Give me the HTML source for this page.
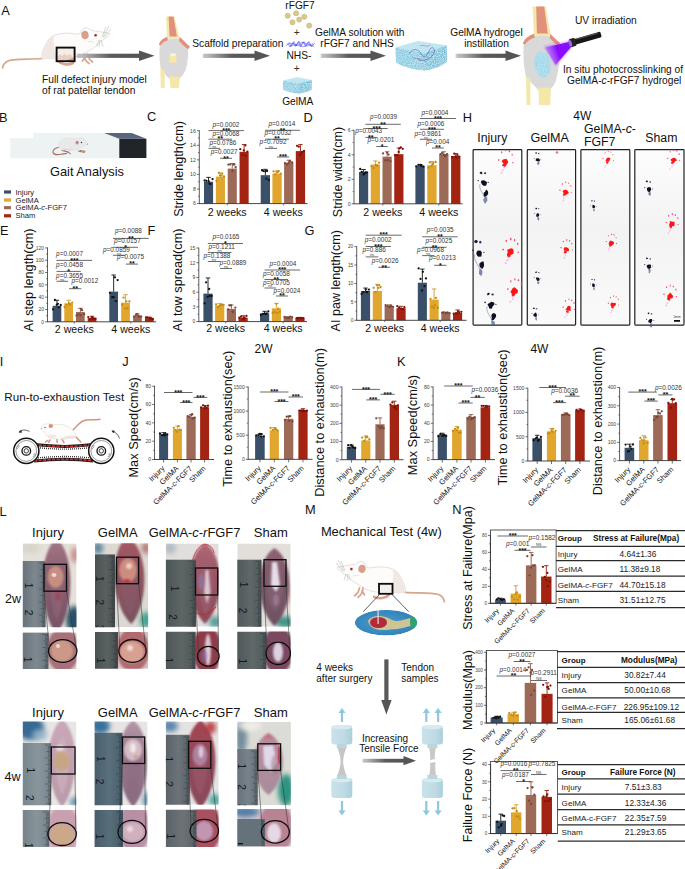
<!DOCTYPE html>
<html><head><meta charset="utf-8"><style>
html,body{margin:0;padding:0;background:#fff;width:685px;height:869px;overflow:hidden;}
svg{display:block;}
</style></head><body>
<svg width="685" height="869" viewBox="0 0 685 869" font-family='"Liberation Sans", sans-serif'>
<rect x="0.00" y="0.00" width="685.00" height="869.00" fill="#ffffff"/>
<text x="1.20" y="14.70" font-size="12.8" fill="#111">A</text>
<text x="-0.95" y="121.50" font-size="12.8" fill="#111">B</text>
<text x="147.08" y="121.40" font-size="12.8" fill="#111">C</text>
<text x="303.52" y="122.00" font-size="12.8" fill="#111">D</text>
<text x="462.80" y="121.80" font-size="12.8" fill="#111">H</text>
<text x="0.00" y="235.00" font-size="12.8" fill="#111">E</text>
<text x="147.50" y="234.50" font-size="12.8" fill="#111">F</text>
<text x="304.40" y="235.00" font-size="12.8" fill="#111">G</text>
<text x="-0.20" y="365.80" font-size="12.8" fill="#111">I</text>
<text x="122.30" y="366.00" font-size="12.8" fill="#111">J</text>
<text x="397.05" y="366.00" font-size="12.8" fill="#111">K</text>
<text x="-0.45" y="515.80" font-size="12.8" fill="#111">L</text>
<text x="305.05" y="513.60" font-size="12.8" fill="#111">M</text>
<text x="452.13" y="514.00" font-size="12.8" fill="#111">N</text>
<rect x="204.00" y="181.73" width="9.10" height="21.87" fill="#3a5069"/>
<line x1="208.55" y1="181.73" x2="208.55" y2="177.36" stroke="#111111" stroke-width="0.9"/>
<line x1="206.35" y1="177.36" x2="210.75" y2="177.36" stroke="#111111" stroke-width="0.9"/>
<circle cx="204.64" cy="180.50" r="1.15" fill="#111111"/>
<circle cx="206.43" cy="180.79" r="1.15" fill="#111111"/>
<circle cx="208.75" cy="181.46" r="1.15" fill="#111111"/>
<circle cx="210.66" cy="184.06" r="1.15" fill="#111111"/>
<circle cx="212.52" cy="179.05" r="1.15" fill="#111111"/>
<circle cx="209.51" cy="183.85" r="1.15" fill="#111111"/>
<rect x="215.85" y="176.63" width="9.10" height="26.97" fill="#e0a62d"/>
<line x1="220.40" y1="176.63" x2="220.40" y2="172.98" stroke="#d39c20" stroke-width="0.9"/>
<line x1="218.20" y1="172.98" x2="222.60" y2="172.98" stroke="#d39c20" stroke-width="0.9"/>
<circle cx="216.48" cy="180.80" r="1.15" fill="#c58d10"/>
<circle cx="218.87" cy="172.82" r="1.15" fill="#c58d10"/>
<circle cx="220.02" cy="175.38" r="1.15" fill="#c58d10"/>
<circle cx="222.26" cy="173.60" r="1.15" fill="#c58d10"/>
<circle cx="224.09" cy="176.51" r="1.15" fill="#c58d10"/>
<circle cx="221.57" cy="175.59" r="1.15" fill="#c58d10"/>
<rect x="227.70" y="168.61" width="9.10" height="34.99" fill="#9d6a58"/>
<line x1="232.25" y1="168.61" x2="232.25" y2="163.50" stroke="#8e5a48" stroke-width="0.9"/>
<line x1="230.05" y1="163.50" x2="234.45" y2="163.50" stroke="#8e5a48" stroke-width="0.9"/>
<circle cx="228.35" cy="164.55" r="1.15" fill="#7d4535"/>
<circle cx="230.21" cy="164.43" r="1.15" fill="#7d4535"/>
<circle cx="232.52" cy="170.94" r="1.15" fill="#7d4535"/>
<circle cx="234.39" cy="164.45" r="1.15" fill="#7d4535"/>
<circle cx="235.62" cy="167.25" r="1.15" fill="#7d4535"/>
<circle cx="233.27" cy="164.56" r="1.15" fill="#7d4535"/>
<rect x="239.55" y="151.84" width="9.10" height="51.76" fill="#a32413"/>
<line x1="244.10" y1="151.84" x2="244.10" y2="144.55" stroke="#951d10" stroke-width="0.9"/>
<line x1="241.90" y1="144.55" x2="246.30" y2="144.55" stroke="#951d10" stroke-width="0.9"/>
<circle cx="240.29" cy="149.21" r="1.15" fill="#7c1206"/>
<circle cx="242.32" cy="154.83" r="1.15" fill="#7c1206"/>
<circle cx="243.86" cy="150.40" r="1.15" fill="#7c1206"/>
<circle cx="245.65" cy="155.91" r="1.15" fill="#7c1206"/>
<circle cx="247.37" cy="151.61" r="1.15" fill="#7c1206"/>
<circle cx="245.39" cy="145.38" r="1.15" fill="#7c1206"/>
<rect x="260.70" y="175.17" width="9.30" height="28.43" fill="#3a5069"/>
<line x1="265.35" y1="175.17" x2="265.35" y2="169.34" stroke="#111111" stroke-width="0.9"/>
<line x1="263.15" y1="169.34" x2="267.55" y2="169.34" stroke="#111111" stroke-width="0.9"/>
<circle cx="262.01" cy="170.14" r="1.15" fill="#111111"/>
<circle cx="263.37" cy="171.09" r="1.15" fill="#111111"/>
<circle cx="265.26" cy="171.33" r="1.15" fill="#111111"/>
<circle cx="267.05" cy="170.97" r="1.15" fill="#111111"/>
<circle cx="268.90" cy="180.05" r="1.15" fill="#111111"/>
<circle cx="266.42" cy="178.72" r="1.15" fill="#111111"/>
<rect x="272.40" y="173.71" width="9.30" height="29.89" fill="#e0a62d"/>
<line x1="277.05" y1="173.71" x2="277.05" y2="170.79" stroke="#d39c20" stroke-width="0.9"/>
<line x1="274.85" y1="170.79" x2="279.25" y2="170.79" stroke="#d39c20" stroke-width="0.9"/>
<circle cx="273.54" cy="171.41" r="1.15" fill="#c58d10"/>
<circle cx="275.05" cy="174.47" r="1.15" fill="#c58d10"/>
<circle cx="276.78" cy="172.24" r="1.15" fill="#c58d10"/>
<circle cx="278.69" cy="171.04" r="1.15" fill="#c58d10"/>
<circle cx="280.75" cy="173.68" r="1.15" fill="#c58d10"/>
<circle cx="277.93" cy="171.70" r="1.15" fill="#c58d10"/>
<rect x="284.10" y="162.78" width="9.30" height="40.82" fill="#9d6a58"/>
<line x1="288.75" y1="162.78" x2="288.75" y2="160.22" stroke="#8e5a48" stroke-width="0.9"/>
<line x1="286.55" y1="160.22" x2="290.95" y2="160.22" stroke="#8e5a48" stroke-width="0.9"/>
<circle cx="284.95" cy="163.10" r="1.15" fill="#7d4535"/>
<circle cx="286.98" cy="164.49" r="1.15" fill="#7d4535"/>
<circle cx="288.61" cy="163.01" r="1.15" fill="#7d4535"/>
<circle cx="290.23" cy="161.65" r="1.15" fill="#7d4535"/>
<circle cx="292.10" cy="162.48" r="1.15" fill="#7d4535"/>
<circle cx="289.92" cy="160.86" r="1.15" fill="#7d4535"/>
<rect x="295.80" y="151.11" width="9.30" height="52.49" fill="#a32413"/>
<line x1="300.45" y1="151.11" x2="300.45" y2="144.55" stroke="#951d10" stroke-width="0.9"/>
<line x1="298.25" y1="144.55" x2="302.65" y2="144.55" stroke="#951d10" stroke-width="0.9"/>
<circle cx="297.03" cy="145.81" r="1.15" fill="#7c1206"/>
<circle cx="298.77" cy="146.64" r="1.15" fill="#7c1206"/>
<circle cx="300.30" cy="154.89" r="1.15" fill="#7c1206"/>
<circle cx="302.17" cy="151.90" r="1.15" fill="#7c1206"/>
<circle cx="303.99" cy="150.89" r="1.15" fill="#7c1206"/>
<circle cx="301.42" cy="152.60" r="1.15" fill="#7c1206"/>
<line x1="199.30" y1="203.60" x2="199.30" y2="130.30" stroke="#333" stroke-width="0.8"/>
<line x1="198.90" y1="203.60" x2="307.50" y2="203.60" stroke="#333" stroke-width="0.9"/>
<line x1="196.90" y1="203.60" x2="199.30" y2="203.60" stroke="#333" stroke-width="0.7"/>
<text x="195.90" y="205.47" font-size="5.2" fill="#444" text-anchor="end">6</text>
<line x1="196.90" y1="189.02" x2="199.30" y2="189.02" stroke="#333" stroke-width="0.7"/>
<text x="195.90" y="190.89" font-size="5.2" fill="#444" text-anchor="end">8</text>
<line x1="196.90" y1="174.44" x2="199.30" y2="174.44" stroke="#333" stroke-width="0.7"/>
<text x="195.90" y="176.31" font-size="5.2" fill="#444" text-anchor="end">10</text>
<line x1="196.90" y1="159.86" x2="199.30" y2="159.86" stroke="#333" stroke-width="0.7"/>
<text x="195.90" y="161.73" font-size="5.2" fill="#444" text-anchor="end">12</text>
<line x1="196.90" y1="145.28" x2="199.30" y2="145.28" stroke="#333" stroke-width="0.7"/>
<text x="195.90" y="147.15" font-size="5.2" fill="#444" text-anchor="end">14</text>
<line x1="196.90" y1="130.70" x2="199.30" y2="130.70" stroke="#333" stroke-width="0.7"/>
<text x="195.90" y="132.57" font-size="5.2" fill="#444" text-anchor="end">16</text>
<line x1="197.90" y1="196.31" x2="199.30" y2="196.31" stroke="#333" stroke-width="0.6"/>
<line x1="197.90" y1="181.73" x2="199.30" y2="181.73" stroke="#333" stroke-width="0.6"/>
<line x1="197.90" y1="167.15" x2="199.30" y2="167.15" stroke="#333" stroke-width="0.6"/>
<line x1="197.90" y1="152.57" x2="199.30" y2="152.57" stroke="#333" stroke-width="0.6"/>
<line x1="197.90" y1="137.99" x2="199.30" y2="137.99" stroke="#333" stroke-width="0.6"/>
<text x="183.20" y="168.90" font-size="12.6" fill="#111" text-anchor="middle" transform="rotate(-90 183.20 168.90)">Stride length(cm)</text>
<text x="227.20" y="215.90" font-size="10.6" fill="#111" text-anchor="middle">2 weeks</text>
<line x1="227.20" y1="203.60" x2="227.20" y2="205.40" stroke="#333" stroke-width="0.7"/>
<text x="283.30" y="215.90" font-size="10.6" fill="#111" text-anchor="middle">4 weeks</text>
<line x1="283.30" y1="203.60" x2="283.30" y2="205.40" stroke="#333" stroke-width="0.7"/>
<line x1="208.50" y1="130.60" x2="244.00" y2="130.60" stroke="#444" stroke-width="0.8"/>
<text x="226.25" y="132.80" font-size="7.0" fill="#111" text-anchor="middle" font-weight="bold">***</text>
<text x="212.50" y="126.80" font-size="6.4" fill="#333"><tspan font-style="italic">p</tspan>=0.0002</text>
<line x1="208.50" y1="139.20" x2="232.00" y2="139.20" stroke="#444" stroke-width="0.8"/>
<text x="220.25" y="141.40" font-size="7.0" fill="#111" text-anchor="middle" font-weight="bold">**</text>
<text x="212.50" y="135.50" font-size="6.4" fill="#333"><tspan font-style="italic">p</tspan>=0.0068</text>
<line x1="208.50" y1="148.40" x2="220.00" y2="148.40" stroke="#444" stroke-width="0.8"/>
<text x="214.25" y="147.70" font-size="4.0" fill="#444" text-anchor="middle">ns</text>
<text x="209.50" y="144.50" font-size="6.4" fill="#333"><tspan font-style="italic">p</tspan>=0.0786</text>
<line x1="220.00" y1="158.30" x2="232.00" y2="158.30" stroke="#444" stroke-width="0.8"/>
<text x="226.00" y="160.50" font-size="7.0" fill="#111" text-anchor="middle" font-weight="bold">**</text>
<text x="210.70" y="153.50" font-size="6.4" fill="#333"><tspan font-style="italic">p</tspan>=0.0027</text>
<line x1="265.00" y1="130.30" x2="300.00" y2="130.30" stroke="#444" stroke-width="0.8"/>
<text x="282.50" y="132.50" font-size="7.0" fill="#111" text-anchor="middle" font-weight="bold">**</text>
<text x="268.50" y="126.00" font-size="6.4" fill="#333"><tspan font-style="italic">p</tspan>=0.0014</text>
<line x1="265.00" y1="139.20" x2="289.00" y2="139.20" stroke="#444" stroke-width="0.8"/>
<text x="277.00" y="141.40" font-size="7.0" fill="#111" text-anchor="middle" font-weight="bold">**</text>
<text x="264.50" y="135.30" font-size="6.4" fill="#333"><tspan font-style="italic">p</tspan>=0.0032</text>
<line x1="265.00" y1="148.40" x2="277.00" y2="148.40" stroke="#444" stroke-width="0.8"/>
<text x="271.00" y="147.70" font-size="4.0" fill="#444" text-anchor="middle">ns</text>
<text x="259.60" y="144.40" font-size="6.4" fill="#333"><tspan font-style="italic">p</tspan>=0.7092</text>
<line x1="277.00" y1="157.00" x2="289.00" y2="157.00" stroke="#444" stroke-width="0.8"/>
<text x="283.00" y="159.20" font-size="7.0" fill="#111" text-anchor="middle" font-weight="bold">***</text>
<rect x="359.00" y="171.95" width="9.20" height="31.85" fill="#3a5069"/>
<line x1="363.60" y1="171.95" x2="363.60" y2="169.50" stroke="#111111" stroke-width="0.9"/>
<line x1="361.40" y1="169.50" x2="365.80" y2="169.50" stroke="#111111" stroke-width="0.9"/>
<circle cx="360.20" cy="169.01" r="1.15" fill="#111111"/>
<circle cx="361.75" cy="171.89" r="1.15" fill="#111111"/>
<circle cx="363.54" cy="174.48" r="1.15" fill="#111111"/>
<circle cx="365.36" cy="172.45" r="1.15" fill="#111111"/>
<circle cx="366.96" cy="172.38" r="1.15" fill="#111111"/>
<circle cx="364.65" cy="173.51" r="1.15" fill="#111111"/>
<rect x="370.75" y="164.60" width="9.20" height="39.20" fill="#e0a62d"/>
<line x1="375.35" y1="164.60" x2="375.35" y2="160.93" stroke="#d39c20" stroke-width="0.9"/>
<line x1="373.15" y1="160.93" x2="377.55" y2="160.93" stroke="#d39c20" stroke-width="0.9"/>
<circle cx="371.51" cy="166.07" r="1.15" fill="#c58d10"/>
<circle cx="373.57" cy="168.05" r="1.15" fill="#c58d10"/>
<circle cx="375.65" cy="164.79" r="1.15" fill="#c58d10"/>
<circle cx="377.39" cy="165.39" r="1.15" fill="#c58d10"/>
<circle cx="379.06" cy="162.70" r="1.15" fill="#c58d10"/>
<circle cx="376.49" cy="165.68" r="1.15" fill="#c58d10"/>
<rect x="382.50" y="156.64" width="9.20" height="47.16" fill="#9d6a58"/>
<line x1="387.10" y1="156.64" x2="387.10" y2="151.74" stroke="#8e5a48" stroke-width="0.9"/>
<line x1="384.90" y1="151.74" x2="389.30" y2="151.74" stroke="#8e5a48" stroke-width="0.9"/>
<circle cx="383.11" cy="153.41" r="1.15" fill="#7d4535"/>
<circle cx="385.32" cy="160.50" r="1.15" fill="#7d4535"/>
<circle cx="387.17" cy="152.79" r="1.15" fill="#7d4535"/>
<circle cx="388.57" cy="154.61" r="1.15" fill="#7d4535"/>
<circle cx="390.50" cy="161.34" r="1.15" fill="#7d4535"/>
<circle cx="387.77" cy="160.16" r="1.15" fill="#7d4535"/>
<rect x="394.25" y="154.19" width="9.20" height="49.61" fill="#a32413"/>
<line x1="398.85" y1="154.19" x2="398.85" y2="148.06" stroke="#951d10" stroke-width="0.9"/>
<line x1="396.65" y1="148.06" x2="401.05" y2="148.06" stroke="#951d10" stroke-width="0.9"/>
<circle cx="394.88" cy="155.03" r="1.15" fill="#7c1206"/>
<circle cx="397.12" cy="155.19" r="1.15" fill="#7c1206"/>
<circle cx="398.64" cy="151.90" r="1.15" fill="#7c1206"/>
<circle cx="400.89" cy="147.38" r="1.15" fill="#7c1206"/>
<circle cx="402.75" cy="148.81" r="1.15" fill="#7c1206"/>
<circle cx="399.41" cy="148.29" r="1.15" fill="#7c1206"/>
<rect x="415.40" y="165.83" width="9.30" height="37.98" fill="#3a5069"/>
<line x1="420.05" y1="165.83" x2="420.05" y2="164.60" stroke="#111111" stroke-width="0.9"/>
<line x1="417.85" y1="164.60" x2="422.25" y2="164.60" stroke="#111111" stroke-width="0.9"/>
<circle cx="416.31" cy="166.31" r="1.15" fill="#111111"/>
<circle cx="418.42" cy="164.80" r="1.15" fill="#111111"/>
<circle cx="420.45" cy="164.96" r="1.15" fill="#111111"/>
<circle cx="421.49" cy="165.43" r="1.15" fill="#111111"/>
<circle cx="423.32" cy="166.64" r="1.15" fill="#111111"/>
<circle cx="421.04" cy="165.66" r="1.15" fill="#111111"/>
<rect x="427.30" y="165.21" width="9.30" height="38.59" fill="#e0a62d"/>
<line x1="431.95" y1="165.21" x2="431.95" y2="161.54" stroke="#d39c20" stroke-width="0.9"/>
<line x1="429.75" y1="161.54" x2="434.15" y2="161.54" stroke="#d39c20" stroke-width="0.9"/>
<circle cx="428.46" cy="167.79" r="1.15" fill="#c58d10"/>
<circle cx="429.79" cy="162.42" r="1.15" fill="#c58d10"/>
<circle cx="431.63" cy="166.15" r="1.15" fill="#c58d10"/>
<circle cx="433.40" cy="163.07" r="1.15" fill="#c58d10"/>
<circle cx="435.71" cy="162.02" r="1.15" fill="#c58d10"/>
<circle cx="432.71" cy="164.27" r="1.15" fill="#c58d10"/>
<rect x="439.20" y="154.19" width="9.30" height="49.61" fill="#9d6a58"/>
<line x1="443.85" y1="154.19" x2="443.85" y2="151.74" stroke="#8e5a48" stroke-width="0.9"/>
<line x1="441.65" y1="151.74" x2="446.05" y2="151.74" stroke="#8e5a48" stroke-width="0.9"/>
<circle cx="440.55" cy="154.17" r="1.15" fill="#7d4535"/>
<circle cx="442.16" cy="152.96" r="1.15" fill="#7d4535"/>
<circle cx="443.77" cy="154.81" r="1.15" fill="#7d4535"/>
<circle cx="445.64" cy="155.06" r="1.15" fill="#7d4535"/>
<circle cx="447.07" cy="154.11" r="1.15" fill="#7d4535"/>
<circle cx="445.10" cy="156.30" r="1.15" fill="#7d4535"/>
<rect x="451.10" y="156.03" width="9.30" height="47.77" fill="#a32413"/>
<line x1="455.75" y1="156.03" x2="455.75" y2="153.58" stroke="#951d10" stroke-width="0.9"/>
<line x1="453.55" y1="153.58" x2="457.95" y2="153.58" stroke="#951d10" stroke-width="0.9"/>
<circle cx="452.24" cy="157.26" r="1.15" fill="#7c1206"/>
<circle cx="454.30" cy="153.69" r="1.15" fill="#7c1206"/>
<circle cx="455.52" cy="156.55" r="1.15" fill="#7c1206"/>
<circle cx="457.39" cy="154.90" r="1.15" fill="#7c1206"/>
<circle cx="459.13" cy="156.66" r="1.15" fill="#7c1206"/>
<circle cx="456.27" cy="157.73" r="1.15" fill="#7c1206"/>
<line x1="354.00" y1="203.80" x2="354.00" y2="129.90" stroke="#333" stroke-width="0.8"/>
<line x1="353.60" y1="203.80" x2="462.50" y2="203.80" stroke="#333" stroke-width="0.9"/>
<line x1="351.60" y1="203.80" x2="354.00" y2="203.80" stroke="#333" stroke-width="0.7"/>
<text x="350.60" y="205.67" font-size="5.2" fill="#444" text-anchor="end">0</text>
<line x1="351.60" y1="179.30" x2="354.00" y2="179.30" stroke="#333" stroke-width="0.7"/>
<text x="350.60" y="181.17" font-size="5.2" fill="#444" text-anchor="end">2</text>
<line x1="351.60" y1="154.80" x2="354.00" y2="154.80" stroke="#333" stroke-width="0.7"/>
<text x="350.60" y="156.67" font-size="5.2" fill="#444" text-anchor="end">4</text>
<line x1="351.60" y1="130.30" x2="354.00" y2="130.30" stroke="#333" stroke-width="0.7"/>
<text x="350.60" y="132.17" font-size="5.2" fill="#444" text-anchor="end">6</text>
<line x1="352.60" y1="191.55" x2="354.00" y2="191.55" stroke="#333" stroke-width="0.6"/>
<line x1="352.60" y1="167.05" x2="354.00" y2="167.05" stroke="#333" stroke-width="0.6"/>
<line x1="352.60" y1="142.55" x2="354.00" y2="142.55" stroke="#333" stroke-width="0.6"/>
<text x="342.00" y="172.00" font-size="12.5" fill="#111" text-anchor="middle" transform="rotate(-90 342.00 172.00)">Stride width(cm)</text>
<text x="382.80" y="215.60" font-size="10.6" fill="#111" text-anchor="middle">2 weeks</text>
<line x1="382.80" y1="203.80" x2="382.80" y2="205.60" stroke="#333" stroke-width="0.7"/>
<text x="438.80" y="215.60" font-size="10.6" fill="#111" text-anchor="middle">4 weeks</text>
<line x1="438.80" y1="203.80" x2="438.80" y2="205.60" stroke="#333" stroke-width="0.7"/>
<line x1="365.40" y1="124.30" x2="400.80" y2="124.30" stroke="#444" stroke-width="0.8"/>
<text x="383.10" y="126.50" font-size="7.0" fill="#111" text-anchor="middle" font-weight="bold">**</text>
<text x="370.10" y="119.40" font-size="6.4" fill="#333"><tspan font-style="italic">p</tspan>=0.0039</text>
<line x1="365.40" y1="128.50" x2="387.70" y2="128.50" stroke="#444" stroke-width="0.8"/>
<text x="376.55" y="130.70" font-size="7.0" fill="#111" text-anchor="middle" font-weight="bold">***</text>
<line x1="365.40" y1="137.40" x2="376.30" y2="137.40" stroke="#444" stroke-width="0.8"/>
<text x="370.85" y="139.60" font-size="7.0" fill="#111" text-anchor="middle" font-weight="bold">**</text>
<text x="355.30" y="133.40" font-size="6.4" fill="#333"><tspan font-style="italic">p</tspan>=0.0043</text>
<line x1="376.30" y1="146.50" x2="387.70" y2="146.50" stroke="#444" stroke-width="0.8"/>
<text x="382.00" y="148.70" font-size="7.0" fill="#111" text-anchor="middle" font-weight="bold">*</text>
<text x="367.50" y="142.20" font-size="6.4" fill="#333"><tspan font-style="italic">p</tspan>=0.0201</text>
<line x1="420.00" y1="118.50" x2="456.00" y2="118.50" stroke="#444" stroke-width="0.8"/>
<text x="438.00" y="120.70" font-size="7.0" fill="#111" text-anchor="middle" font-weight="bold">***</text>
<text x="421.50" y="114.50" font-size="6.4" fill="#333"><tspan font-style="italic">p</tspan>=0.0004</text>
<line x1="420.00" y1="129.30" x2="444.00" y2="129.30" stroke="#444" stroke-width="0.8"/>
<text x="432.00" y="131.50" font-size="7.0" fill="#111" text-anchor="middle" font-weight="bold">***</text>
<text x="417.50" y="125.50" font-size="6.4" fill="#333"><tspan font-style="italic">p</tspan>=0.0006</text>
<line x1="420.00" y1="139.30" x2="432.00" y2="139.30" stroke="#444" stroke-width="0.8"/>
<text x="426.00" y="138.60" font-size="4.0" fill="#444" text-anchor="middle">ns</text>
<text x="414.50" y="135.50" font-size="6.4" fill="#333"><tspan font-style="italic">p</tspan>=0.9861</text>
<line x1="432.00" y1="148.00" x2="444.00" y2="148.00" stroke="#444" stroke-width="0.8"/>
<text x="438.00" y="150.20" font-size="7.0" fill="#111" text-anchor="middle" font-weight="bold">**</text>
<text x="426.00" y="144.00" font-size="6.4" fill="#333"><tspan font-style="italic">p</tspan>=0.004</text>
<rect x="52.60" y="305.79" width="8.70" height="16.01" fill="#3a5069"/>
<line x1="56.95" y1="305.79" x2="56.95" y2="300.25" stroke="#111111" stroke-width="0.9"/>
<line x1="54.75" y1="300.25" x2="59.15" y2="300.25" stroke="#111111" stroke-width="0.9"/>
<circle cx="53.00" cy="309.35" r="1.15" fill="#111111"/>
<circle cx="54.90" cy="299.99" r="1.15" fill="#111111"/>
<circle cx="56.78" cy="304.84" r="1.15" fill="#111111"/>
<circle cx="58.68" cy="307.46" r="1.15" fill="#111111"/>
<circle cx="60.72" cy="305.00" r="1.15" fill="#111111"/>
<circle cx="57.87" cy="303.85" r="1.15" fill="#111111"/>
<rect x="64.30" y="303.33" width="8.70" height="18.47" fill="#e0a62d"/>
<line x1="68.65" y1="303.33" x2="68.65" y2="300.25" stroke="#d39c20" stroke-width="0.9"/>
<line x1="66.45" y1="300.25" x2="70.85" y2="300.25" stroke="#d39c20" stroke-width="0.9"/>
<circle cx="64.67" cy="307.02" r="1.15" fill="#c58d10"/>
<circle cx="66.78" cy="304.80" r="1.15" fill="#c58d10"/>
<circle cx="69.03" cy="303.10" r="1.15" fill="#c58d10"/>
<circle cx="70.19" cy="304.13" r="1.15" fill="#c58d10"/>
<circle cx="72.21" cy="302.60" r="1.15" fill="#c58d10"/>
<circle cx="69.78" cy="304.47" r="1.15" fill="#c58d10"/>
<rect x="76.00" y="311.95" width="8.70" height="9.85" fill="#9d6a58"/>
<line x1="80.35" y1="311.95" x2="80.35" y2="308.25" stroke="#8e5a48" stroke-width="0.9"/>
<line x1="78.15" y1="308.25" x2="82.55" y2="308.25" stroke="#8e5a48" stroke-width="0.9"/>
<circle cx="76.46" cy="315.54" r="1.15" fill="#7d4535"/>
<circle cx="78.51" cy="314.50" r="1.15" fill="#7d4535"/>
<circle cx="80.69" cy="315.38" r="1.15" fill="#7d4535"/>
<circle cx="82.03" cy="310.20" r="1.15" fill="#7d4535"/>
<circle cx="84.15" cy="314.22" r="1.15" fill="#7d4535"/>
<circle cx="80.95" cy="309.05" r="1.15" fill="#7d4535"/>
<rect x="87.70" y="318.11" width="8.70" height="3.69" fill="#a32413"/>
<line x1="92.05" y1="318.11" x2="92.05" y2="316.26" stroke="#951d10" stroke-width="0.9"/>
<line x1="89.85" y1="316.26" x2="94.25" y2="316.26" stroke="#951d10" stroke-width="0.9"/>
<circle cx="88.29" cy="317.09" r="1.15" fill="#7c1206"/>
<circle cx="90.45" cy="319.02" r="1.15" fill="#7c1206"/>
<circle cx="91.96" cy="317.24" r="1.15" fill="#7c1206"/>
<circle cx="93.86" cy="318.74" r="1.15" fill="#7c1206"/>
<circle cx="95.45" cy="318.74" r="1.15" fill="#7c1206"/>
<circle cx="93.19" cy="318.41" r="1.15" fill="#7c1206"/>
<rect x="109.30" y="291.63" width="8.70" height="30.17" fill="#3a5069"/>
<line x1="113.65" y1="291.63" x2="113.65" y2="275.00" stroke="#111111" stroke-width="0.9"/>
<line x1="111.45" y1="275.00" x2="115.85" y2="275.00" stroke="#111111" stroke-width="0.9"/>
<circle cx="109.98" cy="292.81" r="1.15" fill="#111111"/>
<circle cx="112.21" cy="297.21" r="1.15" fill="#111111"/>
<circle cx="113.70" cy="297.26" r="1.15" fill="#111111"/>
<circle cx="115.80" cy="301.06" r="1.15" fill="#111111"/>
<circle cx="117.62" cy="280.06" r="1.15" fill="#111111"/>
<circle cx="114.93" cy="277.34" r="1.15" fill="#111111"/>
<rect x="121.20" y="302.71" width="8.70" height="19.09" fill="#e0a62d"/>
<line x1="125.55" y1="302.71" x2="125.55" y2="294.70" stroke="#d39c20" stroke-width="0.9"/>
<line x1="123.35" y1="294.70" x2="127.75" y2="294.70" stroke="#d39c20" stroke-width="0.9"/>
<circle cx="122.14" cy="304.68" r="1.15" fill="#c58d10"/>
<circle cx="123.54" cy="297.67" r="1.15" fill="#c58d10"/>
<circle cx="125.27" cy="308.60" r="1.15" fill="#c58d10"/>
<circle cx="127.53" cy="308.48" r="1.15" fill="#c58d10"/>
<circle cx="129.41" cy="301.40" r="1.15" fill="#c58d10"/>
<circle cx="126.36" cy="301.44" r="1.15" fill="#c58d10"/>
<rect x="133.10" y="315.64" width="8.70" height="6.16" fill="#9d6a58"/>
<line x1="137.45" y1="315.64" x2="137.45" y2="313.79" stroke="#8e5a48" stroke-width="0.9"/>
<line x1="135.25" y1="313.79" x2="139.65" y2="313.79" stroke="#8e5a48" stroke-width="0.9"/>
<circle cx="134.09" cy="316.59" r="1.15" fill="#7d4535"/>
<circle cx="135.97" cy="314.95" r="1.15" fill="#7d4535"/>
<circle cx="137.22" cy="314.04" r="1.15" fill="#7d4535"/>
<circle cx="139.43" cy="316.73" r="1.15" fill="#7d4535"/>
<circle cx="141.26" cy="316.56" r="1.15" fill="#7d4535"/>
<circle cx="138.45" cy="316.02" r="1.15" fill="#7d4535"/>
<rect x="145.00" y="318.11" width="8.70" height="3.69" fill="#a32413"/>
<line x1="149.35" y1="318.11" x2="149.35" y2="317.18" stroke="#951d10" stroke-width="0.9"/>
<line x1="147.15" y1="317.18" x2="151.55" y2="317.18" stroke="#951d10" stroke-width="0.9"/>
<circle cx="145.97" cy="317.37" r="1.15" fill="#7c1206"/>
<circle cx="147.35" cy="317.35" r="1.15" fill="#7c1206"/>
<circle cx="149.56" cy="317.88" r="1.15" fill="#7c1206"/>
<circle cx="151.21" cy="318.30" r="1.15" fill="#7c1206"/>
<circle cx="152.88" cy="318.93" r="1.15" fill="#7c1206"/>
<circle cx="150.53" cy="318.56" r="1.15" fill="#7c1206"/>
<line x1="47.50" y1="321.80" x2="47.50" y2="247.50" stroke="#333" stroke-width="0.8"/>
<line x1="47.10" y1="321.80" x2="156.00" y2="321.80" stroke="#333" stroke-width="0.9"/>
<line x1="45.10" y1="321.80" x2="47.50" y2="321.80" stroke="#333" stroke-width="0.7"/>
<text x="44.10" y="323.60" font-size="5.0" fill="#444" text-anchor="end">0</text>
<line x1="45.10" y1="309.48" x2="47.50" y2="309.48" stroke="#333" stroke-width="0.7"/>
<text x="44.10" y="311.28" font-size="5.0" fill="#444" text-anchor="end">20</text>
<line x1="45.10" y1="297.17" x2="47.50" y2="297.17" stroke="#333" stroke-width="0.7"/>
<text x="44.10" y="298.97" font-size="5.0" fill="#444" text-anchor="end">40</text>
<line x1="45.10" y1="284.85" x2="47.50" y2="284.85" stroke="#333" stroke-width="0.7"/>
<text x="44.10" y="286.65" font-size="5.0" fill="#444" text-anchor="end">60</text>
<line x1="45.10" y1="272.54" x2="47.50" y2="272.54" stroke="#333" stroke-width="0.7"/>
<text x="44.10" y="274.34" font-size="5.0" fill="#444" text-anchor="end">80</text>
<line x1="45.10" y1="260.22" x2="47.50" y2="260.22" stroke="#333" stroke-width="0.7"/>
<text x="44.10" y="262.02" font-size="5.0" fill="#444" text-anchor="end">100</text>
<line x1="45.10" y1="247.90" x2="47.50" y2="247.90" stroke="#333" stroke-width="0.7"/>
<text x="44.10" y="249.70" font-size="5.0" fill="#444" text-anchor="end">120</text>
<line x1="46.10" y1="315.64" x2="47.50" y2="315.64" stroke="#333" stroke-width="0.6"/>
<line x1="46.10" y1="303.33" x2="47.50" y2="303.33" stroke="#333" stroke-width="0.6"/>
<line x1="46.10" y1="291.01" x2="47.50" y2="291.01" stroke="#333" stroke-width="0.6"/>
<line x1="46.10" y1="278.69" x2="47.50" y2="278.69" stroke="#333" stroke-width="0.6"/>
<line x1="46.10" y1="266.38" x2="47.50" y2="266.38" stroke="#333" stroke-width="0.6"/>
<line x1="46.10" y1="254.06" x2="47.50" y2="254.06" stroke="#333" stroke-width="0.6"/>
<text x="32.60" y="279.90" font-size="12.7" fill="#111" text-anchor="middle" transform="rotate(-90 32.60 279.90)">AI step length(cm)</text>
<text x="74.30" y="332.60" font-size="10.6" fill="#111" text-anchor="middle">2 weeks</text>
<line x1="74.30" y1="321.80" x2="74.30" y2="323.60" stroke="#333" stroke-width="0.7"/>
<text x="130.80" y="332.60" font-size="10.6" fill="#111" text-anchor="middle">4 weeks</text>
<line x1="130.80" y1="321.80" x2="130.80" y2="323.60" stroke="#333" stroke-width="0.7"/>
<line x1="56.50" y1="260.40" x2="92.10" y2="260.40" stroke="#444" stroke-width="0.8"/>
<text x="74.30" y="262.60" font-size="7.0" fill="#111" text-anchor="middle" font-weight="bold">***</text>
<text x="56.10" y="255.60" font-size="6.4" fill="#333"><tspan font-style="italic">p</tspan>=0.0007</text>
<line x1="56.50" y1="271.40" x2="80.80" y2="271.40" stroke="#444" stroke-width="0.8"/>
<text x="68.65" y="273.60" font-size="7.0" fill="#111" text-anchor="middle" font-weight="bold">*</text>
<text x="56.10" y="267.30" font-size="6.4" fill="#333"><tspan font-style="italic">p</tspan>=0.0458</text>
<line x1="56.50" y1="281.30" x2="68.00" y2="281.30" stroke="#444" stroke-width="0.8"/>
<text x="62.25" y="280.60" font-size="4.0" fill="#444" text-anchor="middle">ns</text>
<text x="56.10" y="277.50" font-size="6.4" fill="#333"><tspan font-style="italic">p</tspan>=0.3655</text>
<line x1="69.00" y1="288.70" x2="81.30" y2="288.70" stroke="#444" stroke-width="0.8"/>
<text x="75.15" y="290.90" font-size="7.0" fill="#111" text-anchor="middle" font-weight="bold">**</text>
<text x="71.40" y="283.40" font-size="6.4" fill="#333"><tspan font-style="italic">p</tspan>=0.0012</text>
<line x1="113.00" y1="238.40" x2="148.80" y2="238.40" stroke="#444" stroke-width="0.8"/>
<text x="130.90" y="240.60" font-size="7.0" fill="#111" text-anchor="middle" font-weight="bold">**</text>
<text x="115.00" y="232.80" font-size="6.4" fill="#333"><tspan font-style="italic">p</tspan>=0.0088</text>
<line x1="113.00" y1="247.30" x2="138.00" y2="247.30" stroke="#444" stroke-width="0.8"/>
<text x="125.50" y="249.50" font-size="7.0" fill="#111" text-anchor="middle" font-weight="bold">*</text>
<text x="113.90" y="243.30" font-size="6.4" fill="#333"><tspan font-style="italic">p</tspan>=0.0157</text>
<line x1="113.00" y1="255.30" x2="125.20" y2="255.30" stroke="#444" stroke-width="0.8"/>
<text x="119.10" y="254.60" font-size="4.0" fill="#444" text-anchor="middle">ns</text>
<text x="103.00" y="252.10" font-size="6.4" fill="#333"><tspan font-style="italic">p</tspan>=0.0859</text>
<line x1="125.80" y1="264.10" x2="138.00" y2="264.10" stroke="#444" stroke-width="0.8"/>
<text x="131.90" y="266.30" font-size="7.0" fill="#111" text-anchor="middle" font-weight="bold">**</text>
<text x="117.10" y="259.30" font-size="6.4" fill="#333"><tspan font-style="italic">p</tspan>=0.0075</text>
<rect x="203.40" y="293.63" width="9.20" height="27.97" fill="#3a5069"/>
<line x1="208.00" y1="293.63" x2="208.00" y2="277.93" stroke="#111111" stroke-width="0.9"/>
<line x1="205.80" y1="277.93" x2="210.20" y2="277.93" stroke="#111111" stroke-width="0.9"/>
<circle cx="204.60" cy="303.47" r="1.15" fill="#111111"/>
<circle cx="206.05" cy="282.37" r="1.15" fill="#111111"/>
<circle cx="207.75" cy="296.79" r="1.15" fill="#111111"/>
<circle cx="209.58" cy="295.84" r="1.15" fill="#111111"/>
<circle cx="211.58" cy="295.99" r="1.15" fill="#111111"/>
<circle cx="209.15" cy="289.01" r="1.15" fill="#111111"/>
<rect x="215.10" y="305.41" width="9.20" height="16.19" fill="#e0a62d"/>
<line x1="219.70" y1="305.41" x2="219.70" y2="303.44" stroke="#d39c20" stroke-width="0.9"/>
<line x1="217.50" y1="303.44" x2="221.90" y2="303.44" stroke="#d39c20" stroke-width="0.9"/>
<circle cx="216.07" cy="304.28" r="1.15" fill="#c58d10"/>
<circle cx="218.08" cy="307.16" r="1.15" fill="#c58d10"/>
<circle cx="219.71" cy="305.68" r="1.15" fill="#c58d10"/>
<circle cx="221.89" cy="304.72" r="1.15" fill="#c58d10"/>
<circle cx="223.57" cy="304.88" r="1.15" fill="#c58d10"/>
<circle cx="220.85" cy="305.12" r="1.15" fill="#c58d10"/>
<rect x="226.80" y="308.84" width="9.20" height="12.76" fill="#9d6a58"/>
<line x1="231.40" y1="308.84" x2="231.40" y2="304.92" stroke="#8e5a48" stroke-width="0.9"/>
<line x1="229.20" y1="304.92" x2="233.60" y2="304.92" stroke="#8e5a48" stroke-width="0.9"/>
<circle cx="228.11" cy="309.32" r="1.15" fill="#7d4535"/>
<circle cx="229.30" cy="305.31" r="1.15" fill="#7d4535"/>
<circle cx="231.02" cy="305.38" r="1.15" fill="#7d4535"/>
<circle cx="232.94" cy="312.18" r="1.15" fill="#7d4535"/>
<circle cx="235.34" cy="307.61" r="1.15" fill="#7d4535"/>
<circle cx="232.45" cy="311.54" r="1.15" fill="#7d4535"/>
<rect x="238.50" y="317.67" width="9.20" height="3.93" fill="#a32413"/>
<line x1="243.10" y1="317.67" x2="243.10" y2="315.71" stroke="#951d10" stroke-width="0.9"/>
<line x1="240.90" y1="315.71" x2="245.30" y2="315.71" stroke="#951d10" stroke-width="0.9"/>
<circle cx="239.30" cy="317.76" r="1.15" fill="#7c1206"/>
<circle cx="241.04" cy="316.67" r="1.15" fill="#7c1206"/>
<circle cx="243.17" cy="319.24" r="1.15" fill="#7c1206"/>
<circle cx="244.61" cy="318.08" r="1.15" fill="#7c1206"/>
<circle cx="246.45" cy="315.90" r="1.15" fill="#7c1206"/>
<circle cx="244.01" cy="317.47" r="1.15" fill="#7c1206"/>
<rect x="260.00" y="313.26" width="9.20" height="8.34" fill="#3a5069"/>
<line x1="264.60" y1="313.26" x2="264.60" y2="311.30" stroke="#111111" stroke-width="0.9"/>
<line x1="262.40" y1="311.30" x2="266.80" y2="311.30" stroke="#111111" stroke-width="0.9"/>
<circle cx="260.93" cy="315.05" r="1.15" fill="#111111"/>
<circle cx="262.91" cy="314.00" r="1.15" fill="#111111"/>
<circle cx="264.67" cy="313.53" r="1.15" fill="#111111"/>
<circle cx="266.76" cy="313.38" r="1.15" fill="#111111"/>
<circle cx="268.31" cy="311.42" r="1.15" fill="#111111"/>
<circle cx="265.87" cy="314.04" r="1.15" fill="#111111"/>
<rect x="271.80" y="308.35" width="9.20" height="13.25" fill="#e0a62d"/>
<line x1="276.40" y1="308.35" x2="276.40" y2="303.44" stroke="#d39c20" stroke-width="0.9"/>
<line x1="274.20" y1="303.44" x2="278.60" y2="303.44" stroke="#d39c20" stroke-width="0.9"/>
<circle cx="272.73" cy="313.11" r="1.15" fill="#c58d10"/>
<circle cx="274.63" cy="311.95" r="1.15" fill="#c58d10"/>
<circle cx="276.43" cy="303.79" r="1.15" fill="#c58d10"/>
<circle cx="278.25" cy="308.75" r="1.15" fill="#c58d10"/>
<circle cx="279.71" cy="311.82" r="1.15" fill="#c58d10"/>
<circle cx="277.08" cy="313.14" r="1.15" fill="#c58d10"/>
<rect x="283.60" y="317.67" width="9.20" height="3.93" fill="#9d6a58"/>
<line x1="288.20" y1="317.67" x2="288.20" y2="316.69" stroke="#8e5a48" stroke-width="0.9"/>
<line x1="286.00" y1="316.69" x2="290.40" y2="316.69" stroke="#8e5a48" stroke-width="0.9"/>
<circle cx="284.55" cy="317.00" r="1.15" fill="#7d4535"/>
<circle cx="286.06" cy="317.57" r="1.15" fill="#7d4535"/>
<circle cx="288.03" cy="317.98" r="1.15" fill="#7d4535"/>
<circle cx="290.21" cy="316.72" r="1.15" fill="#7d4535"/>
<circle cx="292.13" cy="317.27" r="1.15" fill="#7d4535"/>
<circle cx="289.04" cy="317.90" r="1.15" fill="#7d4535"/>
<rect x="295.40" y="318.17" width="9.20" height="3.43" fill="#a32413"/>
<line x1="300.00" y1="318.17" x2="300.00" y2="317.43" stroke="#951d10" stroke-width="0.9"/>
<line x1="297.80" y1="317.43" x2="302.20" y2="317.43" stroke="#951d10" stroke-width="0.9"/>
<circle cx="296.68" cy="318.20" r="1.15" fill="#7c1206"/>
<circle cx="298.08" cy="317.98" r="1.15" fill="#7c1206"/>
<circle cx="300.24" cy="318.07" r="1.15" fill="#7c1206"/>
<circle cx="302.04" cy="318.23" r="1.15" fill="#7c1206"/>
<circle cx="303.36" cy="318.16" r="1.15" fill="#7c1206"/>
<circle cx="300.85" cy="318.01" r="1.15" fill="#7c1206"/>
<line x1="198.80" y1="321.60" x2="198.80" y2="247.59" stroke="#333" stroke-width="0.8"/>
<line x1="198.40" y1="321.60" x2="307.00" y2="321.60" stroke="#333" stroke-width="0.9"/>
<line x1="196.40" y1="321.60" x2="198.80" y2="321.60" stroke="#333" stroke-width="0.7"/>
<text x="195.40" y="323.40" font-size="5.0" fill="#444" text-anchor="end">0</text>
<line x1="196.40" y1="306.88" x2="198.80" y2="306.88" stroke="#333" stroke-width="0.7"/>
<text x="195.40" y="308.68" font-size="5.0" fill="#444" text-anchor="end">3</text>
<line x1="196.40" y1="292.16" x2="198.80" y2="292.16" stroke="#333" stroke-width="0.7"/>
<text x="195.40" y="293.96" font-size="5.0" fill="#444" text-anchor="end">6</text>
<line x1="196.40" y1="277.44" x2="198.80" y2="277.44" stroke="#333" stroke-width="0.7"/>
<text x="195.40" y="279.24" font-size="5.0" fill="#444" text-anchor="end">9</text>
<line x1="196.40" y1="262.72" x2="198.80" y2="262.72" stroke="#333" stroke-width="0.7"/>
<text x="195.40" y="264.52" font-size="5.0" fill="#444" text-anchor="end">12</text>
<line x1="196.40" y1="248.00" x2="198.80" y2="248.00" stroke="#333" stroke-width="0.7"/>
<text x="195.40" y="249.80" font-size="5.0" fill="#444" text-anchor="end">15</text>
<line x1="197.40" y1="314.24" x2="198.80" y2="314.24" stroke="#333" stroke-width="0.6"/>
<line x1="197.40" y1="299.52" x2="198.80" y2="299.52" stroke="#333" stroke-width="0.6"/>
<line x1="197.40" y1="284.80" x2="198.80" y2="284.80" stroke="#333" stroke-width="0.6"/>
<line x1="197.40" y1="270.08" x2="198.80" y2="270.08" stroke="#333" stroke-width="0.6"/>
<line x1="197.40" y1="255.36" x2="198.80" y2="255.36" stroke="#333" stroke-width="0.6"/>
<text x="181.60" y="280.00" font-size="12.7" fill="#111" text-anchor="middle" transform="rotate(-90 181.60 280.00)">AI tow spread(cm)</text>
<text x="225.70" y="331.90" font-size="10.6" fill="#111" text-anchor="middle">2 weeks</text>
<line x1="225.70" y1="321.60" x2="225.70" y2="323.40" stroke="#333" stroke-width="0.7"/>
<text x="283.20" y="331.90" font-size="10.6" fill="#111" text-anchor="middle">4 weeks</text>
<line x1="283.20" y1="321.60" x2="283.20" y2="323.40" stroke="#333" stroke-width="0.7"/>
<line x1="207.80" y1="243.50" x2="243.00" y2="243.50" stroke="#444" stroke-width="0.8"/>
<text x="225.40" y="245.70" font-size="7.0" fill="#111" text-anchor="middle" font-weight="bold">*</text>
<text x="212.50" y="239.00" font-size="6.4" fill="#333"><tspan font-style="italic">p</tspan>=0.0165</text>
<line x1="207.80" y1="252.50" x2="231.50" y2="252.50" stroke="#444" stroke-width="0.8"/>
<text x="219.65" y="251.80" font-size="4.0" fill="#444" text-anchor="middle">ns</text>
<text x="208.50" y="249.00" font-size="6.4" fill="#333"><tspan font-style="italic">p</tspan>=0.1211</text>
<line x1="207.80" y1="261.50" x2="220.00" y2="261.50" stroke="#444" stroke-width="0.8"/>
<text x="213.90" y="260.80" font-size="4.0" fill="#444" text-anchor="middle">ns</text>
<text x="203.50" y="257.50" font-size="6.4" fill="#333"><tspan font-style="italic">p</tspan>=0.1388</text>
<line x1="220.00" y1="268.50" x2="232.00" y2="268.50" stroke="#444" stroke-width="0.8"/>
<text x="226.00" y="267.80" font-size="4.0" fill="#444" text-anchor="middle">ns</text>
<text x="219.50" y="265.00" font-size="6.4" fill="#333"><tspan font-style="italic">p</tspan>=0.0889</text>
<line x1="264.50" y1="270.00" x2="300.00" y2="270.00" stroke="#444" stroke-width="0.8"/>
<text x="282.25" y="272.20" font-size="7.0" fill="#111" text-anchor="middle" font-weight="bold">***</text>
<text x="269.50" y="266.00" font-size="6.4" fill="#333"><tspan font-style="italic">p</tspan>=0.0004</text>
<line x1="264.50" y1="279.50" x2="288.00" y2="279.50" stroke="#444" stroke-width="0.8"/>
<text x="276.25" y="281.70" font-size="7.0" fill="#111" text-anchor="middle" font-weight="bold">**</text>
<text x="263.00" y="275.50" font-size="6.4" fill="#333"><tspan font-style="italic">p</tspan>=0.0058</text>
<line x1="264.50" y1="288.00" x2="276.00" y2="288.00" stroke="#444" stroke-width="0.8"/>
<text x="270.25" y="287.30" font-size="4.0" fill="#444" text-anchor="middle">ns</text>
<text x="263.00" y="284.50" font-size="6.4" fill="#333"><tspan font-style="italic">p</tspan>=0.0705</text>
<line x1="276.00" y1="296.00" x2="288.00" y2="296.00" stroke="#444" stroke-width="0.8"/>
<text x="282.00" y="298.20" font-size="7.0" fill="#111" text-anchor="middle" font-weight="bold">**</text>
<text x="273.50" y="292.50" font-size="6.4" fill="#333"><tspan font-style="italic">p</tspan>=0.0024</text>
<rect x="360.90" y="291.00" width="9.20" height="29.30" fill="#3a5069"/>
<line x1="365.50" y1="291.00" x2="365.50" y2="288.06" stroke="#111111" stroke-width="0.9"/>
<line x1="363.30" y1="288.06" x2="367.70" y2="288.06" stroke="#111111" stroke-width="0.9"/>
<circle cx="361.62" cy="294.10" r="1.15" fill="#111111"/>
<circle cx="363.47" cy="292.15" r="1.15" fill="#111111"/>
<circle cx="365.75" cy="289.50" r="1.15" fill="#111111"/>
<circle cx="367.18" cy="292.02" r="1.15" fill="#111111"/>
<circle cx="368.84" cy="289.62" r="1.15" fill="#111111"/>
<circle cx="366.48" cy="292.34" r="1.15" fill="#111111"/>
<rect x="372.75" y="291.00" width="9.20" height="29.30" fill="#e0a62d"/>
<line x1="377.35" y1="291.00" x2="377.35" y2="284.37" stroke="#d39c20" stroke-width="0.9"/>
<line x1="375.15" y1="284.37" x2="379.55" y2="284.37" stroke="#d39c20" stroke-width="0.9"/>
<circle cx="373.66" cy="287.83" r="1.15" fill="#c58d10"/>
<circle cx="375.54" cy="292.10" r="1.15" fill="#c58d10"/>
<circle cx="376.95" cy="285.07" r="1.15" fill="#c58d10"/>
<circle cx="379.30" cy="285.17" r="1.15" fill="#c58d10"/>
<circle cx="380.65" cy="287.04" r="1.15" fill="#c58d10"/>
<circle cx="378.50" cy="287.90" r="1.15" fill="#c58d10"/>
<rect x="384.60" y="305.93" width="9.20" height="14.37" fill="#9d6a58"/>
<line x1="389.20" y1="305.93" x2="389.20" y2="304.82" stroke="#8e5a48" stroke-width="0.9"/>
<line x1="387.00" y1="304.82" x2="391.40" y2="304.82" stroke="#8e5a48" stroke-width="0.9"/>
<circle cx="385.68" cy="305.19" r="1.15" fill="#7d4535"/>
<circle cx="387.48" cy="306.11" r="1.15" fill="#7d4535"/>
<circle cx="389.49" cy="306.90" r="1.15" fill="#7d4535"/>
<circle cx="391.10" cy="305.58" r="1.15" fill="#7d4535"/>
<circle cx="393.03" cy="306.84" r="1.15" fill="#7d4535"/>
<circle cx="390.36" cy="306.90" r="1.15" fill="#7d4535"/>
<rect x="396.45" y="308.14" width="9.20" height="12.16" fill="#a32413"/>
<line x1="401.05" y1="308.14" x2="401.05" y2="306.30" stroke="#951d10" stroke-width="0.9"/>
<line x1="398.85" y1="306.30" x2="403.25" y2="306.30" stroke="#951d10" stroke-width="0.9"/>
<circle cx="397.33" cy="306.16" r="1.15" fill="#7c1206"/>
<circle cx="399.11" cy="307.69" r="1.15" fill="#7c1206"/>
<circle cx="401.26" cy="309.04" r="1.15" fill="#7c1206"/>
<circle cx="403.00" cy="309.35" r="1.15" fill="#7c1206"/>
<circle cx="404.42" cy="307.19" r="1.15" fill="#7c1206"/>
<circle cx="401.61" cy="308.80" r="1.15" fill="#7c1206"/>
<rect x="417.80" y="282.71" width="9.10" height="37.59" fill="#3a5069"/>
<line x1="422.35" y1="282.71" x2="422.35" y2="269.08" stroke="#111111" stroke-width="0.9"/>
<line x1="420.15" y1="269.08" x2="424.55" y2="269.08" stroke="#111111" stroke-width="0.9"/>
<circle cx="418.64" cy="268.40" r="1.15" fill="#111111"/>
<circle cx="420.52" cy="278.95" r="1.15" fill="#111111"/>
<circle cx="422.07" cy="290.51" r="1.15" fill="#111111"/>
<circle cx="424.51" cy="286.18" r="1.15" fill="#111111"/>
<circle cx="425.94" cy="278.40" r="1.15" fill="#111111"/>
<circle cx="422.90" cy="271.82" r="1.15" fill="#111111"/>
<rect x="429.55" y="299.66" width="9.10" height="20.64" fill="#e0a62d"/>
<line x1="434.10" y1="299.66" x2="434.10" y2="288.98" stroke="#d39c20" stroke-width="0.9"/>
<line x1="431.90" y1="288.98" x2="436.30" y2="288.98" stroke="#d39c20" stroke-width="0.9"/>
<circle cx="430.52" cy="298.88" r="1.15" fill="#c58d10"/>
<circle cx="432.05" cy="306.66" r="1.15" fill="#c58d10"/>
<circle cx="433.91" cy="308.02" r="1.15" fill="#c58d10"/>
<circle cx="435.87" cy="297.97" r="1.15" fill="#c58d10"/>
<circle cx="437.94" cy="307.70" r="1.15" fill="#c58d10"/>
<circle cx="435.02" cy="305.14" r="1.15" fill="#c58d10"/>
<rect x="441.30" y="312.93" width="9.10" height="7.37" fill="#9d6a58"/>
<line x1="445.85" y1="312.93" x2="445.85" y2="312.19" stroke="#8e5a48" stroke-width="0.9"/>
<line x1="443.65" y1="312.19" x2="448.05" y2="312.19" stroke="#8e5a48" stroke-width="0.9"/>
<circle cx="442.09" cy="312.59" r="1.15" fill="#7d4535"/>
<circle cx="443.71" cy="312.36" r="1.15" fill="#7d4535"/>
<circle cx="445.86" cy="313.17" r="1.15" fill="#7d4535"/>
<circle cx="447.77" cy="312.53" r="1.15" fill="#7d4535"/>
<circle cx="449.57" cy="313.16" r="1.15" fill="#7d4535"/>
<circle cx="446.60" cy="312.80" r="1.15" fill="#7d4535"/>
<rect x="453.05" y="312.93" width="9.10" height="7.37" fill="#a32413"/>
<line x1="457.60" y1="312.93" x2="457.60" y2="309.98" stroke="#951d10" stroke-width="0.9"/>
<line x1="455.40" y1="309.98" x2="459.80" y2="309.98" stroke="#951d10" stroke-width="0.9"/>
<circle cx="453.69" cy="313.62" r="1.15" fill="#7c1206"/>
<circle cx="456.00" cy="313.08" r="1.15" fill="#7c1206"/>
<circle cx="457.37" cy="313.57" r="1.15" fill="#7c1206"/>
<circle cx="459.19" cy="312.37" r="1.15" fill="#7c1206"/>
<circle cx="461.38" cy="311.84" r="1.15" fill="#7c1206"/>
<circle cx="458.39" cy="311.46" r="1.15" fill="#7c1206"/>
<line x1="356.70" y1="320.30" x2="356.70" y2="246.20" stroke="#333" stroke-width="0.8"/>
<line x1="356.30" y1="320.30" x2="466.50" y2="320.30" stroke="#333" stroke-width="0.9"/>
<line x1="354.30" y1="320.30" x2="356.70" y2="320.30" stroke="#333" stroke-width="0.7"/>
<text x="353.30" y="322.03" font-size="4.8" fill="#444" text-anchor="end">0</text>
<line x1="354.30" y1="301.88" x2="356.70" y2="301.88" stroke="#333" stroke-width="0.7"/>
<text x="353.30" y="303.60" font-size="4.8" fill="#444" text-anchor="end">5</text>
<line x1="354.30" y1="283.45" x2="356.70" y2="283.45" stroke="#333" stroke-width="0.7"/>
<text x="353.30" y="285.18" font-size="4.8" fill="#444" text-anchor="end">10</text>
<line x1="354.30" y1="265.03" x2="356.70" y2="265.03" stroke="#333" stroke-width="0.7"/>
<text x="353.30" y="266.75" font-size="4.8" fill="#444" text-anchor="end">15</text>
<line x1="354.30" y1="246.60" x2="356.70" y2="246.60" stroke="#333" stroke-width="0.7"/>
<text x="353.30" y="248.33" font-size="4.8" fill="#444" text-anchor="end">20</text>
<line x1="355.30" y1="311.09" x2="356.70" y2="311.09" stroke="#333" stroke-width="0.6"/>
<line x1="355.30" y1="292.66" x2="356.70" y2="292.66" stroke="#333" stroke-width="0.6"/>
<line x1="355.30" y1="274.24" x2="356.70" y2="274.24" stroke="#333" stroke-width="0.6"/>
<line x1="355.30" y1="255.81" x2="356.70" y2="255.81" stroke="#333" stroke-width="0.6"/>
<text x="340.30" y="280.70" font-size="12.6" fill="#111" text-anchor="middle" transform="rotate(-90 340.30 280.70)">AI paw length(cm)</text>
<text x="384.70" y="331.90" font-size="10.6" fill="#111" text-anchor="middle">2 weeks</text>
<line x1="384.70" y1="320.30" x2="384.70" y2="322.10" stroke="#333" stroke-width="0.7"/>
<text x="440.20" y="331.90" font-size="10.6" fill="#111" text-anchor="middle">4 weeks</text>
<line x1="440.20" y1="320.30" x2="440.20" y2="322.10" stroke="#333" stroke-width="0.7"/>
<line x1="365.70" y1="235.20" x2="401.70" y2="235.20" stroke="#444" stroke-width="0.8"/>
<text x="383.70" y="237.40" font-size="7.0" fill="#111" text-anchor="middle" font-weight="bold">***</text>
<line x1="365.70" y1="246.50" x2="390.90" y2="246.50" stroke="#444" stroke-width="0.8"/>
<text x="378.30" y="248.70" font-size="7.0" fill="#111" text-anchor="middle" font-weight="bold">***</text>
<text x="364.70" y="241.70" font-size="6.4" fill="#333"><tspan font-style="italic">p</tspan>=0.0002</text>
<line x1="365.70" y1="256.90" x2="378.30" y2="256.90" stroke="#444" stroke-width="0.8"/>
<text x="372.00" y="256.20" font-size="4.0" fill="#444" text-anchor="middle">ns</text>
<text x="362.50" y="252.40" font-size="6.4" fill="#333"><tspan font-style="italic">p</tspan>=0.886</text>
<line x1="378.30" y1="267.30" x2="390.10" y2="267.30" stroke="#444" stroke-width="0.8"/>
<text x="384.20" y="269.50" font-size="7.0" fill="#111" text-anchor="middle" font-weight="bold">**</text>
<text x="371.70" y="262.50" font-size="6.4" fill="#333"><tspan font-style="italic">p</tspan>=0.0026</text>
<line x1="422.20" y1="236.80" x2="457.60" y2="236.80" stroke="#444" stroke-width="0.8"/>
<text x="439.90" y="239.00" font-size="7.0" fill="#111" text-anchor="middle" font-weight="bold">**</text>
<text x="426.70" y="232.00" font-size="6.4" fill="#333"><tspan font-style="italic">p</tspan>=0.0035</text>
<line x1="422.20" y1="247.30" x2="446.60" y2="247.30" stroke="#444" stroke-width="0.8"/>
<text x="434.40" y="249.50" font-size="7.0" fill="#111" text-anchor="middle" font-weight="bold">**</text>
<text x="425.40" y="243.30" font-size="6.4" fill="#333"><tspan font-style="italic">p</tspan>=0.0025</text>
<line x1="422.20" y1="255.60" x2="434.30" y2="255.60" stroke="#444" stroke-width="0.8"/>
<text x="428.25" y="254.90" font-size="4.0" fill="#444" text-anchor="middle">ns</text>
<text x="417.10" y="252.10" font-size="6.4" fill="#333"><tspan font-style="italic">p</tspan>=0.0968</text>
<line x1="434.30" y1="265.30" x2="446.60" y2="265.30" stroke="#444" stroke-width="0.8"/>
<text x="440.45" y="267.50" font-size="7.0" fill="#111" text-anchor="middle" font-weight="bold">*</text>
<text x="429.00" y="260.10" font-size="6.4" fill="#333"><tspan font-style="italic">p</tspan>=0.0213</text>
<rect x="159.10" y="434.03" width="9.00" height="25.47" fill="#3a5069"/>
<line x1="163.60" y1="434.03" x2="163.60" y2="432.65" stroke="#111111" stroke-width="0.9"/>
<line x1="161.40" y1="432.65" x2="165.80" y2="432.65" stroke="#111111" stroke-width="0.9"/>
<circle cx="159.95" cy="433.47" r="1.15" fill="#111111"/>
<circle cx="162.12" cy="435.29" r="1.15" fill="#111111"/>
<circle cx="163.78" cy="434.79" r="1.15" fill="#111111"/>
<circle cx="165.35" cy="433.46" r="1.15" fill="#111111"/>
<circle cx="167.21" cy="434.41" r="1.15" fill="#111111"/>
<circle cx="164.85" cy="435.52" r="1.15" fill="#111111"/>
<rect x="172.90" y="429.26" width="9.00" height="30.24" fill="#e0a62d"/>
<line x1="177.40" y1="429.26" x2="177.40" y2="426.06" stroke="#d39c20" stroke-width="0.9"/>
<line x1="175.20" y1="426.06" x2="179.60" y2="426.06" stroke="#d39c20" stroke-width="0.9"/>
<circle cx="173.88" cy="427.83" r="1.15" fill="#c58d10"/>
<circle cx="175.40" cy="430.20" r="1.15" fill="#c58d10"/>
<circle cx="177.14" cy="431.76" r="1.15" fill="#c58d10"/>
<circle cx="179.50" cy="429.65" r="1.15" fill="#c58d10"/>
<circle cx="180.91" cy="430.11" r="1.15" fill="#c58d10"/>
<circle cx="178.66" cy="426.14" r="1.15" fill="#c58d10"/>
<rect x="186.40" y="416.89" width="9.30" height="42.61" fill="#9d6a58"/>
<line x1="191.05" y1="416.89" x2="191.05" y2="414.60" stroke="#8e5a48" stroke-width="0.9"/>
<line x1="188.85" y1="414.60" x2="193.25" y2="414.60" stroke="#8e5a48" stroke-width="0.9"/>
<circle cx="187.67" cy="416.21" r="1.15" fill="#7d4535"/>
<circle cx="189.44" cy="416.63" r="1.15" fill="#7d4535"/>
<circle cx="191.43" cy="414.95" r="1.15" fill="#7d4535"/>
<circle cx="192.56" cy="418.65" r="1.15" fill="#7d4535"/>
<circle cx="194.48" cy="417.63" r="1.15" fill="#7d4535"/>
<circle cx="192.18" cy="414.16" r="1.15" fill="#7d4535"/>
<rect x="200.10" y="407.27" width="9.00" height="52.23" fill="#a32413"/>
<line x1="204.60" y1="407.27" x2="204.60" y2="405.44" stroke="#951d10" stroke-width="0.9"/>
<line x1="202.40" y1="405.44" x2="206.80" y2="405.44" stroke="#951d10" stroke-width="0.9"/>
<circle cx="201.08" cy="407.47" r="1.15" fill="#7c1206"/>
<circle cx="203.09" cy="405.47" r="1.15" fill="#7c1206"/>
<circle cx="204.57" cy="408.47" r="1.15" fill="#7c1206"/>
<circle cx="206.61" cy="407.99" r="1.15" fill="#7c1206"/>
<circle cx="207.98" cy="405.74" r="1.15" fill="#7c1206"/>
<circle cx="205.32" cy="406.34" r="1.15" fill="#7c1206"/>
<line x1="154.50" y1="459.50" x2="154.50" y2="385.80" stroke="#333" stroke-width="0.8"/>
<line x1="154.10" y1="459.50" x2="214.00" y2="459.50" stroke="#333" stroke-width="0.9"/>
<line x1="152.10" y1="459.50" x2="154.50" y2="459.50" stroke="#333" stroke-width="0.7"/>
<text x="151.10" y="461.34" font-size="5.1" fill="#444" text-anchor="end">0</text>
<line x1="152.10" y1="441.17" x2="154.50" y2="441.17" stroke="#333" stroke-width="0.7"/>
<text x="151.10" y="443.01" font-size="5.1" fill="#444" text-anchor="end">20</text>
<line x1="152.10" y1="422.85" x2="154.50" y2="422.85" stroke="#333" stroke-width="0.7"/>
<text x="151.10" y="424.68" font-size="5.1" fill="#444" text-anchor="end">40</text>
<line x1="152.10" y1="404.52" x2="154.50" y2="404.52" stroke="#333" stroke-width="0.7"/>
<text x="151.10" y="406.36" font-size="5.1" fill="#444" text-anchor="end">60</text>
<line x1="152.10" y1="386.20" x2="154.50" y2="386.20" stroke="#333" stroke-width="0.7"/>
<text x="151.10" y="388.03" font-size="5.1" fill="#444" text-anchor="end">80</text>
<line x1="153.10" y1="450.34" x2="154.50" y2="450.34" stroke="#333" stroke-width="0.6"/>
<line x1="153.10" y1="432.01" x2="154.50" y2="432.01" stroke="#333" stroke-width="0.6"/>
<line x1="153.10" y1="413.69" x2="154.50" y2="413.69" stroke="#333" stroke-width="0.6"/>
<line x1="153.10" y1="395.36" x2="154.50" y2="395.36" stroke="#333" stroke-width="0.6"/>
<text x="138.20" y="427.40" font-size="12.8" fill="#111" text-anchor="middle" transform="rotate(-90 138.20 427.40)">Max Speed(cm/s)</text>
<line x1="163.60" y1="459.50" x2="163.60" y2="462.50" stroke="#333" stroke-width="0.7"/>
<text x="165.20" y="468.90" font-size="7.6" fill="#111" text-anchor="end" transform="rotate(-45 165.20 468.90)">Injury</text>
<line x1="177.40" y1="459.50" x2="177.40" y2="462.50" stroke="#333" stroke-width="0.7"/>
<text x="179.00" y="468.90" font-size="7.6" fill="#111" text-anchor="end" transform="rotate(-45 179.00 468.90)">GelMA</text>
<line x1="191.05" y1="459.50" x2="191.05" y2="462.50" stroke="#333" stroke-width="0.7"/>
<text x="192.65" y="468.90" font-size="7.6" fill="#111" text-anchor="end" transform="rotate(-45 192.65 468.90)">GelMA-<tspan font-style="italic">c</tspan>-FGF7</text>
<line x1="204.60" y1="459.50" x2="204.60" y2="462.50" stroke="#333" stroke-width="0.7"/>
<text x="206.20" y="468.90" font-size="7.6" fill="#111" text-anchor="end" transform="rotate(-45 206.20 468.90)">Sham</text>
<line x1="164.00" y1="392.50" x2="192.50" y2="392.50" stroke="#444" stroke-width="0.8"/>
<text x="178.25" y="394.70" font-size="7.0" fill="#111" text-anchor="middle" font-weight="bold">***</text>
<line x1="180.00" y1="402.50" x2="192.50" y2="402.50" stroke="#444" stroke-width="0.8"/>
<text x="186.25" y="404.70" font-size="7.0" fill="#111" text-anchor="middle" font-weight="bold">***</text>
<line x1="193.60" y1="397.40" x2="207.30" y2="397.40" stroke="#444" stroke-width="0.8"/>
<text x="200.45" y="399.60" font-size="7.0" fill="#111" text-anchor="middle" font-weight="bold">***</text>
<rect x="255.10" y="435.83" width="9.60" height="23.47" fill="#3a5069"/>
<line x1="259.90" y1="435.83" x2="259.90" y2="433.90" stroke="#111111" stroke-width="0.9"/>
<line x1="257.70" y1="433.90" x2="262.10" y2="433.90" stroke="#111111" stroke-width="0.9"/>
<circle cx="256.21" cy="435.40" r="1.15" fill="#111111"/>
<circle cx="258.30" cy="435.11" r="1.15" fill="#111111"/>
<circle cx="259.87" cy="433.98" r="1.15" fill="#111111"/>
<circle cx="261.64" cy="434.15" r="1.15" fill="#111111"/>
<circle cx="263.83" cy="436.35" r="1.15" fill="#111111"/>
<circle cx="261.00" cy="436.58" r="1.15" fill="#111111"/>
<rect x="269.70" y="430.38" width="9.20" height="28.92" fill="#e0a62d"/>
<line x1="274.30" y1="430.38" x2="274.30" y2="427.49" stroke="#d39c20" stroke-width="0.9"/>
<line x1="272.10" y1="427.49" x2="276.50" y2="427.49" stroke="#d39c20" stroke-width="0.9"/>
<circle cx="270.59" cy="427.92" r="1.15" fill="#c58d10"/>
<circle cx="272.74" cy="429.89" r="1.15" fill="#c58d10"/>
<circle cx="274.46" cy="429.39" r="1.15" fill="#c58d10"/>
<circle cx="276.34" cy="429.57" r="1.15" fill="#c58d10"/>
<circle cx="277.51" cy="430.60" r="1.15" fill="#c58d10"/>
<circle cx="275.33" cy="428.40" r="1.15" fill="#c58d10"/>
<rect x="284.00" y="418.81" width="9.30" height="40.49" fill="#9d6a58"/>
<line x1="288.65" y1="418.81" x2="288.65" y2="416.40" stroke="#8e5a48" stroke-width="0.9"/>
<line x1="286.45" y1="416.40" x2="290.85" y2="416.40" stroke="#8e5a48" stroke-width="0.9"/>
<circle cx="284.92" cy="419.95" r="1.15" fill="#7d4535"/>
<circle cx="286.70" cy="416.69" r="1.15" fill="#7d4535"/>
<circle cx="288.75" cy="416.38" r="1.15" fill="#7d4535"/>
<circle cx="290.21" cy="416.17" r="1.15" fill="#7d4535"/>
<circle cx="292.46" cy="421.41" r="1.15" fill="#7d4535"/>
<circle cx="289.17" cy="420.76" r="1.15" fill="#7d4535"/>
<rect x="298.40" y="410.14" width="9.20" height="49.16" fill="#a32413"/>
<line x1="303.00" y1="410.14" x2="303.00" y2="408.69" stroke="#951d10" stroke-width="0.9"/>
<line x1="300.80" y1="408.69" x2="305.20" y2="408.69" stroke="#951d10" stroke-width="0.9"/>
<circle cx="299.39" cy="410.56" r="1.15" fill="#7c1206"/>
<circle cx="301.27" cy="410.45" r="1.15" fill="#7c1206"/>
<circle cx="302.76" cy="411.42" r="1.15" fill="#7c1206"/>
<circle cx="305.07" cy="411.17" r="1.15" fill="#7c1206"/>
<circle cx="306.89" cy="410.66" r="1.15" fill="#7c1206"/>
<circle cx="303.55" cy="410.38" r="1.15" fill="#7c1206"/>
<line x1="248.20" y1="459.30" x2="248.20" y2="386.60" stroke="#333" stroke-width="0.8"/>
<line x1="247.80" y1="459.30" x2="312.50" y2="459.30" stroke="#333" stroke-width="0.9"/>
<line x1="245.80" y1="459.30" x2="248.20" y2="459.30" stroke="#333" stroke-width="0.7"/>
<text x="244.80" y="461.14" font-size="5.1" fill="#444" text-anchor="end">0</text>
<line x1="245.80" y1="435.20" x2="248.20" y2="435.20" stroke="#333" stroke-width="0.7"/>
<text x="244.80" y="437.04" font-size="5.1" fill="#444" text-anchor="end">500</text>
<line x1="245.80" y1="411.10" x2="248.20" y2="411.10" stroke="#333" stroke-width="0.7"/>
<text x="244.80" y="412.94" font-size="5.1" fill="#444" text-anchor="end">1000</text>
<line x1="245.80" y1="387.00" x2="248.20" y2="387.00" stroke="#333" stroke-width="0.7"/>
<text x="244.80" y="388.84" font-size="5.1" fill="#444" text-anchor="end">1500</text>
<line x1="246.80" y1="447.25" x2="248.20" y2="447.25" stroke="#333" stroke-width="0.6"/>
<line x1="246.80" y1="423.15" x2="248.20" y2="423.15" stroke="#333" stroke-width="0.6"/>
<line x1="246.80" y1="399.05" x2="248.20" y2="399.05" stroke="#333" stroke-width="0.6"/>
<text x="231.80" y="418.80" font-size="12.8" fill="#111" text-anchor="middle" transform="rotate(-90 231.80 418.80)">Time to exhaustion(sec)</text>
<line x1="259.90" y1="459.30" x2="259.90" y2="462.30" stroke="#333" stroke-width="0.7"/>
<text x="261.50" y="468.70" font-size="7.6" fill="#111" text-anchor="end" transform="rotate(-45 261.50 468.70)">Injury</text>
<line x1="274.30" y1="459.30" x2="274.30" y2="462.30" stroke="#333" stroke-width="0.7"/>
<text x="275.90" y="468.70" font-size="7.6" fill="#111" text-anchor="end" transform="rotate(-45 275.90 468.70)">GelMA</text>
<line x1="288.65" y1="459.30" x2="288.65" y2="462.30" stroke="#333" stroke-width="0.7"/>
<text x="290.25" y="468.70" font-size="7.6" fill="#111" text-anchor="end" transform="rotate(-45 290.25 468.70)">GelMA-<tspan font-style="italic">c</tspan>-FGF7</text>
<line x1="303.00" y1="459.30" x2="303.00" y2="462.30" stroke="#333" stroke-width="0.7"/>
<text x="304.60" y="468.70" font-size="7.6" fill="#111" text-anchor="end" transform="rotate(-45 304.60 468.70)">Sham</text>
<line x1="260.00" y1="392.00" x2="288.50" y2="392.00" stroke="#444" stroke-width="0.8"/>
<text x="274.25" y="394.20" font-size="7.0" fill="#111" text-anchor="middle" font-weight="bold">***</text>
<line x1="274.50" y1="401.50" x2="288.50" y2="401.50" stroke="#444" stroke-width="0.8"/>
<text x="281.50" y="403.70" font-size="7.0" fill="#111" text-anchor="middle" font-weight="bold">***</text>
<line x1="288.50" y1="397.00" x2="303.00" y2="397.00" stroke="#444" stroke-width="0.8"/>
<text x="295.75" y="399.20" font-size="7.0" fill="#111" text-anchor="middle" font-weight="bold">***</text>
<rect x="346.80" y="446.80" width="9.20" height="12.90" fill="#3a5069"/>
<line x1="351.40" y1="446.80" x2="351.40" y2="444.98" stroke="#111111" stroke-width="0.9"/>
<line x1="349.20" y1="444.98" x2="353.60" y2="444.98" stroke="#111111" stroke-width="0.9"/>
<circle cx="348.18" cy="445.19" r="1.15" fill="#111111"/>
<circle cx="349.44" cy="447.84" r="1.15" fill="#111111"/>
<circle cx="351.14" cy="445.26" r="1.15" fill="#111111"/>
<circle cx="353.18" cy="447.55" r="1.15" fill="#111111"/>
<circle cx="355.26" cy="448.02" r="1.15" fill="#111111"/>
<circle cx="352.59" cy="446.39" r="1.15" fill="#111111"/>
<rect x="361.20" y="440.43" width="9.20" height="19.27" fill="#e0a62d"/>
<line x1="365.80" y1="440.43" x2="365.80" y2="435.89" stroke="#d39c20" stroke-width="0.9"/>
<line x1="363.60" y1="435.89" x2="368.00" y2="435.89" stroke="#d39c20" stroke-width="0.9"/>
<circle cx="362.11" cy="437.53" r="1.15" fill="#c58d10"/>
<circle cx="364.29" cy="440.74" r="1.15" fill="#c58d10"/>
<circle cx="365.67" cy="437.34" r="1.15" fill="#c58d10"/>
<circle cx="367.37" cy="437.10" r="1.15" fill="#c58d10"/>
<circle cx="369.33" cy="439.23" r="1.15" fill="#c58d10"/>
<circle cx="366.31" cy="436.78" r="1.15" fill="#c58d10"/>
<rect x="375.40" y="424.26" width="9.20" height="35.44" fill="#9d6a58"/>
<line x1="380.00" y1="424.26" x2="380.00" y2="417.90" stroke="#8e5a48" stroke-width="0.9"/>
<line x1="377.80" y1="417.90" x2="382.20" y2="417.90" stroke="#8e5a48" stroke-width="0.9"/>
<circle cx="376.27" cy="418.30" r="1.15" fill="#7d4535"/>
<circle cx="378.59" cy="426.41" r="1.15" fill="#7d4535"/>
<circle cx="380.27" cy="428.55" r="1.15" fill="#7d4535"/>
<circle cx="381.64" cy="426.74" r="1.15" fill="#7d4535"/>
<circle cx="383.73" cy="428.30" r="1.15" fill="#7d4535"/>
<circle cx="381.17" cy="427.69" r="1.15" fill="#7d4535"/>
<rect x="389.70" y="404.81" width="9.30" height="54.89" fill="#a32413"/>
<line x1="394.35" y1="404.81" x2="394.35" y2="401.18" stroke="#951d10" stroke-width="0.9"/>
<line x1="392.15" y1="401.18" x2="396.55" y2="401.18" stroke="#951d10" stroke-width="0.9"/>
<circle cx="390.42" cy="404.56" r="1.15" fill="#7c1206"/>
<circle cx="392.34" cy="402.45" r="1.15" fill="#7c1206"/>
<circle cx="394.11" cy="407.40" r="1.15" fill="#7c1206"/>
<circle cx="396.28" cy="409.15" r="1.15" fill="#7c1206"/>
<circle cx="397.99" cy="405.34" r="1.15" fill="#7c1206"/>
<circle cx="395.36" cy="407.26" r="1.15" fill="#7c1206"/>
<line x1="341.90" y1="459.70" x2="341.90" y2="386.60" stroke="#333" stroke-width="0.8"/>
<line x1="341.50" y1="459.70" x2="403.50" y2="459.70" stroke="#333" stroke-width="0.9"/>
<line x1="339.50" y1="459.70" x2="341.90" y2="459.70" stroke="#333" stroke-width="0.7"/>
<text x="338.50" y="461.54" font-size="5.1" fill="#444" text-anchor="end">0</text>
<line x1="339.50" y1="441.52" x2="341.90" y2="441.52" stroke="#333" stroke-width="0.7"/>
<text x="338.50" y="443.36" font-size="5.1" fill="#444" text-anchor="end">100</text>
<line x1="339.50" y1="423.35" x2="341.90" y2="423.35" stroke="#333" stroke-width="0.7"/>
<text x="338.50" y="425.19" font-size="5.1" fill="#444" text-anchor="end">200</text>
<line x1="339.50" y1="405.18" x2="341.90" y2="405.18" stroke="#333" stroke-width="0.7"/>
<text x="338.50" y="407.01" font-size="5.1" fill="#444" text-anchor="end">300</text>
<line x1="339.50" y1="387.00" x2="341.90" y2="387.00" stroke="#333" stroke-width="0.7"/>
<text x="338.50" y="388.84" font-size="5.1" fill="#444" text-anchor="end">400</text>
<line x1="340.50" y1="450.61" x2="341.90" y2="450.61" stroke="#333" stroke-width="0.6"/>
<line x1="340.50" y1="432.44" x2="341.90" y2="432.44" stroke="#333" stroke-width="0.6"/>
<line x1="340.50" y1="414.26" x2="341.90" y2="414.26" stroke="#333" stroke-width="0.6"/>
<line x1="340.50" y1="396.09" x2="341.90" y2="396.09" stroke="#333" stroke-width="0.6"/>
<text x="324.50" y="422.40" font-size="12.8" fill="#111" text-anchor="middle" transform="rotate(-90 324.50 422.40)">Distance to exhaustion(m)</text>
<line x1="351.40" y1="459.70" x2="351.40" y2="462.70" stroke="#333" stroke-width="0.7"/>
<text x="353.00" y="469.10" font-size="7.6" fill="#111" text-anchor="end" transform="rotate(-45 353.00 469.10)">Injury</text>
<line x1="365.80" y1="459.70" x2="365.80" y2="462.70" stroke="#333" stroke-width="0.7"/>
<text x="367.40" y="469.10" font-size="7.6" fill="#111" text-anchor="end" transform="rotate(-45 367.40 469.10)">GelMA</text>
<line x1="380.00" y1="459.70" x2="380.00" y2="462.70" stroke="#333" stroke-width="0.7"/>
<text x="381.60" y="469.10" font-size="7.6" fill="#111" text-anchor="end" transform="rotate(-45 381.60 469.10)">GelMA-<tspan font-style="italic">c</tspan>-FGF7</text>
<line x1="394.35" y1="459.70" x2="394.35" y2="462.70" stroke="#333" stroke-width="0.7"/>
<text x="395.95" y="469.10" font-size="7.6" fill="#111" text-anchor="end" transform="rotate(-45 395.95 469.10)">Sham</text>
<line x1="352.00" y1="389.40" x2="380.00" y2="389.40" stroke="#444" stroke-width="0.8"/>
<text x="366.00" y="391.60" font-size="7.0" fill="#111" text-anchor="middle" font-weight="bold">***</text>
<line x1="366.20" y1="399.90" x2="380.00" y2="399.90" stroke="#444" stroke-width="0.8"/>
<text x="373.10" y="402.10" font-size="7.0" fill="#111" text-anchor="middle" font-weight="bold">***</text>
<line x1="380.50" y1="394.30" x2="394.70" y2="394.30" stroke="#444" stroke-width="0.8"/>
<text x="387.60" y="396.50" font-size="7.0" fill="#111" text-anchor="middle" font-weight="bold">***</text>
<rect x="437.70" y="434.61" width="9.20" height="24.99" fill="#3a5069"/>
<line x1="442.30" y1="434.61" x2="442.30" y2="433.24" stroke="#111111" stroke-width="0.9"/>
<line x1="440.10" y1="433.24" x2="444.50" y2="433.24" stroke="#111111" stroke-width="0.9"/>
<circle cx="438.41" cy="436.27" r="1.15" fill="#111111"/>
<circle cx="440.44" cy="433.96" r="1.15" fill="#111111"/>
<circle cx="442.22" cy="435.31" r="1.15" fill="#111111"/>
<circle cx="444.25" cy="434.78" r="1.15" fill="#111111"/>
<circle cx="446.15" cy="435.99" r="1.15" fill="#111111"/>
<circle cx="443.15" cy="436.05" r="1.15" fill="#111111"/>
<rect x="452.10" y="429.61" width="9.60" height="29.99" fill="#e0a62d"/>
<line x1="456.90" y1="429.61" x2="456.90" y2="426.43" stroke="#d39c20" stroke-width="0.9"/>
<line x1="454.70" y1="426.43" x2="459.10" y2="426.43" stroke="#d39c20" stroke-width="0.9"/>
<circle cx="453.11" cy="431.26" r="1.15" fill="#c58d10"/>
<circle cx="455.06" cy="428.92" r="1.15" fill="#c58d10"/>
<circle cx="456.76" cy="430.47" r="1.15" fill="#c58d10"/>
<circle cx="458.78" cy="432.94" r="1.15" fill="#c58d10"/>
<circle cx="460.70" cy="432.53" r="1.15" fill="#c58d10"/>
<circle cx="458.06" cy="427.76" r="1.15" fill="#c58d10"/>
<rect x="466.30" y="416.89" width="9.50" height="42.71" fill="#9d6a58"/>
<line x1="471.05" y1="416.89" x2="471.05" y2="414.61" stroke="#8e5a48" stroke-width="0.9"/>
<line x1="468.85" y1="414.61" x2="473.25" y2="414.61" stroke="#8e5a48" stroke-width="0.9"/>
<circle cx="467.83" cy="418.63" r="1.15" fill="#7d4535"/>
<circle cx="469.48" cy="416.62" r="1.15" fill="#7d4535"/>
<circle cx="471.08" cy="419.36" r="1.15" fill="#7d4535"/>
<circle cx="472.98" cy="418.24" r="1.15" fill="#7d4535"/>
<circle cx="474.67" cy="417.13" r="1.15" fill="#7d4535"/>
<circle cx="471.71" cy="418.20" r="1.15" fill="#7d4535"/>
<rect x="480.60" y="407.34" width="9.60" height="52.26" fill="#a32413"/>
<line x1="485.40" y1="407.34" x2="485.40" y2="405.53" stroke="#951d10" stroke-width="0.9"/>
<line x1="483.20" y1="405.53" x2="487.60" y2="405.53" stroke="#951d10" stroke-width="0.9"/>
<circle cx="481.70" cy="405.81" r="1.15" fill="#7c1206"/>
<circle cx="483.40" cy="405.91" r="1.15" fill="#7c1206"/>
<circle cx="485.41" cy="407.49" r="1.15" fill="#7c1206"/>
<circle cx="487.31" cy="406.93" r="1.15" fill="#7c1206"/>
<circle cx="489.16" cy="406.48" r="1.15" fill="#7c1206"/>
<circle cx="486.43" cy="405.85" r="1.15" fill="#7c1206"/>
<line x1="433.10" y1="459.60" x2="433.10" y2="386.50" stroke="#333" stroke-width="0.8"/>
<line x1="432.70" y1="459.60" x2="495.00" y2="459.60" stroke="#333" stroke-width="0.9"/>
<line x1="430.70" y1="459.60" x2="433.10" y2="459.60" stroke="#333" stroke-width="0.7"/>
<text x="429.70" y="461.44" font-size="5.1" fill="#444" text-anchor="end">0</text>
<line x1="430.70" y1="441.42" x2="433.10" y2="441.42" stroke="#333" stroke-width="0.7"/>
<text x="429.70" y="443.26" font-size="5.1" fill="#444" text-anchor="end">20</text>
<line x1="430.70" y1="423.25" x2="433.10" y2="423.25" stroke="#333" stroke-width="0.7"/>
<text x="429.70" y="425.08" font-size="5.1" fill="#444" text-anchor="end">40</text>
<line x1="430.70" y1="405.07" x2="433.10" y2="405.07" stroke="#333" stroke-width="0.7"/>
<text x="429.70" y="406.91" font-size="5.1" fill="#444" text-anchor="end">60</text>
<line x1="430.70" y1="386.90" x2="433.10" y2="386.90" stroke="#333" stroke-width="0.7"/>
<text x="429.70" y="388.73" font-size="5.1" fill="#444" text-anchor="end">80</text>
<line x1="431.70" y1="450.51" x2="433.10" y2="450.51" stroke="#333" stroke-width="0.6"/>
<line x1="431.70" y1="432.34" x2="433.10" y2="432.34" stroke="#333" stroke-width="0.6"/>
<line x1="431.70" y1="414.16" x2="433.10" y2="414.16" stroke="#333" stroke-width="0.6"/>
<line x1="431.70" y1="395.98" x2="433.10" y2="395.98" stroke="#333" stroke-width="0.6"/>
<text x="416.50" y="425.00" font-size="12.8" fill="#111" text-anchor="middle" transform="rotate(-90 416.50 425.00)">Max Speed(cm/s)</text>
<line x1="442.30" y1="459.60" x2="442.30" y2="462.60" stroke="#333" stroke-width="0.7"/>
<text x="443.90" y="469.00" font-size="7.6" fill="#111" text-anchor="end" transform="rotate(-45 443.90 469.00)">Injury</text>
<line x1="456.90" y1="459.60" x2="456.90" y2="462.60" stroke="#333" stroke-width="0.7"/>
<text x="458.50" y="469.00" font-size="7.6" fill="#111" text-anchor="end" transform="rotate(-45 458.50 469.00)">GelMA</text>
<line x1="471.05" y1="459.60" x2="471.05" y2="462.60" stroke="#333" stroke-width="0.7"/>
<text x="472.65" y="469.00" font-size="7.6" fill="#111" text-anchor="end" transform="rotate(-45 472.65 469.00)">GelMA-<tspan font-style="italic">c</tspan>-FGF7</text>
<line x1="485.40" y1="459.60" x2="485.40" y2="462.60" stroke="#333" stroke-width="0.7"/>
<text x="487.00" y="469.00" font-size="7.6" fill="#111" text-anchor="end" transform="rotate(-45 487.00 469.00)">Sham</text>
<line x1="444.20" y1="386.00" x2="472.70" y2="386.00" stroke="#444" stroke-width="0.8"/>
<text x="458.45" y="388.20" font-size="7.0" fill="#111" text-anchor="middle" font-weight="bold">***</text>
<line x1="458.50" y1="403.00" x2="472.70" y2="403.00" stroke="#444" stroke-width="0.8"/>
<text x="465.60" y="405.20" font-size="7.0" fill="#111" text-anchor="middle" font-weight="bold">***</text>
<line x1="470.50" y1="397.40" x2="484.70" y2="397.40" stroke="#444" stroke-width="0.8"/>
<text x="477.60" y="399.60" font-size="7.0" fill="#111" text-anchor="middle" font-weight="bold">**</text>
<text x="471.40" y="391.50" font-size="6.4" fill="#333"><tspan font-style="italic">p</tspan>=0.0036</text>
<rect x="532.40" y="438.18" width="9.60" height="22.82" fill="#3a5069"/>
<line x1="537.20" y1="438.18" x2="537.20" y2="435.27" stroke="#111111" stroke-width="0.9"/>
<line x1="535.00" y1="435.27" x2="539.40" y2="435.27" stroke="#111111" stroke-width="0.9"/>
<circle cx="533.70" cy="440.13" r="1.15" fill="#111111"/>
<circle cx="535.79" cy="438.35" r="1.15" fill="#111111"/>
<circle cx="536.96" cy="437.58" r="1.15" fill="#111111"/>
<circle cx="538.77" cy="439.84" r="1.15" fill="#111111"/>
<circle cx="540.90" cy="436.91" r="1.15" fill="#111111"/>
<circle cx="538.06" cy="440.77" r="1.15" fill="#111111"/>
<rect x="546.90" y="431.38" width="9.20" height="29.62" fill="#e0a62d"/>
<line x1="551.50" y1="431.38" x2="551.50" y2="428.47" stroke="#d39c20" stroke-width="0.9"/>
<line x1="549.30" y1="428.47" x2="553.70" y2="428.47" stroke="#d39c20" stroke-width="0.9"/>
<circle cx="548.05" cy="433.57" r="1.15" fill="#c58d10"/>
<circle cx="549.64" cy="432.95" r="1.15" fill="#c58d10"/>
<circle cx="551.52" cy="430.48" r="1.15" fill="#c58d10"/>
<circle cx="553.10" cy="428.80" r="1.15" fill="#c58d10"/>
<circle cx="555.49" cy="430.87" r="1.15" fill="#c58d10"/>
<circle cx="552.71" cy="431.70" r="1.15" fill="#c58d10"/>
<rect x="560.90" y="414.25" width="9.60" height="46.75" fill="#9d6a58"/>
<line x1="565.70" y1="414.25" x2="565.70" y2="412.79" stroke="#8e5a48" stroke-width="0.9"/>
<line x1="563.50" y1="412.79" x2="567.90" y2="412.79" stroke="#8e5a48" stroke-width="0.9"/>
<circle cx="562.39" cy="414.83" r="1.15" fill="#7d4535"/>
<circle cx="564.14" cy="414.71" r="1.15" fill="#7d4535"/>
<circle cx="565.70" cy="414.19" r="1.15" fill="#7d4535"/>
<circle cx="567.50" cy="414.00" r="1.15" fill="#7d4535"/>
<circle cx="568.93" cy="415.30" r="1.15" fill="#7d4535"/>
<circle cx="566.86" cy="414.19" r="1.15" fill="#7d4535"/>
<rect x="575.10" y="410.51" width="9.60" height="50.49" fill="#a32413"/>
<line x1="579.90" y1="410.51" x2="579.90" y2="409.05" stroke="#951d10" stroke-width="0.9"/>
<line x1="577.70" y1="409.05" x2="582.10" y2="409.05" stroke="#951d10" stroke-width="0.9"/>
<circle cx="576.48" cy="409.91" r="1.15" fill="#7c1206"/>
<circle cx="577.89" cy="411.24" r="1.15" fill="#7c1206"/>
<circle cx="580.22" cy="409.67" r="1.15" fill="#7c1206"/>
<circle cx="581.71" cy="410.08" r="1.15" fill="#7c1206"/>
<circle cx="583.69" cy="410.68" r="1.15" fill="#7c1206"/>
<circle cx="581.20" cy="410.04" r="1.15" fill="#7c1206"/>
<line x1="527.80" y1="461.00" x2="527.80" y2="387.78" stroke="#333" stroke-width="0.8"/>
<line x1="527.40" y1="461.00" x2="590.00" y2="461.00" stroke="#333" stroke-width="0.9"/>
<line x1="525.40" y1="461.00" x2="527.80" y2="461.00" stroke="#333" stroke-width="0.7"/>
<text x="524.40" y="462.84" font-size="5.1" fill="#444" text-anchor="end">0</text>
<line x1="525.40" y1="436.73" x2="527.80" y2="436.73" stroke="#333" stroke-width="0.7"/>
<text x="524.40" y="438.56" font-size="5.1" fill="#444" text-anchor="end">500</text>
<line x1="525.40" y1="412.45" x2="527.80" y2="412.45" stroke="#333" stroke-width="0.7"/>
<text x="524.40" y="414.29" font-size="5.1" fill="#444" text-anchor="end">1000</text>
<line x1="525.40" y1="388.18" x2="527.80" y2="388.18" stroke="#333" stroke-width="0.7"/>
<text x="524.40" y="390.01" font-size="5.1" fill="#444" text-anchor="end">1500</text>
<line x1="526.40" y1="448.86" x2="527.80" y2="448.86" stroke="#333" stroke-width="0.6"/>
<line x1="526.40" y1="424.59" x2="527.80" y2="424.59" stroke="#333" stroke-width="0.6"/>
<line x1="526.40" y1="400.31" x2="527.80" y2="400.31" stroke="#333" stroke-width="0.6"/>
<text x="507.30" y="417.40" font-size="12.8" fill="#111" text-anchor="middle" transform="rotate(-90 507.30 417.40)">Time to exhaustion(sec)</text>
<line x1="537.20" y1="461.00" x2="537.20" y2="464.00" stroke="#333" stroke-width="0.7"/>
<text x="538.80" y="470.40" font-size="7.6" fill="#111" text-anchor="end" transform="rotate(-45 538.80 470.40)">Injury</text>
<line x1="551.50" y1="461.00" x2="551.50" y2="464.00" stroke="#333" stroke-width="0.7"/>
<text x="553.10" y="470.40" font-size="7.6" fill="#111" text-anchor="end" transform="rotate(-45 553.10 470.40)">GelMA</text>
<line x1="565.70" y1="461.00" x2="565.70" y2="464.00" stroke="#333" stroke-width="0.7"/>
<text x="567.30" y="470.40" font-size="7.6" fill="#111" text-anchor="end" transform="rotate(-45 567.30 470.40)">GelMA-<tspan font-style="italic">c</tspan>-FGF7</text>
<line x1="579.90" y1="461.00" x2="579.90" y2="464.00" stroke="#333" stroke-width="0.7"/>
<text x="581.50" y="470.40" font-size="7.6" fill="#111" text-anchor="end" transform="rotate(-45 581.50 470.40)">Sham</text>
<line x1="539.20" y1="387.50" x2="565.90" y2="387.50" stroke="#444" stroke-width="0.8"/>
<text x="552.55" y="389.70" font-size="7.0" fill="#111" text-anchor="middle" font-weight="bold">***</text>
<line x1="553.00" y1="402.60" x2="565.90" y2="402.60" stroke="#444" stroke-width="0.8"/>
<text x="559.45" y="404.80" font-size="7.0" fill="#111" text-anchor="middle" font-weight="bold">***</text>
<line x1="565.00" y1="396.20" x2="579.70" y2="396.20" stroke="#444" stroke-width="0.8"/>
<text x="572.35" y="398.40" font-size="7.0" fill="#111" text-anchor="middle" font-weight="bold">**</text>
<text x="551.20" y="392.50" font-size="6.4" fill="#333"><tspan font-style="italic">p</tspan>=0.0036</text>
<rect x="624.60" y="447.81" width="9.60" height="12.79" fill="#3a5069"/>
<line x1="629.40" y1="447.81" x2="629.40" y2="444.15" stroke="#111111" stroke-width="0.9"/>
<line x1="627.20" y1="444.15" x2="631.60" y2="444.15" stroke="#111111" stroke-width="0.9"/>
<circle cx="625.60" cy="444.55" r="1.15" fill="#111111"/>
<circle cx="627.96" cy="451.39" r="1.15" fill="#111111"/>
<circle cx="629.12" cy="451.20" r="1.15" fill="#111111"/>
<circle cx="631.35" cy="448.98" r="1.15" fill="#111111"/>
<circle cx="632.95" cy="444.49" r="1.15" fill="#111111"/>
<circle cx="630.50" cy="446.58" r="1.15" fill="#111111"/>
<rect x="639.00" y="440.31" width="9.50" height="20.29" fill="#e0a62d"/>
<line x1="643.75" y1="440.31" x2="643.75" y2="435.75" stroke="#d39c20" stroke-width="0.9"/>
<line x1="641.55" y1="435.75" x2="645.95" y2="435.75" stroke="#d39c20" stroke-width="0.9"/>
<circle cx="640.39" cy="437.95" r="1.15" fill="#c58d10"/>
<circle cx="641.78" cy="440.10" r="1.15" fill="#c58d10"/>
<circle cx="643.74" cy="443.38" r="1.15" fill="#c58d10"/>
<circle cx="645.44" cy="437.39" r="1.15" fill="#c58d10"/>
<circle cx="647.65" cy="442.83" r="1.15" fill="#c58d10"/>
<circle cx="644.29" cy="440.46" r="1.15" fill="#c58d10"/>
<rect x="653.10" y="415.10" width="9.60" height="45.50" fill="#9d6a58"/>
<line x1="657.90" y1="415.10" x2="657.90" y2="409.61" stroke="#8e5a48" stroke-width="0.9"/>
<line x1="655.70" y1="409.61" x2="660.10" y2="409.61" stroke="#8e5a48" stroke-width="0.9"/>
<circle cx="653.97" cy="420.03" r="1.15" fill="#7d4535"/>
<circle cx="656.22" cy="417.48" r="1.15" fill="#7d4535"/>
<circle cx="657.71" cy="416.77" r="1.15" fill="#7d4535"/>
<circle cx="659.98" cy="413.57" r="1.15" fill="#7d4535"/>
<circle cx="661.72" cy="411.34" r="1.15" fill="#7d4535"/>
<circle cx="658.48" cy="412.94" r="1.15" fill="#7d4535"/>
<rect x="667.50" y="403.22" width="9.60" height="57.38" fill="#a32413"/>
<line x1="672.30" y1="403.22" x2="672.30" y2="399.56" stroke="#951d10" stroke-width="0.9"/>
<line x1="670.10" y1="399.56" x2="674.50" y2="399.56" stroke="#951d10" stroke-width="0.9"/>
<circle cx="668.43" cy="403.02" r="1.15" fill="#7c1206"/>
<circle cx="670.89" cy="407.70" r="1.15" fill="#7c1206"/>
<circle cx="672.06" cy="398.83" r="1.15" fill="#7c1206"/>
<circle cx="674.17" cy="399.28" r="1.15" fill="#7c1206"/>
<circle cx="675.71" cy="403.27" r="1.15" fill="#7c1206"/>
<circle cx="672.88" cy="399.72" r="1.15" fill="#7c1206"/>
<line x1="619.60" y1="460.60" x2="619.60" y2="387.10" stroke="#333" stroke-width="0.8"/>
<line x1="619.20" y1="460.60" x2="681.00" y2="460.60" stroke="#333" stroke-width="0.9"/>
<line x1="617.20" y1="460.60" x2="619.60" y2="460.60" stroke="#333" stroke-width="0.7"/>
<text x="616.20" y="462.44" font-size="5.1" fill="#444" text-anchor="end">0</text>
<line x1="617.20" y1="442.33" x2="619.60" y2="442.33" stroke="#333" stroke-width="0.7"/>
<text x="616.20" y="444.16" font-size="5.1" fill="#444" text-anchor="end">100</text>
<line x1="617.20" y1="424.05" x2="619.60" y2="424.05" stroke="#333" stroke-width="0.7"/>
<text x="616.20" y="425.89" font-size="5.1" fill="#444" text-anchor="end">200</text>
<line x1="617.20" y1="405.78" x2="619.60" y2="405.78" stroke="#333" stroke-width="0.7"/>
<text x="616.20" y="407.61" font-size="5.1" fill="#444" text-anchor="end">300</text>
<line x1="617.20" y1="387.50" x2="619.60" y2="387.50" stroke="#333" stroke-width="0.7"/>
<text x="616.20" y="389.34" font-size="5.1" fill="#444" text-anchor="end">400</text>
<line x1="618.20" y1="451.46" x2="619.60" y2="451.46" stroke="#333" stroke-width="0.6"/>
<line x1="618.20" y1="433.19" x2="619.60" y2="433.19" stroke="#333" stroke-width="0.6"/>
<line x1="618.20" y1="414.91" x2="619.60" y2="414.91" stroke="#333" stroke-width="0.6"/>
<line x1="618.20" y1="396.64" x2="619.60" y2="396.64" stroke="#333" stroke-width="0.6"/>
<text x="601.80" y="421.00" font-size="12.8" fill="#111" text-anchor="middle" transform="rotate(-90 601.80 421.00)">Distance to exhaustion(m)</text>
<line x1="629.40" y1="460.60" x2="629.40" y2="463.60" stroke="#333" stroke-width="0.7"/>
<text x="631.00" y="470.00" font-size="7.6" fill="#111" text-anchor="end" transform="rotate(-45 631.00 470.00)">Injury</text>
<line x1="643.75" y1="460.60" x2="643.75" y2="463.60" stroke="#333" stroke-width="0.7"/>
<text x="645.35" y="470.00" font-size="7.6" fill="#111" text-anchor="end" transform="rotate(-45 645.35 470.00)">GelMA</text>
<line x1="657.90" y1="460.60" x2="657.90" y2="463.60" stroke="#333" stroke-width="0.7"/>
<text x="659.50" y="470.00" font-size="7.6" fill="#111" text-anchor="end" transform="rotate(-45 659.50 470.00)">GelMA-<tspan font-style="italic">c</tspan>-FGF7</text>
<line x1="672.30" y1="460.60" x2="672.30" y2="463.60" stroke="#333" stroke-width="0.7"/>
<text x="673.90" y="470.00" font-size="7.6" fill="#111" text-anchor="end" transform="rotate(-45 673.90 470.00)">Sham</text>
<line x1="628.30" y1="392.10" x2="656.80" y2="392.10" stroke="#444" stroke-width="0.8"/>
<text x="642.55" y="394.30" font-size="7.0" fill="#111" text-anchor="middle" font-weight="bold">***</text>
<line x1="644.30" y1="401.10" x2="657.70" y2="401.10" stroke="#444" stroke-width="0.8"/>
<text x="651.00" y="403.30" font-size="7.0" fill="#111" text-anchor="middle" font-weight="bold">***</text>
<line x1="658.30" y1="394.90" x2="672.50" y2="394.90" stroke="#444" stroke-width="0.8"/>
<text x="665.40" y="397.10" font-size="7.0" fill="#111" text-anchor="middle" font-weight="bold">**</text>
<text x="655.00" y="389.70" font-size="6.4" fill="#333"><tspan font-style="italic">p</tspan>=0.0026</text>
<rect x="490.40" y="530.00" width="65.70" height="73.30" fill="none" stroke="#333" stroke-width="0.8"/>
<rect x="495.10" y="599.39" width="10.70" height="3.91" fill="#3a5069"/>
<line x1="500.45" y1="599.39" x2="500.45" y2="598.21" stroke="#111111" stroke-width="0.9"/>
<line x1="498.25" y1="598.21" x2="502.65" y2="598.21" stroke="#111111" stroke-width="0.9"/>
<circle cx="496.98" cy="599.35" r="1.15" fill="#111111"/>
<circle cx="498.34" cy="598.44" r="1.15" fill="#111111"/>
<circle cx="500.36" cy="599.12" r="1.15" fill="#111111"/>
<circle cx="502.10" cy="599.84" r="1.15" fill="#111111"/>
<circle cx="503.82" cy="599.26" r="1.15" fill="#111111"/>
<circle cx="501.61" cy="599.75" r="1.15" fill="#111111"/>
<rect x="510.60" y="593.62" width="10.50" height="9.68" fill="#e0a62d"/>
<line x1="515.85" y1="593.62" x2="515.85" y2="585.81" stroke="#d39c20" stroke-width="0.9"/>
<line x1="513.65" y1="585.81" x2="518.05" y2="585.81" stroke="#d39c20" stroke-width="0.9"/>
<circle cx="511.98" cy="596.85" r="1.15" fill="#c58d10"/>
<circle cx="514.19" cy="599.33" r="1.15" fill="#c58d10"/>
<circle cx="515.81" cy="593.76" r="1.15" fill="#c58d10"/>
<circle cx="517.61" cy="599.55" r="1.15" fill="#c58d10"/>
<circle cx="519.70" cy="596.90" r="1.15" fill="#c58d10"/>
<circle cx="517.05" cy="592.48" r="1.15" fill="#c58d10"/>
<rect x="525.90" y="565.35" width="10.50" height="37.95" fill="#9d6a58"/>
<line x1="531.15" y1="565.35" x2="531.15" y2="552.44" stroke="#8e5a48" stroke-width="0.9"/>
<line x1="528.95" y1="552.44" x2="533.35" y2="552.44" stroke="#8e5a48" stroke-width="0.9"/>
<circle cx="527.36" cy="556.22" r="1.15" fill="#7d4535"/>
<circle cx="529.45" cy="575.32" r="1.15" fill="#7d4535"/>
<circle cx="530.86" cy="567.57" r="1.15" fill="#7d4535"/>
<circle cx="532.80" cy="565.39" r="1.15" fill="#7d4535"/>
<circle cx="534.73" cy="565.15" r="1.15" fill="#7d4535"/>
<circle cx="532.39" cy="555.24" r="1.15" fill="#7d4535"/>
<rect x="541.10" y="576.56" width="10.40" height="26.74" fill="#a32413"/>
<line x1="546.30" y1="576.56" x2="546.30" y2="565.69" stroke="#951d10" stroke-width="0.9"/>
<line x1="544.10" y1="565.69" x2="548.50" y2="565.69" stroke="#951d10" stroke-width="0.9"/>
<circle cx="542.97" cy="566.79" r="1.15" fill="#7c1206"/>
<circle cx="544.81" cy="576.93" r="1.15" fill="#7c1206"/>
<circle cx="546.10" cy="580.30" r="1.15" fill="#7c1206"/>
<circle cx="547.94" cy="586.36" r="1.15" fill="#7c1206"/>
<circle cx="549.78" cy="581.50" r="1.15" fill="#7c1206"/>
<circle cx="547.33" cy="572.95" r="1.15" fill="#7c1206"/>
<line x1="490.40" y1="603.30" x2="490.40" y2="534.98" stroke="#333" stroke-width="0.8"/>
<line x1="490.00" y1="603.30" x2="556.10" y2="603.30" stroke="#333" stroke-width="0.9"/>
<line x1="488.00" y1="603.30" x2="490.40" y2="603.30" stroke="#333" stroke-width="0.7"/>
<text x="487.00" y="604.96" font-size="4.6" fill="#444" text-anchor="end">0</text>
<line x1="488.00" y1="586.32" x2="490.40" y2="586.32" stroke="#333" stroke-width="0.7"/>
<text x="487.00" y="587.98" font-size="4.6" fill="#444" text-anchor="end">20</text>
<line x1="488.00" y1="569.34" x2="490.40" y2="569.34" stroke="#333" stroke-width="0.7"/>
<text x="487.00" y="571.00" font-size="4.6" fill="#444" text-anchor="end">40</text>
<line x1="488.00" y1="552.36" x2="490.40" y2="552.36" stroke="#333" stroke-width="0.7"/>
<text x="487.00" y="554.02" font-size="4.6" fill="#444" text-anchor="end">60</text>
<line x1="488.00" y1="535.38" x2="490.40" y2="535.38" stroke="#333" stroke-width="0.7"/>
<text x="487.00" y="537.04" font-size="4.6" fill="#444" text-anchor="end">80</text>
<line x1="489.00" y1="594.81" x2="490.40" y2="594.81" stroke="#333" stroke-width="0.6"/>
<line x1="489.00" y1="577.83" x2="490.40" y2="577.83" stroke="#333" stroke-width="0.6"/>
<line x1="489.00" y1="560.85" x2="490.40" y2="560.85" stroke="#333" stroke-width="0.6"/>
<line x1="489.00" y1="543.87" x2="490.40" y2="543.87" stroke="#333" stroke-width="0.6"/>
<text x="472.30" y="568.00" font-size="12.5" fill="#111" text-anchor="middle" transform="rotate(-90 472.30 568.00)">Stress at Failure(Mpa)</text>
<line x1="500.45" y1="603.30" x2="500.45" y2="605.60" stroke="#333" stroke-width="0.7"/>
<text x="499.45" y="611.30" font-size="6.9" fill="#111" text-anchor="end" transform="rotate(-45 499.45 611.30)">Injury</text>
<line x1="515.85" y1="603.30" x2="515.85" y2="605.60" stroke="#333" stroke-width="0.7"/>
<text x="514.85" y="611.30" font-size="6.9" fill="#111" text-anchor="end" transform="rotate(-45 514.85 611.30)">GelMA</text>
<line x1="531.15" y1="603.30" x2="531.15" y2="605.60" stroke="#333" stroke-width="0.7"/>
<text x="530.15" y="611.30" font-size="6.9" fill="#111" text-anchor="end" transform="rotate(-45 530.15 611.30)">GelMA-<tspan font-style="italic">c</tspan>-FGF7</text>
<line x1="546.30" y1="603.30" x2="546.30" y2="605.60" stroke="#333" stroke-width="0.7"/>
<text x="545.30" y="611.30" font-size="6.9" fill="#111" text-anchor="end" transform="rotate(-45 545.30 611.30)">Sham</text>
<line x1="497.50" y1="536.00" x2="528.00" y2="536.00" stroke="#444" stroke-width="0.8"/>
<text x="512.75" y="538.20" font-size="7.0" fill="#111" text-anchor="middle" font-weight="bold">***</text>
<line x1="514.50" y1="550.30" x2="530.50" y2="550.30" stroke="#444" stroke-width="0.8"/>
<text x="522.50" y="552.50" font-size="7.0" fill="#111" text-anchor="middle" font-weight="bold">***</text>
<text x="506.00" y="545.50" font-size="6.4" fill="#333"><tspan font-style="italic">p</tspan>=0.001</text>
<line x1="531.00" y1="547.00" x2="546.50" y2="547.00" stroke="#444" stroke-width="0.8"/>
<text x="538.75" y="546.30" font-size="4.0" fill="#444" text-anchor="middle">NS</text>
<text x="528.50" y="539.50" font-size="6.4" fill="#333"><tspan font-style="italic">p</tspan>=0.1582</text>
<rect x="486.30" y="650.40" width="71.30" height="72.60" fill="none" stroke="#333" stroke-width="0.8"/>
<rect x="490.60" y="717.52" width="12.10" height="5.48" fill="#3a5069"/>
<line x1="496.65" y1="717.52" x2="496.65" y2="716.28" stroke="#111111" stroke-width="0.9"/>
<line x1="494.45" y1="716.28" x2="498.85" y2="716.28" stroke="#111111" stroke-width="0.9"/>
<circle cx="493.39" cy="717.83" r="1.15" fill="#111111"/>
<circle cx="495.18" cy="717.46" r="1.15" fill="#111111"/>
<circle cx="496.28" cy="718.47" r="1.15" fill="#111111"/>
<circle cx="498.69" cy="717.81" r="1.15" fill="#111111"/>
<circle cx="500.09" cy="716.77" r="1.15" fill="#111111"/>
<circle cx="497.42" cy="716.84" r="1.15" fill="#111111"/>
<rect x="507.60" y="714.16" width="11.40" height="8.84" fill="#e0a62d"/>
<line x1="513.30" y1="714.16" x2="513.30" y2="712.22" stroke="#d39c20" stroke-width="0.9"/>
<line x1="511.10" y1="712.22" x2="515.50" y2="712.22" stroke="#d39c20" stroke-width="0.9"/>
<circle cx="509.31" cy="713.16" r="1.15" fill="#c58d10"/>
<circle cx="511.21" cy="714.67" r="1.15" fill="#c58d10"/>
<circle cx="513.24" cy="715.42" r="1.15" fill="#c58d10"/>
<circle cx="515.48" cy="712.33" r="1.15" fill="#c58d10"/>
<circle cx="517.05" cy="715.79" r="1.15" fill="#c58d10"/>
<circle cx="513.97" cy="713.40" r="1.15" fill="#c58d10"/>
<rect x="524.70" y="682.87" width="11.50" height="40.13" fill="#9d6a58"/>
<line x1="530.45" y1="682.87" x2="530.45" y2="663.60" stroke="#8e5a48" stroke-width="0.9"/>
<line x1="528.25" y1="663.60" x2="532.65" y2="663.60" stroke="#8e5a48" stroke-width="0.9"/>
<circle cx="526.86" cy="669.97" r="1.15" fill="#7d4535"/>
<circle cx="528.63" cy="667.34" r="1.15" fill="#7d4535"/>
<circle cx="530.68" cy="672.72" r="1.15" fill="#7d4535"/>
<circle cx="531.99" cy="669.97" r="1.15" fill="#7d4535"/>
<circle cx="534.22" cy="690.49" r="1.15" fill="#7d4535"/>
<circle cx="531.09" cy="694.88" r="1.15" fill="#7d4535"/>
<rect x="541.50" y="693.83" width="11.10" height="29.17" fill="#a32413"/>
<line x1="547.05" y1="693.83" x2="547.05" y2="682.87" stroke="#951d10" stroke-width="0.9"/>
<line x1="544.85" y1="682.87" x2="549.25" y2="682.87" stroke="#951d10" stroke-width="0.9"/>
<circle cx="543.19" cy="684.80" r="1.15" fill="#7c1206"/>
<circle cx="545.50" cy="696.79" r="1.15" fill="#7c1206"/>
<circle cx="547.19" cy="687.32" r="1.15" fill="#7c1206"/>
<circle cx="548.58" cy="688.89" r="1.15" fill="#7c1206"/>
<circle cx="550.45" cy="685.58" r="1.15" fill="#7c1206"/>
<circle cx="548.02" cy="686.85" r="1.15" fill="#7c1206"/>
<line x1="486.30" y1="723.00" x2="486.30" y2="651.88" stroke="#333" stroke-width="0.8"/>
<line x1="485.90" y1="723.00" x2="557.60" y2="723.00" stroke="#333" stroke-width="0.9"/>
<line x1="483.90" y1="723.00" x2="486.30" y2="723.00" stroke="#333" stroke-width="0.7"/>
<text x="482.90" y="724.66" font-size="4.6" fill="#444" text-anchor="end">0</text>
<line x1="483.90" y1="705.32" x2="486.30" y2="705.32" stroke="#333" stroke-width="0.7"/>
<text x="482.90" y="706.98" font-size="4.6" fill="#444" text-anchor="end">100</text>
<line x1="483.90" y1="687.64" x2="486.30" y2="687.64" stroke="#333" stroke-width="0.7"/>
<text x="482.90" y="689.30" font-size="4.6" fill="#444" text-anchor="end">200</text>
<line x1="483.90" y1="669.96" x2="486.30" y2="669.96" stroke="#333" stroke-width="0.7"/>
<text x="482.90" y="671.62" font-size="4.6" fill="#444" text-anchor="end">300</text>
<line x1="483.90" y1="652.28" x2="486.30" y2="652.28" stroke="#333" stroke-width="0.7"/>
<text x="482.90" y="653.94" font-size="4.6" fill="#444" text-anchor="end">400</text>
<line x1="484.90" y1="714.16" x2="486.30" y2="714.16" stroke="#333" stroke-width="0.6"/>
<line x1="484.90" y1="696.48" x2="486.30" y2="696.48" stroke="#333" stroke-width="0.6"/>
<line x1="484.90" y1="678.80" x2="486.30" y2="678.80" stroke="#333" stroke-width="0.6"/>
<line x1="484.90" y1="661.12" x2="486.30" y2="661.12" stroke="#333" stroke-width="0.6"/>
<text x="472.30" y="690.00" font-size="12.5" fill="#111" text-anchor="middle" transform="rotate(-90 472.30 690.00)">Modulus(Mpa)</text>
<line x1="496.65" y1="723.00" x2="496.65" y2="725.30" stroke="#333" stroke-width="0.7"/>
<text x="495.65" y="731.00" font-size="6.9" fill="#111" text-anchor="end" transform="rotate(-45 495.65 731.00)">Injury</text>
<line x1="513.30" y1="723.00" x2="513.30" y2="725.30" stroke="#333" stroke-width="0.7"/>
<text x="512.30" y="731.00" font-size="6.9" fill="#111" text-anchor="end" transform="rotate(-45 512.30 731.00)">GelMA</text>
<line x1="530.45" y1="723.00" x2="530.45" y2="725.30" stroke="#333" stroke-width="0.7"/>
<text x="529.45" y="731.00" font-size="6.9" fill="#111" text-anchor="end" transform="rotate(-45 529.45 731.00)">GelMA-<tspan font-style="italic">c</tspan>-FGF7</text>
<line x1="547.05" y1="723.00" x2="547.05" y2="725.30" stroke="#333" stroke-width="0.7"/>
<text x="546.05" y="731.00" font-size="6.9" fill="#111" text-anchor="end" transform="rotate(-45 546.05 731.00)">Sham</text>
<line x1="496.50" y1="676.00" x2="530.50" y2="676.00" stroke="#444" stroke-width="0.8"/>
<text x="513.50" y="678.20" font-size="7.0" fill="#111" text-anchor="middle" font-weight="bold">**</text>
<text x="499.50" y="671.50" font-size="6.4" fill="#333"><tspan font-style="italic">p</tspan>=0.0014</text>
<line x1="513.50" y1="661.50" x2="530.50" y2="661.50" stroke="#444" stroke-width="0.8"/>
<text x="522.00" y="663.70" font-size="7.0" fill="#111" text-anchor="middle" font-weight="bold">**</text>
<text x="508.50" y="657.00" font-size="6.4" fill="#333"><tspan font-style="italic">p</tspan>=0.0027</text>
<line x1="531.00" y1="680.50" x2="547.00" y2="680.50" stroke="#444" stroke-width="0.8"/>
<text x="539.00" y="679.80" font-size="4.0" fill="#444" text-anchor="middle">NS</text>
<text x="530.50" y="674.50" font-size="6.4" fill="#333"><tspan font-style="italic">p</tspan>=0.2911</text>
<rect x="490.60" y="761.40" width="67.00" height="72.20" fill="none" stroke="#333" stroke-width="0.8"/>
<rect x="495.50" y="820.66" width="10.50" height="12.94" fill="#3a5069"/>
<line x1="500.75" y1="820.66" x2="500.75" y2="814.11" stroke="#111111" stroke-width="0.9"/>
<line x1="498.55" y1="814.11" x2="502.95" y2="814.11" stroke="#111111" stroke-width="0.9"/>
<circle cx="497.19" cy="821.92" r="1.15" fill="#111111"/>
<circle cx="498.64" cy="827.36" r="1.15" fill="#111111"/>
<circle cx="501.03" cy="825.70" r="1.15" fill="#111111"/>
<circle cx="502.58" cy="815.39" r="1.15" fill="#111111"/>
<circle cx="504.12" cy="815.99" r="1.15" fill="#111111"/>
<circle cx="501.44" cy="824.27" r="1.15" fill="#111111"/>
<rect x="511.00" y="812.38" width="10.40" height="21.22" fill="#e0a62d"/>
<line x1="516.20" y1="812.38" x2="516.20" y2="804.79" stroke="#d39c20" stroke-width="0.9"/>
<line x1="514.00" y1="804.79" x2="518.40" y2="804.79" stroke="#d39c20" stroke-width="0.9"/>
<circle cx="512.52" cy="808.44" r="1.15" fill="#c58d10"/>
<circle cx="514.32" cy="808.21" r="1.15" fill="#c58d10"/>
<circle cx="516.32" cy="816.46" r="1.15" fill="#c58d10"/>
<circle cx="518.30" cy="816.60" r="1.15" fill="#c58d10"/>
<circle cx="519.91" cy="818.85" r="1.15" fill="#c58d10"/>
<circle cx="516.84" cy="811.26" r="1.15" fill="#c58d10"/>
<rect x="525.70" y="794.96" width="10.50" height="38.64" fill="#9d6a58"/>
<line x1="530.95" y1="794.96" x2="530.95" y2="781.85" stroke="#8e5a48" stroke-width="0.9"/>
<line x1="528.75" y1="781.85" x2="533.15" y2="781.85" stroke="#8e5a48" stroke-width="0.9"/>
<circle cx="527.59" cy="788.05" r="1.15" fill="#7d4535"/>
<circle cx="529.05" cy="800.73" r="1.15" fill="#7d4535"/>
<circle cx="531.13" cy="804.01" r="1.15" fill="#7d4535"/>
<circle cx="532.48" cy="787.44" r="1.15" fill="#7d4535"/>
<circle cx="534.34" cy="794.69" r="1.15" fill="#7d4535"/>
<circle cx="532.13" cy="787.34" r="1.15" fill="#7d4535"/>
<rect x="541.50" y="796.86" width="10.50" height="36.74" fill="#a32413"/>
<line x1="546.75" y1="796.86" x2="546.75" y2="790.48" stroke="#951d10" stroke-width="0.9"/>
<line x1="544.55" y1="790.48" x2="548.95" y2="790.48" stroke="#951d10" stroke-width="0.9"/>
<circle cx="543.54" cy="796.48" r="1.15" fill="#7c1206"/>
<circle cx="545.34" cy="801.21" r="1.15" fill="#7c1206"/>
<circle cx="546.42" cy="796.37" r="1.15" fill="#7c1206"/>
<circle cx="548.51" cy="800.95" r="1.15" fill="#7c1206"/>
<circle cx="550.36" cy="799.31" r="1.15" fill="#7c1206"/>
<circle cx="547.36" cy="794.48" r="1.15" fill="#7c1206"/>
<line x1="490.60" y1="833.60" x2="490.60" y2="764.20" stroke="#333" stroke-width="0.8"/>
<line x1="490.20" y1="833.60" x2="557.60" y2="833.60" stroke="#333" stroke-width="0.9"/>
<line x1="488.20" y1="833.60" x2="490.60" y2="833.60" stroke="#333" stroke-width="0.7"/>
<text x="487.20" y="835.26" font-size="4.6" fill="#444" text-anchor="end">0</text>
<line x1="488.20" y1="816.35" x2="490.60" y2="816.35" stroke="#333" stroke-width="0.7"/>
<text x="487.20" y="818.01" font-size="4.6" fill="#444" text-anchor="end">10</text>
<line x1="488.20" y1="799.10" x2="490.60" y2="799.10" stroke="#333" stroke-width="0.7"/>
<text x="487.20" y="800.76" font-size="4.6" fill="#444" text-anchor="end">20</text>
<line x1="488.20" y1="781.85" x2="490.60" y2="781.85" stroke="#333" stroke-width="0.7"/>
<text x="487.20" y="783.51" font-size="4.6" fill="#444" text-anchor="end">30</text>
<line x1="488.20" y1="764.60" x2="490.60" y2="764.60" stroke="#333" stroke-width="0.7"/>
<text x="487.20" y="766.26" font-size="4.6" fill="#444" text-anchor="end">40</text>
<line x1="489.20" y1="824.98" x2="490.60" y2="824.98" stroke="#333" stroke-width="0.6"/>
<line x1="489.20" y1="807.73" x2="490.60" y2="807.73" stroke="#333" stroke-width="0.6"/>
<line x1="489.20" y1="790.48" x2="490.60" y2="790.48" stroke="#333" stroke-width="0.6"/>
<line x1="489.20" y1="773.23" x2="490.60" y2="773.23" stroke="#333" stroke-width="0.6"/>
<text x="472.30" y="795.00" font-size="12.5" fill="#111" text-anchor="middle" transform="rotate(-90 472.30 795.00)">Failure Force (N)</text>
<line x1="500.75" y1="833.60" x2="500.75" y2="835.90" stroke="#333" stroke-width="0.7"/>
<text x="499.75" y="841.60" font-size="6.9" fill="#111" text-anchor="end" transform="rotate(-45 499.75 841.60)">Injury</text>
<line x1="516.20" y1="833.60" x2="516.20" y2="835.90" stroke="#333" stroke-width="0.7"/>
<text x="515.20" y="841.60" font-size="6.9" fill="#111" text-anchor="end" transform="rotate(-45 515.20 841.60)">GelMA</text>
<line x1="530.95" y1="833.60" x2="530.95" y2="835.90" stroke="#333" stroke-width="0.7"/>
<text x="529.95" y="841.60" font-size="6.9" fill="#111" text-anchor="end" transform="rotate(-45 529.95 841.60)">GelMA-<tspan font-style="italic">c</tspan>-FGF7</text>
<line x1="546.75" y1="833.60" x2="546.75" y2="835.90" stroke="#333" stroke-width="0.7"/>
<text x="545.75" y="841.60" font-size="6.9" fill="#111" text-anchor="end" transform="rotate(-45 545.75 841.60)">Sham</text>
<line x1="500.50" y1="770.60" x2="531.00" y2="770.60" stroke="#444" stroke-width="0.8"/>
<text x="515.75" y="772.80" font-size="7.0" fill="#111" text-anchor="middle" font-weight="bold">**</text>
<text x="500.50" y="766.00" font-size="6.4" fill="#333"><tspan font-style="italic">p</tspan>=0.0016</text>
<line x1="516.00" y1="781.50" x2="531.00" y2="781.50" stroke="#444" stroke-width="0.8"/>
<text x="523.50" y="783.70" font-size="7.0" fill="#111" text-anchor="middle" font-weight="bold">*</text>
<text x="502.00" y="776.50" font-size="6.4" fill="#333"><tspan font-style="italic">p</tspan>=0.0187</text>
<line x1="531.00" y1="774.50" x2="546.50" y2="774.50" stroke="#444" stroke-width="0.8"/>
<text x="538.75" y="773.80" font-size="4.0" fill="#444" text-anchor="middle">NS</text>
<text x="528.50" y="766.00" font-size="6.4" fill="#333"><tspan font-style="italic">p</tspan>=0.7825</text>
<line x1="556.00" y1="530.70" x2="685.00" y2="530.70" stroke="#2a2a2a" stroke-width="1.25"/>
<line x1="556.00" y1="546.30" x2="685.00" y2="546.30" stroke="#2a2a2a" stroke-width="1.25"/>
<line x1="556.00" y1="560.50" x2="685.00" y2="560.50" stroke="#2a2a2a" stroke-width="1.25"/>
<line x1="556.00" y1="576.20" x2="685.00" y2="576.20" stroke="#2a2a2a" stroke-width="1.25"/>
<line x1="556.00" y1="591.40" x2="685.00" y2="591.40" stroke="#2a2a2a" stroke-width="1.25"/>
<line x1="556.00" y1="607.60" x2="685.00" y2="607.60" stroke="#2a2a2a" stroke-width="1.25"/>
<text x="557.80" y="541.10" font-size="8.0" fill="#111" font-weight="bold">Group</text>
<text x="593.00" y="541.10" font-size="8.25" fill="#111" font-weight="bold">Stress at Failure(Mpa)</text>
<text x="557.80" y="557.30" font-size="8.1" fill="#1a1a1a">Injury</text>
<text x="619.50" y="557.30" font-size="8.3" fill="#1a1a1a">4.64±1.36</text>
<text x="557.80" y="572.40" font-size="8.1" fill="#1a1a1a">GelMA</text>
<text x="619.50" y="572.40" font-size="8.3" fill="#1a1a1a">11.38±9.18</text>
<text x="557.80" y="588.00" font-size="8.1" fill="#1a1a1a">GelMA-<tspan font-style="italic">c</tspan>-FGF7</text>
<text x="619.50" y="588.00" font-size="8.3" fill="#1a1a1a">44.70±15.18</text>
<text x="557.80" y="602.80" font-size="8.1" fill="#1a1a1a">Sham</text>
<text x="619.50" y="602.80" font-size="8.3" fill="#1a1a1a">31.51±12.75</text>
<line x1="557.00" y1="651.60" x2="685.00" y2="651.60" stroke="#2a2a2a" stroke-width="1.25"/>
<line x1="557.00" y1="667.40" x2="685.00" y2="667.40" stroke="#2a2a2a" stroke-width="1.25"/>
<line x1="557.00" y1="682.60" x2="685.00" y2="682.60" stroke="#2a2a2a" stroke-width="1.25"/>
<line x1="557.00" y1="697.80" x2="685.00" y2="697.80" stroke="#2a2a2a" stroke-width="1.25"/>
<line x1="557.00" y1="712.40" x2="685.00" y2="712.40" stroke="#2a2a2a" stroke-width="1.25"/>
<line x1="557.00" y1="728.50" x2="685.00" y2="728.50" stroke="#2a2a2a" stroke-width="1.25"/>
<text x="561.60" y="662.50" font-size="8.0" fill="#111" font-weight="bold">Group</text>
<text x="621.00" y="662.50" font-size="8.25" fill="#111" font-weight="bold">Modulus(MPa)</text>
<text x="561.60" y="678.20" font-size="8.1" fill="#1a1a1a">Injury</text>
<text x="624.30" y="678.20" font-size="8.3" fill="#1a1a1a">30.82±7.44</text>
<text x="561.60" y="693.40" font-size="8.1" fill="#1a1a1a">GelMA</text>
<text x="624.30" y="693.40" font-size="8.3" fill="#1a1a1a">50.00±10.68</text>
<text x="561.60" y="709.50" font-size="8.1" fill="#1a1a1a">GelMA-<tspan font-style="italic">c</tspan>-FGF7</text>
<text x="623.70" y="709.50" font-size="8.3" fill="#1a1a1a">226.95±109.12</text>
<text x="561.60" y="722.80" font-size="8.1" fill="#1a1a1a">Sham</text>
<text x="624.30" y="722.80" font-size="8.3" fill="#1a1a1a">165.06±61.68</text>
<line x1="557.80" y1="764.60" x2="685.00" y2="764.60" stroke="#2a2a2a" stroke-width="1.25"/>
<line x1="557.80" y1="778.90" x2="685.00" y2="778.90" stroke="#2a2a2a" stroke-width="1.25"/>
<line x1="557.80" y1="794.00" x2="685.00" y2="794.00" stroke="#2a2a2a" stroke-width="1.25"/>
<line x1="557.80" y1="809.60" x2="685.00" y2="809.60" stroke="#2a2a2a" stroke-width="1.25"/>
<line x1="557.80" y1="824.80" x2="685.00" y2="824.80" stroke="#2a2a2a" stroke-width="1.25"/>
<line x1="557.80" y1="841.00" x2="685.00" y2="841.00" stroke="#2a2a2a" stroke-width="1.25"/>
<text x="561.60" y="774.70" font-size="8.0" fill="#111" font-weight="bold">Group</text>
<text x="610.00" y="774.70" font-size="8.25" fill="#111" font-weight="bold">Failure Force (N)</text>
<text x="561.60" y="790.30" font-size="8.1" fill="#1a1a1a">Injury</text>
<text x="624.80" y="790.30" font-size="8.3" fill="#1a1a1a">7.51±3.83</text>
<text x="561.60" y="805.80" font-size="8.1" fill="#1a1a1a">GelMA</text>
<text x="624.80" y="805.80" font-size="8.3" fill="#1a1a1a">12.33±4.36</text>
<text x="561.60" y="820.60" font-size="8.1" fill="#1a1a1a">GelMA-c-FGF7</text>
<text x="624.80" y="820.60" font-size="8.3" fill="#1a1a1a">22.35±7.59</text>
<text x="561.60" y="834.90" font-size="8.1" fill="#1a1a1a">Sham</text>
<text x="624.80" y="834.90" font-size="8.3" fill="#1a1a1a">21.29±3.65</text>
<defs>
<filter id="bl1" x="-20%" y="-20%" width="140%" height="140%"><feGaussianBlur stdDeviation="1.2"/></filter>
<filter id="bl2" x="-30%" y="-30%" width="160%" height="160%"><feGaussianBlur stdDeviation="2.5"/></filter>
<filter id="bl05"><feGaussianBlur stdDeviation="0.5"/></filter>
</defs>
<linearGradient id="vg1" x1="0" y1="0" x2="0" y2="1"><stop offset="0" stop-color="#a47888"/><stop offset="0.35" stop-color="#8c6070"/><stop offset="1" stop-color="#765266"/></linearGradient>
<clipPath id="pc1"><rect x="22.80" y="543.40" width="53.70" height="83.90"/></clipPath>
<g clip-path="url(#pc1)">
<rect x="22.80" y="543.40" width="53.70" height="83.90" fill="#e4e0da"/>
<ellipse cx="74.00" cy="620.00" rx="8.00" ry="14.00" fill="#1d4a62" opacity="0.95" filter="url(#bl2)" transform="rotate(0 74.00 620.00)"/>
<ellipse cx="30.00" cy="548.00" rx="10.00" ry="5.00" fill="#d8d4c8" opacity="1" filter="url(#bl2)" transform="rotate(0 30.00 548.00)"/>
<ellipse cx="75.00" cy="555.00" rx="4.00" ry="8.00" fill="#b03a3a" opacity="0.5" filter="url(#bl2)" transform="rotate(0 75.00 555.00)"/>
<path d="M56.50,538.00 C76.75,555.28 73.24,614.80 56.50,634.00 C39.76,614.80 36.25,555.28 56.50,538.00Z" fill="url(#vg1)" opacity="1.0" filter="url(#bl1)"/>
<path d="M57.00,560.00 C66.00,570.80 64.44,608.00 57.00,620.00 C49.56,608.00 48.00,570.80 57.00,560.00Z" fill="#92687a" opacity="0.6" filter="url(#bl1)"/>
<ellipse cx="55.50" cy="577.00" rx="8.00" ry="11.00" fill="#c99282" opacity="0.95" filter="url(#bl1)" transform="rotate(0 55.50 577.00)"/>
<ellipse cx="54.00" cy="575.00" rx="2.50" ry="2.00" fill="#f2dede" opacity="0.9" filter="url(#bl05)" transform="rotate(0 54.00 575.00)"/>
<ellipse cx="58.00" cy="596.00" rx="3.00" ry="4.00" fill="#a83038" opacity="0.45" filter="url(#bl1)" transform="rotate(0 58.00 596.00)"/>
<linearGradient id="rg1" x1="0" y1="0" x2="1" y2="0"><stop offset="0" stop-color="#66717a"/><stop offset="0.55" stop-color="#7d878e"/><stop offset="1" stop-color="#66717a"/></linearGradient>
<rect x="21.80" y="561.00" width="23.80" height="67.30" fill="url(#rg1)"/>
<line x1="39.10" y1="563.00" x2="45.30" y2="563.00" stroke="#22272a" stroke-width="0.5" opacity="0.7"/>
<line x1="42.20" y1="564.30" x2="45.30" y2="564.30" stroke="#22272a" stroke-width="0.5" opacity="0.7"/>
<line x1="42.20" y1="565.60" x2="45.30" y2="565.60" stroke="#22272a" stroke-width="0.5" opacity="0.7"/>
<line x1="42.20" y1="566.90" x2="45.30" y2="566.90" stroke="#22272a" stroke-width="0.5" opacity="0.7"/>
<line x1="42.20" y1="568.20" x2="45.30" y2="568.20" stroke="#22272a" stroke-width="0.5" opacity="0.7"/>
<line x1="40.60" y1="569.50" x2="45.30" y2="569.50" stroke="#22272a" stroke-width="0.5" opacity="0.7"/>
<line x1="42.20" y1="570.80" x2="45.30" y2="570.80" stroke="#22272a" stroke-width="0.5" opacity="0.7"/>
<line x1="42.20" y1="572.10" x2="45.30" y2="572.10" stroke="#22272a" stroke-width="0.5" opacity="0.7"/>
<line x1="42.20" y1="573.40" x2="45.30" y2="573.40" stroke="#22272a" stroke-width="0.5" opacity="0.7"/>
<line x1="42.20" y1="574.70" x2="45.30" y2="574.70" stroke="#22272a" stroke-width="0.5" opacity="0.7"/>
<line x1="39.10" y1="576.00" x2="45.30" y2="576.00" stroke="#22272a" stroke-width="0.5" opacity="0.7"/>
<line x1="42.20" y1="577.30" x2="45.30" y2="577.30" stroke="#22272a" stroke-width="0.5" opacity="0.7"/>
<line x1="42.20" y1="578.60" x2="45.30" y2="578.60" stroke="#22272a" stroke-width="0.5" opacity="0.7"/>
<line x1="42.20" y1="579.90" x2="45.30" y2="579.90" stroke="#22272a" stroke-width="0.5" opacity="0.7"/>
<line x1="42.20" y1="581.20" x2="45.30" y2="581.20" stroke="#22272a" stroke-width="0.5" opacity="0.7"/>
<line x1="40.60" y1="582.50" x2="45.30" y2="582.50" stroke="#22272a" stroke-width="0.5" opacity="0.7"/>
<line x1="42.20" y1="583.80" x2="45.30" y2="583.80" stroke="#22272a" stroke-width="0.5" opacity="0.7"/>
<line x1="42.20" y1="585.10" x2="45.30" y2="585.10" stroke="#22272a" stroke-width="0.5" opacity="0.7"/>
<line x1="42.20" y1="586.40" x2="45.30" y2="586.40" stroke="#22272a" stroke-width="0.5" opacity="0.7"/>
<line x1="42.20" y1="587.70" x2="45.30" y2="587.70" stroke="#22272a" stroke-width="0.5" opacity="0.7"/>
<line x1="39.10" y1="589.00" x2="45.30" y2="589.00" stroke="#22272a" stroke-width="0.5" opacity="0.7"/>
<line x1="42.20" y1="590.30" x2="45.30" y2="590.30" stroke="#22272a" stroke-width="0.5" opacity="0.7"/>
<line x1="42.20" y1="591.60" x2="45.30" y2="591.60" stroke="#22272a" stroke-width="0.5" opacity="0.7"/>
<line x1="42.20" y1="592.90" x2="45.30" y2="592.90" stroke="#22272a" stroke-width="0.5" opacity="0.7"/>
<line x1="42.20" y1="594.20" x2="45.30" y2="594.20" stroke="#22272a" stroke-width="0.5" opacity="0.7"/>
<line x1="40.60" y1="595.50" x2="45.30" y2="595.50" stroke="#22272a" stroke-width="0.5" opacity="0.7"/>
<line x1="42.20" y1="596.80" x2="45.30" y2="596.80" stroke="#22272a" stroke-width="0.5" opacity="0.7"/>
<line x1="42.20" y1="598.10" x2="45.30" y2="598.10" stroke="#22272a" stroke-width="0.5" opacity="0.7"/>
<line x1="42.20" y1="599.40" x2="45.30" y2="599.40" stroke="#22272a" stroke-width="0.5" opacity="0.7"/>
<line x1="42.20" y1="600.70" x2="45.30" y2="600.70" stroke="#22272a" stroke-width="0.5" opacity="0.7"/>
<line x1="39.10" y1="602.00" x2="45.30" y2="602.00" stroke="#22272a" stroke-width="0.5" opacity="0.7"/>
<line x1="42.20" y1="603.30" x2="45.30" y2="603.30" stroke="#22272a" stroke-width="0.5" opacity="0.7"/>
<line x1="42.20" y1="604.60" x2="45.30" y2="604.60" stroke="#22272a" stroke-width="0.5" opacity="0.7"/>
<line x1="42.20" y1="605.90" x2="45.30" y2="605.90" stroke="#22272a" stroke-width="0.5" opacity="0.7"/>
<line x1="42.20" y1="607.20" x2="45.30" y2="607.20" stroke="#22272a" stroke-width="0.5" opacity="0.7"/>
<line x1="40.60" y1="608.50" x2="45.30" y2="608.50" stroke="#22272a" stroke-width="0.5" opacity="0.7"/>
<line x1="42.20" y1="609.80" x2="45.30" y2="609.80" stroke="#22272a" stroke-width="0.5" opacity="0.7"/>
<line x1="42.20" y1="611.10" x2="45.30" y2="611.10" stroke="#22272a" stroke-width="0.5" opacity="0.7"/>
<line x1="42.20" y1="612.40" x2="45.30" y2="612.40" stroke="#22272a" stroke-width="0.5" opacity="0.7"/>
<line x1="42.20" y1="613.70" x2="45.30" y2="613.70" stroke="#22272a" stroke-width="0.5" opacity="0.7"/>
<line x1="39.10" y1="615.00" x2="45.30" y2="615.00" stroke="#22272a" stroke-width="0.5" opacity="0.7"/>
<line x1="42.20" y1="616.30" x2="45.30" y2="616.30" stroke="#22272a" stroke-width="0.5" opacity="0.7"/>
<line x1="42.20" y1="617.60" x2="45.30" y2="617.60" stroke="#22272a" stroke-width="0.5" opacity="0.7"/>
<line x1="42.20" y1="618.90" x2="45.30" y2="618.90" stroke="#22272a" stroke-width="0.5" opacity="0.7"/>
<line x1="42.20" y1="620.20" x2="45.30" y2="620.20" stroke="#22272a" stroke-width="0.5" opacity="0.7"/>
<line x1="40.60" y1="621.50" x2="45.30" y2="621.50" stroke="#22272a" stroke-width="0.5" opacity="0.7"/>
<line x1="42.20" y1="622.80" x2="45.30" y2="622.80" stroke="#22272a" stroke-width="0.5" opacity="0.7"/>
<line x1="42.20" y1="624.10" x2="45.30" y2="624.10" stroke="#22272a" stroke-width="0.5" opacity="0.7"/>
<line x1="42.20" y1="625.40" x2="45.30" y2="625.40" stroke="#22272a" stroke-width="0.5" opacity="0.7"/>
<line x1="42.20" y1="626.70" x2="45.30" y2="626.70" stroke="#22272a" stroke-width="0.5" opacity="0.7"/>
<text x="25.40" y="585.60" font-size="10.0" fill="#15191c" text-anchor="middle" transform="rotate(90 25.40 585.60)">1</text>
<text x="25.40" y="612.50" font-size="10.0" fill="#15191c" text-anchor="middle" transform="rotate(90 25.40 612.50)">2</text>
</g>
<rect x="44.00" y="564.30" width="22.50" height="26.90" fill="none" stroke="#0c0c0c" stroke-width="1.3"/>
<clipPath id="pc2"><rect x="22.80" y="632.40" width="53.70" height="36.60"/></clipPath>
<g clip-path="url(#pc2)">
<rect x="22.80" y="632.40" width="53.70" height="36.60" fill="#d8c8c8"/>
<ellipse cx="63.00" cy="650.00" rx="16.00" ry="22.00" fill="#a8707a" opacity="1.0" filter="url(#bl1)" transform="rotate(0 63.00 650.00)"/>
<ellipse cx="62.00" cy="651.00" rx="11.00" ry="11.00" fill="#cc9888" opacity="1" filter="url(#bl1)" transform="rotate(0 62.00 651.00)"/>
<ellipse cx="58.00" cy="646.00" rx="2.00" ry="2.00" fill="#f0e0e0" opacity="0.9" filter="url(#bl05)" transform="rotate(0 58.00 646.00)"/>
<linearGradient id="rg2" x1="0" y1="0" x2="1" y2="0"><stop offset="0" stop-color="#6a747c"/><stop offset="0.55" stop-color="#7e888f"/><stop offset="1" stop-color="#6a747c"/></linearGradient>
<rect x="21.80" y="632.40" width="26.70" height="37.60" fill="url(#rg2)"/>
<line x1="42.00" y1="634.40" x2="48.20" y2="634.40" stroke="#22272a" stroke-width="0.5" opacity="0.7"/>
<line x1="45.10" y1="635.70" x2="48.20" y2="635.70" stroke="#22272a" stroke-width="0.5" opacity="0.7"/>
<line x1="45.10" y1="637.00" x2="48.20" y2="637.00" stroke="#22272a" stroke-width="0.5" opacity="0.7"/>
<line x1="45.10" y1="638.30" x2="48.20" y2="638.30" stroke="#22272a" stroke-width="0.5" opacity="0.7"/>
<line x1="45.10" y1="639.60" x2="48.20" y2="639.60" stroke="#22272a" stroke-width="0.5" opacity="0.7"/>
<line x1="43.50" y1="640.90" x2="48.20" y2="640.90" stroke="#22272a" stroke-width="0.5" opacity="0.7"/>
<line x1="45.10" y1="642.20" x2="48.20" y2="642.20" stroke="#22272a" stroke-width="0.5" opacity="0.7"/>
<line x1="45.10" y1="643.50" x2="48.20" y2="643.50" stroke="#22272a" stroke-width="0.5" opacity="0.7"/>
<line x1="45.10" y1="644.80" x2="48.20" y2="644.80" stroke="#22272a" stroke-width="0.5" opacity="0.7"/>
<line x1="45.10" y1="646.10" x2="48.20" y2="646.10" stroke="#22272a" stroke-width="0.5" opacity="0.7"/>
<line x1="42.00" y1="647.40" x2="48.20" y2="647.40" stroke="#22272a" stroke-width="0.5" opacity="0.7"/>
<line x1="45.10" y1="648.70" x2="48.20" y2="648.70" stroke="#22272a" stroke-width="0.5" opacity="0.7"/>
<line x1="45.10" y1="650.00" x2="48.20" y2="650.00" stroke="#22272a" stroke-width="0.5" opacity="0.7"/>
<line x1="45.10" y1="651.30" x2="48.20" y2="651.30" stroke="#22272a" stroke-width="0.5" opacity="0.7"/>
<line x1="45.10" y1="652.60" x2="48.20" y2="652.60" stroke="#22272a" stroke-width="0.5" opacity="0.7"/>
<line x1="43.50" y1="653.90" x2="48.20" y2="653.90" stroke="#22272a" stroke-width="0.5" opacity="0.7"/>
<line x1="45.10" y1="655.20" x2="48.20" y2="655.20" stroke="#22272a" stroke-width="0.5" opacity="0.7"/>
<line x1="45.10" y1="656.50" x2="48.20" y2="656.50" stroke="#22272a" stroke-width="0.5" opacity="0.7"/>
<line x1="45.10" y1="657.80" x2="48.20" y2="657.80" stroke="#22272a" stroke-width="0.5" opacity="0.7"/>
<line x1="45.10" y1="659.10" x2="48.20" y2="659.10" stroke="#22272a" stroke-width="0.5" opacity="0.7"/>
<line x1="42.00" y1="660.40" x2="48.20" y2="660.40" stroke="#22272a" stroke-width="0.5" opacity="0.7"/>
<line x1="45.10" y1="661.70" x2="48.20" y2="661.70" stroke="#22272a" stroke-width="0.5" opacity="0.7"/>
<line x1="45.10" y1="663.00" x2="48.20" y2="663.00" stroke="#22272a" stroke-width="0.5" opacity="0.7"/>
<line x1="45.10" y1="664.30" x2="48.20" y2="664.30" stroke="#22272a" stroke-width="0.5" opacity="0.7"/>
<line x1="45.10" y1="665.60" x2="48.20" y2="665.60" stroke="#22272a" stroke-width="0.5" opacity="0.7"/>
<line x1="43.50" y1="666.90" x2="48.20" y2="666.90" stroke="#22272a" stroke-width="0.5" opacity="0.7"/>
<line x1="45.10" y1="668.20" x2="48.20" y2="668.20" stroke="#22272a" stroke-width="0.5" opacity="0.7"/>
<text x="24.00" y="659.50" font-size="10.0" fill="#15191c" text-anchor="middle" transform="rotate(90 24.00 659.50)">1</text>
</g>
<ellipse cx="62.70" cy="651.00" rx="14.20" ry="11.40" fill="none" stroke="#0c0c0c" stroke-width="1.3"/>
<line x1="44.00" y1="591.20" x2="49.50" y2="649.00" stroke="#333" stroke-width="0.55"/>
<line x1="66.50" y1="591.20" x2="76.40" y2="649.00" stroke="#333" stroke-width="0.55"/>
<linearGradient id="vg2" x1="0" y1="0" x2="0" y2="1"><stop offset="0" stop-color="#a85a66"/><stop offset="0.4" stop-color="#92525f"/><stop offset="1" stop-color="#7a5262"/></linearGradient>
<clipPath id="pc3"><rect x="95.00" y="543.30" width="53.20" height="84.00"/></clipPath>
<g clip-path="url(#pc3)">
<rect x="95.00" y="543.30" width="53.20" height="84.00" fill="#dcd8d2"/>
<ellipse cx="146.00" cy="620.00" rx="6.00" ry="8.00" fill="#2fa08c" opacity="0.9" filter="url(#bl2)" transform="rotate(0 146.00 620.00)"/>
<ellipse cx="98.00" cy="548.00" rx="5.00" ry="6.00" fill="#3a7090" opacity="0.8" filter="url(#bl2)" transform="rotate(0 98.00 548.00)"/>
<ellipse cx="146.00" cy="548.00" rx="4.00" ry="6.00" fill="#a03030" opacity="0.6" filter="url(#bl2)" transform="rotate(0 146.00 548.00)"/>
<path d="M127.50,536.00 C151.25,551.84 147.48,606.40 131.50,624.00 C111.52,606.40 107.75,551.84 127.50,536.00Z" fill="url(#vg2)" opacity="1" filter="url(#bl1)"/>
<path d="M130.00,552.00 C142.00,563.34 139.92,602.40 130.00,615.00 C120.08,602.40 118.00,563.34 130.00,552.00Z" fill="#8a5a6a" opacity="0.6" filter="url(#bl1)"/>
<ellipse cx="128.00" cy="570.00" rx="9.00" ry="12.00" fill="#d09080" opacity="0.95" filter="url(#bl1)" transform="rotate(0 128.00 570.00)"/>
<ellipse cx="129.00" cy="566.00" rx="3.00" ry="3.00" fill="#f0d8d0" opacity="0.9" filter="url(#bl1)" transform="rotate(0 129.00 566.00)"/>
<ellipse cx="127.00" cy="581.00" rx="3.00" ry="2.00" fill="#c02030" opacity="0.8" filter="url(#bl1)" transform="rotate(0 127.00 581.00)"/>
<linearGradient id="rg3" x1="0" y1="0" x2="1" y2="0"><stop offset="0" stop-color="#485052"/><stop offset="0.55" stop-color="#59605f"/><stop offset="1" stop-color="#485052"/></linearGradient>
<rect x="94.00" y="554.40" width="21.00" height="73.90" fill="url(#rg3)"/>
<line x1="108.50" y1="556.40" x2="114.70" y2="556.40" stroke="#22272a" stroke-width="0.5" opacity="0.7"/>
<line x1="111.60" y1="557.70" x2="114.70" y2="557.70" stroke="#22272a" stroke-width="0.5" opacity="0.7"/>
<line x1="111.60" y1="559.00" x2="114.70" y2="559.00" stroke="#22272a" stroke-width="0.5" opacity="0.7"/>
<line x1="111.60" y1="560.30" x2="114.70" y2="560.30" stroke="#22272a" stroke-width="0.5" opacity="0.7"/>
<line x1="111.60" y1="561.60" x2="114.70" y2="561.60" stroke="#22272a" stroke-width="0.5" opacity="0.7"/>
<line x1="110.00" y1="562.90" x2="114.70" y2="562.90" stroke="#22272a" stroke-width="0.5" opacity="0.7"/>
<line x1="111.60" y1="564.20" x2="114.70" y2="564.20" stroke="#22272a" stroke-width="0.5" opacity="0.7"/>
<line x1="111.60" y1="565.50" x2="114.70" y2="565.50" stroke="#22272a" stroke-width="0.5" opacity="0.7"/>
<line x1="111.60" y1="566.80" x2="114.70" y2="566.80" stroke="#22272a" stroke-width="0.5" opacity="0.7"/>
<line x1="111.60" y1="568.10" x2="114.70" y2="568.10" stroke="#22272a" stroke-width="0.5" opacity="0.7"/>
<line x1="108.50" y1="569.40" x2="114.70" y2="569.40" stroke="#22272a" stroke-width="0.5" opacity="0.7"/>
<line x1="111.60" y1="570.70" x2="114.70" y2="570.70" stroke="#22272a" stroke-width="0.5" opacity="0.7"/>
<line x1="111.60" y1="572.00" x2="114.70" y2="572.00" stroke="#22272a" stroke-width="0.5" opacity="0.7"/>
<line x1="111.60" y1="573.30" x2="114.70" y2="573.30" stroke="#22272a" stroke-width="0.5" opacity="0.7"/>
<line x1="111.60" y1="574.60" x2="114.70" y2="574.60" stroke="#22272a" stroke-width="0.5" opacity="0.7"/>
<line x1="110.00" y1="575.90" x2="114.70" y2="575.90" stroke="#22272a" stroke-width="0.5" opacity="0.7"/>
<line x1="111.60" y1="577.20" x2="114.70" y2="577.20" stroke="#22272a" stroke-width="0.5" opacity="0.7"/>
<line x1="111.60" y1="578.50" x2="114.70" y2="578.50" stroke="#22272a" stroke-width="0.5" opacity="0.7"/>
<line x1="111.60" y1="579.80" x2="114.70" y2="579.80" stroke="#22272a" stroke-width="0.5" opacity="0.7"/>
<line x1="111.60" y1="581.10" x2="114.70" y2="581.10" stroke="#22272a" stroke-width="0.5" opacity="0.7"/>
<line x1="108.50" y1="582.40" x2="114.70" y2="582.40" stroke="#22272a" stroke-width="0.5" opacity="0.7"/>
<line x1="111.60" y1="583.70" x2="114.70" y2="583.70" stroke="#22272a" stroke-width="0.5" opacity="0.7"/>
<line x1="111.60" y1="585.00" x2="114.70" y2="585.00" stroke="#22272a" stroke-width="0.5" opacity="0.7"/>
<line x1="111.60" y1="586.30" x2="114.70" y2="586.30" stroke="#22272a" stroke-width="0.5" opacity="0.7"/>
<line x1="111.60" y1="587.60" x2="114.70" y2="587.60" stroke="#22272a" stroke-width="0.5" opacity="0.7"/>
<line x1="110.00" y1="588.90" x2="114.70" y2="588.90" stroke="#22272a" stroke-width="0.5" opacity="0.7"/>
<line x1="111.60" y1="590.20" x2="114.70" y2="590.20" stroke="#22272a" stroke-width="0.5" opacity="0.7"/>
<line x1="111.60" y1="591.50" x2="114.70" y2="591.50" stroke="#22272a" stroke-width="0.5" opacity="0.7"/>
<line x1="111.60" y1="592.80" x2="114.70" y2="592.80" stroke="#22272a" stroke-width="0.5" opacity="0.7"/>
<line x1="111.60" y1="594.10" x2="114.70" y2="594.10" stroke="#22272a" stroke-width="0.5" opacity="0.7"/>
<line x1="108.50" y1="595.40" x2="114.70" y2="595.40" stroke="#22272a" stroke-width="0.5" opacity="0.7"/>
<line x1="111.60" y1="596.70" x2="114.70" y2="596.70" stroke="#22272a" stroke-width="0.5" opacity="0.7"/>
<line x1="111.60" y1="598.00" x2="114.70" y2="598.00" stroke="#22272a" stroke-width="0.5" opacity="0.7"/>
<line x1="111.60" y1="599.30" x2="114.70" y2="599.30" stroke="#22272a" stroke-width="0.5" opacity="0.7"/>
<line x1="111.60" y1="600.60" x2="114.70" y2="600.60" stroke="#22272a" stroke-width="0.5" opacity="0.7"/>
<line x1="110.00" y1="601.90" x2="114.70" y2="601.90" stroke="#22272a" stroke-width="0.5" opacity="0.7"/>
<line x1="111.60" y1="603.20" x2="114.70" y2="603.20" stroke="#22272a" stroke-width="0.5" opacity="0.7"/>
<line x1="111.60" y1="604.50" x2="114.70" y2="604.50" stroke="#22272a" stroke-width="0.5" opacity="0.7"/>
<line x1="111.60" y1="605.80" x2="114.70" y2="605.80" stroke="#22272a" stroke-width="0.5" opacity="0.7"/>
<line x1="111.60" y1="607.10" x2="114.70" y2="607.10" stroke="#22272a" stroke-width="0.5" opacity="0.7"/>
<line x1="108.50" y1="608.40" x2="114.70" y2="608.40" stroke="#22272a" stroke-width="0.5" opacity="0.7"/>
<line x1="111.60" y1="609.70" x2="114.70" y2="609.70" stroke="#22272a" stroke-width="0.5" opacity="0.7"/>
<line x1="111.60" y1="611.00" x2="114.70" y2="611.00" stroke="#22272a" stroke-width="0.5" opacity="0.7"/>
<line x1="111.60" y1="612.30" x2="114.70" y2="612.30" stroke="#22272a" stroke-width="0.5" opacity="0.7"/>
<line x1="111.60" y1="613.60" x2="114.70" y2="613.60" stroke="#22272a" stroke-width="0.5" opacity="0.7"/>
<line x1="110.00" y1="614.90" x2="114.70" y2="614.90" stroke="#22272a" stroke-width="0.5" opacity="0.7"/>
<line x1="111.60" y1="616.20" x2="114.70" y2="616.20" stroke="#22272a" stroke-width="0.5" opacity="0.7"/>
<line x1="111.60" y1="617.50" x2="114.70" y2="617.50" stroke="#22272a" stroke-width="0.5" opacity="0.7"/>
<line x1="111.60" y1="618.80" x2="114.70" y2="618.80" stroke="#22272a" stroke-width="0.5" opacity="0.7"/>
<line x1="111.60" y1="620.10" x2="114.70" y2="620.10" stroke="#22272a" stroke-width="0.5" opacity="0.7"/>
<line x1="108.50" y1="621.40" x2="114.70" y2="621.40" stroke="#22272a" stroke-width="0.5" opacity="0.7"/>
<line x1="111.60" y1="622.70" x2="114.70" y2="622.70" stroke="#22272a" stroke-width="0.5" opacity="0.7"/>
<line x1="111.60" y1="624.00" x2="114.70" y2="624.00" stroke="#22272a" stroke-width="0.5" opacity="0.7"/>
<line x1="111.60" y1="625.30" x2="114.70" y2="625.30" stroke="#22272a" stroke-width="0.5" opacity="0.7"/>
<line x1="111.60" y1="626.60" x2="114.70" y2="626.60" stroke="#22272a" stroke-width="0.5" opacity="0.7"/>
<text x="95.50" y="578.70" font-size="10.0" fill="#15191c" text-anchor="middle" transform="rotate(90 95.50 578.70)">1</text>
<text x="95.50" y="602.30" font-size="10.0" fill="#15191c" text-anchor="middle" transform="rotate(90 95.50 602.30)">2</text>
<text x="95.50" y="627.50" font-size="10.0" fill="#15191c" text-anchor="middle" transform="rotate(90 95.50 627.50)">3</text>
</g>
<rect x="116.60" y="557.20" width="22.00" height="26.50" fill="none" stroke="#0c0c0c" stroke-width="1.3"/>
<clipPath id="pc4"><rect x="95.00" y="631.90" width="53.20" height="36.90"/></clipPath>
<g clip-path="url(#pc4)">
<rect x="95.00" y="631.90" width="53.20" height="36.90" fill="#d8c0c0"/>
<ellipse cx="133.00" cy="650.00" rx="16.00" ry="22.00" fill="#b06a70" opacity="1.0" filter="url(#bl1)" transform="rotate(0 133.00 650.00)"/>
<ellipse cx="132.00" cy="652.00" rx="12.00" ry="11.00" fill="#d8a090" opacity="1.0" filter="url(#bl1)" transform="rotate(0 132.00 652.00)"/>
<ellipse cx="130.00" cy="648.00" rx="3.00" ry="3.00" fill="#f4e0d8" opacity="0.9" filter="url(#bl1)" transform="rotate(0 130.00 648.00)"/>
<linearGradient id="rg4" x1="0" y1="0" x2="1" y2="0"><stop offset="0" stop-color="#475052"/><stop offset="0.55" stop-color="#5a6160"/><stop offset="1" stop-color="#475052"/></linearGradient>
<rect x="94.00" y="631.90" width="24.00" height="37.90" fill="url(#rg4)"/>
<line x1="111.50" y1="633.90" x2="117.70" y2="633.90" stroke="#22272a" stroke-width="0.5" opacity="0.7"/>
<line x1="114.60" y1="635.20" x2="117.70" y2="635.20" stroke="#22272a" stroke-width="0.5" opacity="0.7"/>
<line x1="114.60" y1="636.50" x2="117.70" y2="636.50" stroke="#22272a" stroke-width="0.5" opacity="0.7"/>
<line x1="114.60" y1="637.80" x2="117.70" y2="637.80" stroke="#22272a" stroke-width="0.5" opacity="0.7"/>
<line x1="114.60" y1="639.10" x2="117.70" y2="639.10" stroke="#22272a" stroke-width="0.5" opacity="0.7"/>
<line x1="113.00" y1="640.40" x2="117.70" y2="640.40" stroke="#22272a" stroke-width="0.5" opacity="0.7"/>
<line x1="114.60" y1="641.70" x2="117.70" y2="641.70" stroke="#22272a" stroke-width="0.5" opacity="0.7"/>
<line x1="114.60" y1="643.00" x2="117.70" y2="643.00" stroke="#22272a" stroke-width="0.5" opacity="0.7"/>
<line x1="114.60" y1="644.30" x2="117.70" y2="644.30" stroke="#22272a" stroke-width="0.5" opacity="0.7"/>
<line x1="114.60" y1="645.60" x2="117.70" y2="645.60" stroke="#22272a" stroke-width="0.5" opacity="0.7"/>
<line x1="111.50" y1="646.90" x2="117.70" y2="646.90" stroke="#22272a" stroke-width="0.5" opacity="0.7"/>
<line x1="114.60" y1="648.20" x2="117.70" y2="648.20" stroke="#22272a" stroke-width="0.5" opacity="0.7"/>
<line x1="114.60" y1="649.50" x2="117.70" y2="649.50" stroke="#22272a" stroke-width="0.5" opacity="0.7"/>
<line x1="114.60" y1="650.80" x2="117.70" y2="650.80" stroke="#22272a" stroke-width="0.5" opacity="0.7"/>
<line x1="114.60" y1="652.10" x2="117.70" y2="652.10" stroke="#22272a" stroke-width="0.5" opacity="0.7"/>
<line x1="113.00" y1="653.40" x2="117.70" y2="653.40" stroke="#22272a" stroke-width="0.5" opacity="0.7"/>
<line x1="114.60" y1="654.70" x2="117.70" y2="654.70" stroke="#22272a" stroke-width="0.5" opacity="0.7"/>
<line x1="114.60" y1="656.00" x2="117.70" y2="656.00" stroke="#22272a" stroke-width="0.5" opacity="0.7"/>
<line x1="114.60" y1="657.30" x2="117.70" y2="657.30" stroke="#22272a" stroke-width="0.5" opacity="0.7"/>
<line x1="114.60" y1="658.60" x2="117.70" y2="658.60" stroke="#22272a" stroke-width="0.5" opacity="0.7"/>
<line x1="111.50" y1="659.90" x2="117.70" y2="659.90" stroke="#22272a" stroke-width="0.5" opacity="0.7"/>
<line x1="114.60" y1="661.20" x2="117.70" y2="661.20" stroke="#22272a" stroke-width="0.5" opacity="0.7"/>
<line x1="114.60" y1="662.50" x2="117.70" y2="662.50" stroke="#22272a" stroke-width="0.5" opacity="0.7"/>
<line x1="114.60" y1="663.80" x2="117.70" y2="663.80" stroke="#22272a" stroke-width="0.5" opacity="0.7"/>
<line x1="114.60" y1="665.10" x2="117.70" y2="665.10" stroke="#22272a" stroke-width="0.5" opacity="0.7"/>
<line x1="113.00" y1="666.40" x2="117.70" y2="666.40" stroke="#22272a" stroke-width="0.5" opacity="0.7"/>
<line x1="114.60" y1="667.70" x2="117.70" y2="667.70" stroke="#22272a" stroke-width="0.5" opacity="0.7"/>
<text x="97.00" y="660.50" font-size="10.0" fill="#15191c" text-anchor="middle" transform="rotate(90 97.00 660.50)">1</text>
</g>
<ellipse cx="132.50" cy="650.90" rx="13.70" ry="11.40" fill="none" stroke="#0c0c0c" stroke-width="1.3"/>
<line x1="116.60" y1="583.70" x2="119.80" y2="648.90" stroke="#333" stroke-width="0.55"/>
<line x1="138.60" y1="583.70" x2="145.70" y2="648.90" stroke="#333" stroke-width="0.55"/>
<linearGradient id="vg3" x1="0" y1="0" x2="0" y2="1"><stop offset="0" stop-color="#b06a78"/><stop offset="0.4" stop-color="#9a5666"/><stop offset="1" stop-color="#8a4c5a"/></linearGradient>
<clipPath id="pc5"><rect x="165.90" y="543.50" width="52.80" height="83.20"/></clipPath>
<g clip-path="url(#pc5)">
<rect x="165.90" y="543.50" width="52.80" height="83.20" fill="#e2dede"/>
<ellipse cx="215.00" cy="622.00" rx="6.00" ry="6.00" fill="#2f8f88" opacity="0.8" filter="url(#bl2)" transform="rotate(0 215.00 622.00)"/>
<ellipse cx="170.00" cy="548.00" rx="6.00" ry="6.00" fill="#9ab0b8" opacity="0.7" filter="url(#bl2)" transform="rotate(0 170.00 548.00)"/>
<path d="M205.00,543.00 C226.75,557.58 222.98,607.80 205.00,624.00 C187.02,607.80 183.25,557.58 205.00,543.00Z" fill="url(#vg3)" opacity="1.0" filter="url(#bl1)"/>
<path d="M206.00,555.00 C216.50,565.80 214.68,603.00 206.00,615.00 C197.32,603.00 195.50,565.80 206.00,555.00Z" fill="#a06070" opacity="0.6" filter="url(#bl1)"/>
<path d="M205.5,570.0 L208.5,570.0 L210.5,592.0 L207.0,604.0 L204.0,592.0Z" fill="#e6d8e4" opacity="0.85" filter="url(#bl1)"/>
<ellipse cx="201.00" cy="582.00" rx="3.00" ry="8.00" fill="#8a80b0" opacity="0.6" filter="url(#bl1)" transform="rotate(0 201.00 582.00)"/>
<path d="M193,611 Q205,620 216,607" stroke="#c02828" stroke-width="0.9" fill="none"/>
<path d="M192,562 Q196,546 205,544 Q213,546 214,553" stroke="#c83038" stroke-width="0.8" fill="none"/>
<linearGradient id="rg5" x1="0" y1="0" x2="1" y2="0"><stop offset="0" stop-color="#4c5557"/><stop offset="0.55" stop-color="#5e6665"/><stop offset="1" stop-color="#4c5557"/></linearGradient>
<rect x="164.90" y="559.70" width="31.10" height="68.00" fill="url(#rg5)"/>
<line x1="189.50" y1="561.70" x2="195.70" y2="561.70" stroke="#22272a" stroke-width="0.5" opacity="0.7"/>
<line x1="192.60" y1="563.00" x2="195.70" y2="563.00" stroke="#22272a" stroke-width="0.5" opacity="0.7"/>
<line x1="192.60" y1="564.30" x2="195.70" y2="564.30" stroke="#22272a" stroke-width="0.5" opacity="0.7"/>
<line x1="192.60" y1="565.60" x2="195.70" y2="565.60" stroke="#22272a" stroke-width="0.5" opacity="0.7"/>
<line x1="192.60" y1="566.90" x2="195.70" y2="566.90" stroke="#22272a" stroke-width="0.5" opacity="0.7"/>
<line x1="191.00" y1="568.20" x2="195.70" y2="568.20" stroke="#22272a" stroke-width="0.5" opacity="0.7"/>
<line x1="192.60" y1="569.50" x2="195.70" y2="569.50" stroke="#22272a" stroke-width="0.5" opacity="0.7"/>
<line x1="192.60" y1="570.80" x2="195.70" y2="570.80" stroke="#22272a" stroke-width="0.5" opacity="0.7"/>
<line x1="192.60" y1="572.10" x2="195.70" y2="572.10" stroke="#22272a" stroke-width="0.5" opacity="0.7"/>
<line x1="192.60" y1="573.40" x2="195.70" y2="573.40" stroke="#22272a" stroke-width="0.5" opacity="0.7"/>
<line x1="189.50" y1="574.70" x2="195.70" y2="574.70" stroke="#22272a" stroke-width="0.5" opacity="0.7"/>
<line x1="192.60" y1="576.00" x2="195.70" y2="576.00" stroke="#22272a" stroke-width="0.5" opacity="0.7"/>
<line x1="192.60" y1="577.30" x2="195.70" y2="577.30" stroke="#22272a" stroke-width="0.5" opacity="0.7"/>
<line x1="192.60" y1="578.60" x2="195.70" y2="578.60" stroke="#22272a" stroke-width="0.5" opacity="0.7"/>
<line x1="192.60" y1="579.90" x2="195.70" y2="579.90" stroke="#22272a" stroke-width="0.5" opacity="0.7"/>
<line x1="191.00" y1="581.20" x2="195.70" y2="581.20" stroke="#22272a" stroke-width="0.5" opacity="0.7"/>
<line x1="192.60" y1="582.50" x2="195.70" y2="582.50" stroke="#22272a" stroke-width="0.5" opacity="0.7"/>
<line x1="192.60" y1="583.80" x2="195.70" y2="583.80" stroke="#22272a" stroke-width="0.5" opacity="0.7"/>
<line x1="192.60" y1="585.10" x2="195.70" y2="585.10" stroke="#22272a" stroke-width="0.5" opacity="0.7"/>
<line x1="192.60" y1="586.40" x2="195.70" y2="586.40" stroke="#22272a" stroke-width="0.5" opacity="0.7"/>
<line x1="189.50" y1="587.70" x2="195.70" y2="587.70" stroke="#22272a" stroke-width="0.5" opacity="0.7"/>
<line x1="192.60" y1="589.00" x2="195.70" y2="589.00" stroke="#22272a" stroke-width="0.5" opacity="0.7"/>
<line x1="192.60" y1="590.30" x2="195.70" y2="590.30" stroke="#22272a" stroke-width="0.5" opacity="0.7"/>
<line x1="192.60" y1="591.60" x2="195.70" y2="591.60" stroke="#22272a" stroke-width="0.5" opacity="0.7"/>
<line x1="192.60" y1="592.90" x2="195.70" y2="592.90" stroke="#22272a" stroke-width="0.5" opacity="0.7"/>
<line x1="191.00" y1="594.20" x2="195.70" y2="594.20" stroke="#22272a" stroke-width="0.5" opacity="0.7"/>
<line x1="192.60" y1="595.50" x2="195.70" y2="595.50" stroke="#22272a" stroke-width="0.5" opacity="0.7"/>
<line x1="192.60" y1="596.80" x2="195.70" y2="596.80" stroke="#22272a" stroke-width="0.5" opacity="0.7"/>
<line x1="192.60" y1="598.10" x2="195.70" y2="598.10" stroke="#22272a" stroke-width="0.5" opacity="0.7"/>
<line x1="192.60" y1="599.40" x2="195.70" y2="599.40" stroke="#22272a" stroke-width="0.5" opacity="0.7"/>
<line x1="189.50" y1="600.70" x2="195.70" y2="600.70" stroke="#22272a" stroke-width="0.5" opacity="0.7"/>
<line x1="192.60" y1="602.00" x2="195.70" y2="602.00" stroke="#22272a" stroke-width="0.5" opacity="0.7"/>
<line x1="192.60" y1="603.30" x2="195.70" y2="603.30" stroke="#22272a" stroke-width="0.5" opacity="0.7"/>
<line x1="192.60" y1="604.60" x2="195.70" y2="604.60" stroke="#22272a" stroke-width="0.5" opacity="0.7"/>
<line x1="192.60" y1="605.90" x2="195.70" y2="605.90" stroke="#22272a" stroke-width="0.5" opacity="0.7"/>
<line x1="191.00" y1="607.20" x2="195.70" y2="607.20" stroke="#22272a" stroke-width="0.5" opacity="0.7"/>
<line x1="192.60" y1="608.50" x2="195.70" y2="608.50" stroke="#22272a" stroke-width="0.5" opacity="0.7"/>
<line x1="192.60" y1="609.80" x2="195.70" y2="609.80" stroke="#22272a" stroke-width="0.5" opacity="0.7"/>
<line x1="192.60" y1="611.10" x2="195.70" y2="611.10" stroke="#22272a" stroke-width="0.5" opacity="0.7"/>
<line x1="192.60" y1="612.40" x2="195.70" y2="612.40" stroke="#22272a" stroke-width="0.5" opacity="0.7"/>
<line x1="189.50" y1="613.70" x2="195.70" y2="613.70" stroke="#22272a" stroke-width="0.5" opacity="0.7"/>
<line x1="192.60" y1="615.00" x2="195.70" y2="615.00" stroke="#22272a" stroke-width="0.5" opacity="0.7"/>
<line x1="192.60" y1="616.30" x2="195.70" y2="616.30" stroke="#22272a" stroke-width="0.5" opacity="0.7"/>
<line x1="192.60" y1="617.60" x2="195.70" y2="617.60" stroke="#22272a" stroke-width="0.5" opacity="0.7"/>
<line x1="192.60" y1="618.90" x2="195.70" y2="618.90" stroke="#22272a" stroke-width="0.5" opacity="0.7"/>
<line x1="191.00" y1="620.20" x2="195.70" y2="620.20" stroke="#22272a" stroke-width="0.5" opacity="0.7"/>
<line x1="192.60" y1="621.50" x2="195.70" y2="621.50" stroke="#22272a" stroke-width="0.5" opacity="0.7"/>
<line x1="192.60" y1="622.80" x2="195.70" y2="622.80" stroke="#22272a" stroke-width="0.5" opacity="0.7"/>
<line x1="192.60" y1="624.10" x2="195.70" y2="624.10" stroke="#22272a" stroke-width="0.5" opacity="0.7"/>
<line x1="192.60" y1="625.40" x2="195.70" y2="625.40" stroke="#22272a" stroke-width="0.5" opacity="0.7"/>
<line x1="189.50" y1="626.70" x2="195.70" y2="626.70" stroke="#22272a" stroke-width="0.5" opacity="0.7"/>
<text x="170.90" y="588.50" font-size="10.0" fill="#15191c" text-anchor="middle" transform="rotate(90 170.90 588.50)">1</text>
<text x="169.20" y="617.00" font-size="10.0" fill="#15191c" text-anchor="middle" transform="rotate(90 169.20 617.00)">2</text>
</g>
<rect x="195.50" y="568.00" width="22.20" height="27.00" fill="none" stroke="#0c0c0c" stroke-width="1.3"/>
<clipPath id="pc6"><rect x="165.90" y="631.60" width="52.80" height="37.40"/></clipPath>
<g clip-path="url(#pc6)">
<rect x="165.90" y="631.60" width="52.80" height="37.40" fill="#d8c8cc"/>
<ellipse cx="207.00" cy="650.00" rx="14.00" ry="24.00" fill="#8e3a48" opacity="1.0" filter="url(#bl1)" transform="rotate(0 207.00 650.00)"/>
<ellipse cx="208.00" cy="650.00" rx="3.00" ry="16.00" fill="#e8dce6" opacity="0.9" filter="url(#bl1)" transform="rotate(0 208.00 650.00)"/>
<ellipse cx="204.00" cy="656.00" rx="3.00" ry="6.00" fill="#8070b0" opacity="0.6" filter="url(#bl1)" transform="rotate(0 204.00 656.00)"/>
<linearGradient id="rg6" x1="0" y1="0" x2="1" y2="0"><stop offset="0" stop-color="#4c5557"/><stop offset="0.55" stop-color="#5e6665"/><stop offset="1" stop-color="#4c5557"/></linearGradient>
<rect x="164.90" y="631.60" width="30.60" height="38.40" fill="url(#rg6)"/>
<line x1="189.00" y1="633.60" x2="195.20" y2="633.60" stroke="#22272a" stroke-width="0.5" opacity="0.7"/>
<line x1="192.10" y1="634.90" x2="195.20" y2="634.90" stroke="#22272a" stroke-width="0.5" opacity="0.7"/>
<line x1="192.10" y1="636.20" x2="195.20" y2="636.20" stroke="#22272a" stroke-width="0.5" opacity="0.7"/>
<line x1="192.10" y1="637.50" x2="195.20" y2="637.50" stroke="#22272a" stroke-width="0.5" opacity="0.7"/>
<line x1="192.10" y1="638.80" x2="195.20" y2="638.80" stroke="#22272a" stroke-width="0.5" opacity="0.7"/>
<line x1="190.50" y1="640.10" x2="195.20" y2="640.10" stroke="#22272a" stroke-width="0.5" opacity="0.7"/>
<line x1="192.10" y1="641.40" x2="195.20" y2="641.40" stroke="#22272a" stroke-width="0.5" opacity="0.7"/>
<line x1="192.10" y1="642.70" x2="195.20" y2="642.70" stroke="#22272a" stroke-width="0.5" opacity="0.7"/>
<line x1="192.10" y1="644.00" x2="195.20" y2="644.00" stroke="#22272a" stroke-width="0.5" opacity="0.7"/>
<line x1="192.10" y1="645.30" x2="195.20" y2="645.30" stroke="#22272a" stroke-width="0.5" opacity="0.7"/>
<line x1="189.00" y1="646.60" x2="195.20" y2="646.60" stroke="#22272a" stroke-width="0.5" opacity="0.7"/>
<line x1="192.10" y1="647.90" x2="195.20" y2="647.90" stroke="#22272a" stroke-width="0.5" opacity="0.7"/>
<line x1="192.10" y1="649.20" x2="195.20" y2="649.20" stroke="#22272a" stroke-width="0.5" opacity="0.7"/>
<line x1="192.10" y1="650.50" x2="195.20" y2="650.50" stroke="#22272a" stroke-width="0.5" opacity="0.7"/>
<line x1="192.10" y1="651.80" x2="195.20" y2="651.80" stroke="#22272a" stroke-width="0.5" opacity="0.7"/>
<line x1="190.50" y1="653.10" x2="195.20" y2="653.10" stroke="#22272a" stroke-width="0.5" opacity="0.7"/>
<line x1="192.10" y1="654.40" x2="195.20" y2="654.40" stroke="#22272a" stroke-width="0.5" opacity="0.7"/>
<line x1="192.10" y1="655.70" x2="195.20" y2="655.70" stroke="#22272a" stroke-width="0.5" opacity="0.7"/>
<line x1="192.10" y1="657.00" x2="195.20" y2="657.00" stroke="#22272a" stroke-width="0.5" opacity="0.7"/>
<line x1="192.10" y1="658.30" x2="195.20" y2="658.30" stroke="#22272a" stroke-width="0.5" opacity="0.7"/>
<line x1="189.00" y1="659.60" x2="195.20" y2="659.60" stroke="#22272a" stroke-width="0.5" opacity="0.7"/>
<line x1="192.10" y1="660.90" x2="195.20" y2="660.90" stroke="#22272a" stroke-width="0.5" opacity="0.7"/>
<line x1="192.10" y1="662.20" x2="195.20" y2="662.20" stroke="#22272a" stroke-width="0.5" opacity="0.7"/>
<line x1="192.10" y1="663.50" x2="195.20" y2="663.50" stroke="#22272a" stroke-width="0.5" opacity="0.7"/>
<line x1="192.10" y1="664.80" x2="195.20" y2="664.80" stroke="#22272a" stroke-width="0.5" opacity="0.7"/>
<line x1="190.50" y1="666.10" x2="195.20" y2="666.10" stroke="#22272a" stroke-width="0.5" opacity="0.7"/>
<line x1="192.10" y1="667.40" x2="195.20" y2="667.40" stroke="#22272a" stroke-width="0.5" opacity="0.7"/>
<line x1="192.10" y1="668.70" x2="195.20" y2="668.70" stroke="#22272a" stroke-width="0.5" opacity="0.7"/>
<text x="165.30" y="660.20" font-size="10.0" fill="#15191c" text-anchor="middle" transform="rotate(90 165.30 660.20)">1</text>
</g>
<ellipse cx="208.30" cy="656.30" rx="10.80" ry="9.90" fill="none" stroke="#0c0c0c" stroke-width="1.3"/>
<line x1="195.50" y1="595.00" x2="198.50" y2="654.30" stroke="#333" stroke-width="0.55"/>
<line x1="217.70" y1="595.00" x2="218.60" y2="654.30" stroke="#333" stroke-width="0.55"/>
<linearGradient id="vg4" x1="0" y1="0" x2="0" y2="1"><stop offset="0" stop-color="#8e6474"/><stop offset="0.4" stop-color="#7c5868"/><stop offset="1" stop-color="#6e5262"/></linearGradient>
<clipPath id="pc7"><rect x="237.30" y="543.50" width="53.40" height="83.20"/></clipPath>
<g clip-path="url(#pc7)">
<rect x="237.30" y="543.50" width="53.40" height="83.20" fill="#e2dfdb"/>
<ellipse cx="285.00" cy="622.00" rx="10.00" ry="6.00" fill="#2d8c80" opacity="0.9" filter="url(#bl2)" transform="rotate(0 285.00 622.00)"/>
<ellipse cx="289.00" cy="595.00" rx="3.00" ry="10.00" fill="#c06060" opacity="0.4" filter="url(#bl2)" transform="rotate(0 289.00 595.00)"/>
<path d="M274.50,548.00 C296.25,562.04 292.48,610.40 274.50,626.00 C256.52,610.40 252.75,562.04 274.50,548.00Z" fill="url(#vg4)" opacity="1.0" filter="url(#bl1)"/>
<path d="M275.00,560.00 C287.00,569.36 284.92,601.60 275.00,612.00 C265.08,601.60 263.00,569.36 275.00,560.00Z" fill="#866474" opacity="0.6" filter="url(#bl1)"/>
<path d="M272.0,562.0 L277.0,562.0 L280.0,585.0 L276.0,592.0 L271.0,585.0Z" fill="#ece4f0" opacity="0.95" filter="url(#bl1)"/>
<ellipse cx="276.00" cy="600.00" rx="3.00" ry="6.00" fill="#b090b0" opacity="0.5" filter="url(#bl1)" transform="rotate(0 276.00 600.00)"/>
<linearGradient id="rg7" x1="0" y1="0" x2="1" y2="0"><stop offset="0" stop-color="#4e585b"/><stop offset="0.55" stop-color="#606868"/><stop offset="1" stop-color="#4e585b"/></linearGradient>
<rect x="236.30" y="559.70" width="25.20" height="68.00" fill="url(#rg7)"/>
<line x1="255.00" y1="561.70" x2="261.20" y2="561.70" stroke="#22272a" stroke-width="0.5" opacity="0.7"/>
<line x1="258.10" y1="563.00" x2="261.20" y2="563.00" stroke="#22272a" stroke-width="0.5" opacity="0.7"/>
<line x1="258.10" y1="564.30" x2="261.20" y2="564.30" stroke="#22272a" stroke-width="0.5" opacity="0.7"/>
<line x1="258.10" y1="565.60" x2="261.20" y2="565.60" stroke="#22272a" stroke-width="0.5" opacity="0.7"/>
<line x1="258.10" y1="566.90" x2="261.20" y2="566.90" stroke="#22272a" stroke-width="0.5" opacity="0.7"/>
<line x1="256.50" y1="568.20" x2="261.20" y2="568.20" stroke="#22272a" stroke-width="0.5" opacity="0.7"/>
<line x1="258.10" y1="569.50" x2="261.20" y2="569.50" stroke="#22272a" stroke-width="0.5" opacity="0.7"/>
<line x1="258.10" y1="570.80" x2="261.20" y2="570.80" stroke="#22272a" stroke-width="0.5" opacity="0.7"/>
<line x1="258.10" y1="572.10" x2="261.20" y2="572.10" stroke="#22272a" stroke-width="0.5" opacity="0.7"/>
<line x1="258.10" y1="573.40" x2="261.20" y2="573.40" stroke="#22272a" stroke-width="0.5" opacity="0.7"/>
<line x1="255.00" y1="574.70" x2="261.20" y2="574.70" stroke="#22272a" stroke-width="0.5" opacity="0.7"/>
<line x1="258.10" y1="576.00" x2="261.20" y2="576.00" stroke="#22272a" stroke-width="0.5" opacity="0.7"/>
<line x1="258.10" y1="577.30" x2="261.20" y2="577.30" stroke="#22272a" stroke-width="0.5" opacity="0.7"/>
<line x1="258.10" y1="578.60" x2="261.20" y2="578.60" stroke="#22272a" stroke-width="0.5" opacity="0.7"/>
<line x1="258.10" y1="579.90" x2="261.20" y2="579.90" stroke="#22272a" stroke-width="0.5" opacity="0.7"/>
<line x1="256.50" y1="581.20" x2="261.20" y2="581.20" stroke="#22272a" stroke-width="0.5" opacity="0.7"/>
<line x1="258.10" y1="582.50" x2="261.20" y2="582.50" stroke="#22272a" stroke-width="0.5" opacity="0.7"/>
<line x1="258.10" y1="583.80" x2="261.20" y2="583.80" stroke="#22272a" stroke-width="0.5" opacity="0.7"/>
<line x1="258.10" y1="585.10" x2="261.20" y2="585.10" stroke="#22272a" stroke-width="0.5" opacity="0.7"/>
<line x1="258.10" y1="586.40" x2="261.20" y2="586.40" stroke="#22272a" stroke-width="0.5" opacity="0.7"/>
<line x1="255.00" y1="587.70" x2="261.20" y2="587.70" stroke="#22272a" stroke-width="0.5" opacity="0.7"/>
<line x1="258.10" y1="589.00" x2="261.20" y2="589.00" stroke="#22272a" stroke-width="0.5" opacity="0.7"/>
<line x1="258.10" y1="590.30" x2="261.20" y2="590.30" stroke="#22272a" stroke-width="0.5" opacity="0.7"/>
<line x1="258.10" y1="591.60" x2="261.20" y2="591.60" stroke="#22272a" stroke-width="0.5" opacity="0.7"/>
<line x1="258.10" y1="592.90" x2="261.20" y2="592.90" stroke="#22272a" stroke-width="0.5" opacity="0.7"/>
<line x1="256.50" y1="594.20" x2="261.20" y2="594.20" stroke="#22272a" stroke-width="0.5" opacity="0.7"/>
<line x1="258.10" y1="595.50" x2="261.20" y2="595.50" stroke="#22272a" stroke-width="0.5" opacity="0.7"/>
<line x1="258.10" y1="596.80" x2="261.20" y2="596.80" stroke="#22272a" stroke-width="0.5" opacity="0.7"/>
<line x1="258.10" y1="598.10" x2="261.20" y2="598.10" stroke="#22272a" stroke-width="0.5" opacity="0.7"/>
<line x1="258.10" y1="599.40" x2="261.20" y2="599.40" stroke="#22272a" stroke-width="0.5" opacity="0.7"/>
<line x1="255.00" y1="600.70" x2="261.20" y2="600.70" stroke="#22272a" stroke-width="0.5" opacity="0.7"/>
<line x1="258.10" y1="602.00" x2="261.20" y2="602.00" stroke="#22272a" stroke-width="0.5" opacity="0.7"/>
<line x1="258.10" y1="603.30" x2="261.20" y2="603.30" stroke="#22272a" stroke-width="0.5" opacity="0.7"/>
<line x1="258.10" y1="604.60" x2="261.20" y2="604.60" stroke="#22272a" stroke-width="0.5" opacity="0.7"/>
<line x1="258.10" y1="605.90" x2="261.20" y2="605.90" stroke="#22272a" stroke-width="0.5" opacity="0.7"/>
<line x1="256.50" y1="607.20" x2="261.20" y2="607.20" stroke="#22272a" stroke-width="0.5" opacity="0.7"/>
<line x1="258.10" y1="608.50" x2="261.20" y2="608.50" stroke="#22272a" stroke-width="0.5" opacity="0.7"/>
<line x1="258.10" y1="609.80" x2="261.20" y2="609.80" stroke="#22272a" stroke-width="0.5" opacity="0.7"/>
<line x1="258.10" y1="611.10" x2="261.20" y2="611.10" stroke="#22272a" stroke-width="0.5" opacity="0.7"/>
<line x1="258.10" y1="612.40" x2="261.20" y2="612.40" stroke="#22272a" stroke-width="0.5" opacity="0.7"/>
<line x1="255.00" y1="613.70" x2="261.20" y2="613.70" stroke="#22272a" stroke-width="0.5" opacity="0.7"/>
<line x1="258.10" y1="615.00" x2="261.20" y2="615.00" stroke="#22272a" stroke-width="0.5" opacity="0.7"/>
<line x1="258.10" y1="616.30" x2="261.20" y2="616.30" stroke="#22272a" stroke-width="0.5" opacity="0.7"/>
<line x1="258.10" y1="617.60" x2="261.20" y2="617.60" stroke="#22272a" stroke-width="0.5" opacity="0.7"/>
<line x1="258.10" y1="618.90" x2="261.20" y2="618.90" stroke="#22272a" stroke-width="0.5" opacity="0.7"/>
<line x1="256.50" y1="620.20" x2="261.20" y2="620.20" stroke="#22272a" stroke-width="0.5" opacity="0.7"/>
<line x1="258.10" y1="621.50" x2="261.20" y2="621.50" stroke="#22272a" stroke-width="0.5" opacity="0.7"/>
<line x1="258.10" y1="622.80" x2="261.20" y2="622.80" stroke="#22272a" stroke-width="0.5" opacity="0.7"/>
<line x1="258.10" y1="624.10" x2="261.20" y2="624.10" stroke="#22272a" stroke-width="0.5" opacity="0.7"/>
<line x1="258.10" y1="625.40" x2="261.20" y2="625.40" stroke="#22272a" stroke-width="0.5" opacity="0.7"/>
<line x1="255.00" y1="626.70" x2="261.20" y2="626.70" stroke="#22272a" stroke-width="0.5" opacity="0.7"/>
<text x="239.70" y="584.60" font-size="10.0" fill="#15191c" text-anchor="middle" transform="rotate(90 239.70 584.60)">1</text>
<text x="238.90" y="610.50" font-size="10.0" fill="#15191c" text-anchor="middle" transform="rotate(90 238.90 610.50)">2</text>
</g>
<rect x="264.00" y="559.70" width="22.00" height="26.60" fill="none" stroke="#0c0c0c" stroke-width="1.3"/>
<clipPath id="pc8"><rect x="237.30" y="631.60" width="53.40" height="37.40"/></clipPath>
<g clip-path="url(#pc8)">
<rect x="237.30" y="631.60" width="53.40" height="37.40" fill="#d8d0d4"/>
<ellipse cx="278.00" cy="650.00" rx="15.00" ry="24.00" fill="#7a4a60" opacity="1.0" filter="url(#bl1)" transform="rotate(0 278.00 650.00)"/>
<ellipse cx="278.00" cy="652.00" rx="5.00" ry="10.00" fill="#e6e0ee" opacity="0.9" filter="url(#bl1)" transform="rotate(0 278.00 652.00)"/>
<linearGradient id="rg8" x1="0" y1="0" x2="1" y2="0"><stop offset="0" stop-color="#4e585b"/><stop offset="0.55" stop-color="#606868"/><stop offset="1" stop-color="#4e585b"/></linearGradient>
<rect x="236.30" y="631.60" width="30.10" height="38.40" fill="url(#rg8)"/>
<line x1="259.90" y1="633.60" x2="266.10" y2="633.60" stroke="#22272a" stroke-width="0.5" opacity="0.7"/>
<line x1="263.00" y1="634.90" x2="266.10" y2="634.90" stroke="#22272a" stroke-width="0.5" opacity="0.7"/>
<line x1="263.00" y1="636.20" x2="266.10" y2="636.20" stroke="#22272a" stroke-width="0.5" opacity="0.7"/>
<line x1="263.00" y1="637.50" x2="266.10" y2="637.50" stroke="#22272a" stroke-width="0.5" opacity="0.7"/>
<line x1="263.00" y1="638.80" x2="266.10" y2="638.80" stroke="#22272a" stroke-width="0.5" opacity="0.7"/>
<line x1="261.40" y1="640.10" x2="266.10" y2="640.10" stroke="#22272a" stroke-width="0.5" opacity="0.7"/>
<line x1="263.00" y1="641.40" x2="266.10" y2="641.40" stroke="#22272a" stroke-width="0.5" opacity="0.7"/>
<line x1="263.00" y1="642.70" x2="266.10" y2="642.70" stroke="#22272a" stroke-width="0.5" opacity="0.7"/>
<line x1="263.00" y1="644.00" x2="266.10" y2="644.00" stroke="#22272a" stroke-width="0.5" opacity="0.7"/>
<line x1="263.00" y1="645.30" x2="266.10" y2="645.30" stroke="#22272a" stroke-width="0.5" opacity="0.7"/>
<line x1="259.90" y1="646.60" x2="266.10" y2="646.60" stroke="#22272a" stroke-width="0.5" opacity="0.7"/>
<line x1="263.00" y1="647.90" x2="266.10" y2="647.90" stroke="#22272a" stroke-width="0.5" opacity="0.7"/>
<line x1="263.00" y1="649.20" x2="266.10" y2="649.20" stroke="#22272a" stroke-width="0.5" opacity="0.7"/>
<line x1="263.00" y1="650.50" x2="266.10" y2="650.50" stroke="#22272a" stroke-width="0.5" opacity="0.7"/>
<line x1="263.00" y1="651.80" x2="266.10" y2="651.80" stroke="#22272a" stroke-width="0.5" opacity="0.7"/>
<line x1="261.40" y1="653.10" x2="266.10" y2="653.10" stroke="#22272a" stroke-width="0.5" opacity="0.7"/>
<line x1="263.00" y1="654.40" x2="266.10" y2="654.40" stroke="#22272a" stroke-width="0.5" opacity="0.7"/>
<line x1="263.00" y1="655.70" x2="266.10" y2="655.70" stroke="#22272a" stroke-width="0.5" opacity="0.7"/>
<line x1="263.00" y1="657.00" x2="266.10" y2="657.00" stroke="#22272a" stroke-width="0.5" opacity="0.7"/>
<line x1="263.00" y1="658.30" x2="266.10" y2="658.30" stroke="#22272a" stroke-width="0.5" opacity="0.7"/>
<line x1="259.90" y1="659.60" x2="266.10" y2="659.60" stroke="#22272a" stroke-width="0.5" opacity="0.7"/>
<line x1="263.00" y1="660.90" x2="266.10" y2="660.90" stroke="#22272a" stroke-width="0.5" opacity="0.7"/>
<line x1="263.00" y1="662.20" x2="266.10" y2="662.20" stroke="#22272a" stroke-width="0.5" opacity="0.7"/>
<line x1="263.00" y1="663.50" x2="266.10" y2="663.50" stroke="#22272a" stroke-width="0.5" opacity="0.7"/>
<line x1="263.00" y1="664.80" x2="266.10" y2="664.80" stroke="#22272a" stroke-width="0.5" opacity="0.7"/>
<line x1="261.40" y1="666.10" x2="266.10" y2="666.10" stroke="#22272a" stroke-width="0.5" opacity="0.7"/>
<line x1="263.00" y1="667.40" x2="266.10" y2="667.40" stroke="#22272a" stroke-width="0.5" opacity="0.7"/>
<line x1="263.00" y1="668.70" x2="266.10" y2="668.70" stroke="#22272a" stroke-width="0.5" opacity="0.7"/>
<text x="239.20" y="661.20" font-size="10.0" fill="#15191c" text-anchor="middle" transform="rotate(90 239.20 661.20)">1</text>
</g>
<ellipse cx="278.20" cy="653.30" rx="12.20" ry="11.20" fill="none" stroke="#0c0c0c" stroke-width="1.3"/>
<line x1="264.00" y1="586.30" x2="267.00" y2="651.30" stroke="#333" stroke-width="0.55"/>
<line x1="286.00" y1="586.30" x2="289.90" y2="651.30" stroke="#333" stroke-width="0.55"/>
<linearGradient id="vg5" x1="0" y1="0" x2="0" y2="1"><stop offset="0" stop-color="#caa8b8"/><stop offset="0.5" stop-color="#c2a0b0"/><stop offset="1" stop-color="#b89aaa"/></linearGradient>
<clipPath id="pc9"><rect x="22.80" y="721.40" width="53.60" height="83.90"/></clipPath>
<g clip-path="url(#pc9)">
<rect x="22.80" y="721.40" width="53.60" height="83.90" fill="#e8e6e4"/>
<ellipse cx="30.00" cy="728.00" rx="14.00" ry="12.00" fill="#2e6290" opacity="0.95" filter="url(#bl2)" transform="rotate(0 30.00 728.00)"/>
<ellipse cx="40.00" cy="735.00" rx="8.00" ry="6.00" fill="#9ab8cc" opacity="0.8" filter="url(#bl2)" transform="rotate(0 40.00 735.00)"/>
<ellipse cx="75.00" cy="802.00" rx="5.00" ry="5.00" fill="#4a80a0" opacity="0.8" filter="url(#bl2)" transform="rotate(0 75.00 802.00)"/>
<path d="M62.00,719.00 C81.50,734.84 78.12,789.40 62.00,807.00 C45.88,789.40 42.50,734.84 62.00,719.00Z" fill="url(#vg5)" opacity="1.0" filter="url(#bl1)"/>
<path d="M62.00,735.00 C71.00,745.80 69.44,783.00 62.00,795.00 C54.56,783.00 53.00,745.80 62.00,735.00Z" fill="#d0b4c0" opacity="0.6" filter="url(#bl1)"/>
<ellipse cx="61.50" cy="761.00" rx="8.00" ry="10.00" fill="#c8a682" opacity="0.95" filter="url(#bl1)" transform="rotate(0 61.50 761.00)"/>
<ellipse cx="60.00" cy="748.00" rx="4.00" ry="3.00" fill="#f0e8ec" opacity="0.8" filter="url(#bl1)" transform="rotate(0 60.00 748.00)"/>
<linearGradient id="rg9" x1="0" y1="0" x2="1" y2="0"><stop offset="0" stop-color="#76848c"/><stop offset="0.55" stop-color="#8a969c"/><stop offset="1" stop-color="#76848c"/></linearGradient>
<rect x="21.80" y="743.00" width="29.50" height="63.30" fill="url(#rg9)"/>
<line x1="44.80" y1="745.00" x2="51.00" y2="745.00" stroke="#22272a" stroke-width="0.5" opacity="0.7"/>
<line x1="47.90" y1="746.30" x2="51.00" y2="746.30" stroke="#22272a" stroke-width="0.5" opacity="0.7"/>
<line x1="47.90" y1="747.60" x2="51.00" y2="747.60" stroke="#22272a" stroke-width="0.5" opacity="0.7"/>
<line x1="47.90" y1="748.90" x2="51.00" y2="748.90" stroke="#22272a" stroke-width="0.5" opacity="0.7"/>
<line x1="47.90" y1="750.20" x2="51.00" y2="750.20" stroke="#22272a" stroke-width="0.5" opacity="0.7"/>
<line x1="46.30" y1="751.50" x2="51.00" y2="751.50" stroke="#22272a" stroke-width="0.5" opacity="0.7"/>
<line x1="47.90" y1="752.80" x2="51.00" y2="752.80" stroke="#22272a" stroke-width="0.5" opacity="0.7"/>
<line x1="47.90" y1="754.10" x2="51.00" y2="754.10" stroke="#22272a" stroke-width="0.5" opacity="0.7"/>
<line x1="47.90" y1="755.40" x2="51.00" y2="755.40" stroke="#22272a" stroke-width="0.5" opacity="0.7"/>
<line x1="47.90" y1="756.70" x2="51.00" y2="756.70" stroke="#22272a" stroke-width="0.5" opacity="0.7"/>
<line x1="44.80" y1="758.00" x2="51.00" y2="758.00" stroke="#22272a" stroke-width="0.5" opacity="0.7"/>
<line x1="47.90" y1="759.30" x2="51.00" y2="759.30" stroke="#22272a" stroke-width="0.5" opacity="0.7"/>
<line x1="47.90" y1="760.60" x2="51.00" y2="760.60" stroke="#22272a" stroke-width="0.5" opacity="0.7"/>
<line x1="47.90" y1="761.90" x2="51.00" y2="761.90" stroke="#22272a" stroke-width="0.5" opacity="0.7"/>
<line x1="47.90" y1="763.20" x2="51.00" y2="763.20" stroke="#22272a" stroke-width="0.5" opacity="0.7"/>
<line x1="46.30" y1="764.50" x2="51.00" y2="764.50" stroke="#22272a" stroke-width="0.5" opacity="0.7"/>
<line x1="47.90" y1="765.80" x2="51.00" y2="765.80" stroke="#22272a" stroke-width="0.5" opacity="0.7"/>
<line x1="47.90" y1="767.10" x2="51.00" y2="767.10" stroke="#22272a" stroke-width="0.5" opacity="0.7"/>
<line x1="47.90" y1="768.40" x2="51.00" y2="768.40" stroke="#22272a" stroke-width="0.5" opacity="0.7"/>
<line x1="47.90" y1="769.70" x2="51.00" y2="769.70" stroke="#22272a" stroke-width="0.5" opacity="0.7"/>
<line x1="44.80" y1="771.00" x2="51.00" y2="771.00" stroke="#22272a" stroke-width="0.5" opacity="0.7"/>
<line x1="47.90" y1="772.30" x2="51.00" y2="772.30" stroke="#22272a" stroke-width="0.5" opacity="0.7"/>
<line x1="47.90" y1="773.60" x2="51.00" y2="773.60" stroke="#22272a" stroke-width="0.5" opacity="0.7"/>
<line x1="47.90" y1="774.90" x2="51.00" y2="774.90" stroke="#22272a" stroke-width="0.5" opacity="0.7"/>
<line x1="47.90" y1="776.20" x2="51.00" y2="776.20" stroke="#22272a" stroke-width="0.5" opacity="0.7"/>
<line x1="46.30" y1="777.50" x2="51.00" y2="777.50" stroke="#22272a" stroke-width="0.5" opacity="0.7"/>
<line x1="47.90" y1="778.80" x2="51.00" y2="778.80" stroke="#22272a" stroke-width="0.5" opacity="0.7"/>
<line x1="47.90" y1="780.10" x2="51.00" y2="780.10" stroke="#22272a" stroke-width="0.5" opacity="0.7"/>
<line x1="47.90" y1="781.40" x2="51.00" y2="781.40" stroke="#22272a" stroke-width="0.5" opacity="0.7"/>
<line x1="47.90" y1="782.70" x2="51.00" y2="782.70" stroke="#22272a" stroke-width="0.5" opacity="0.7"/>
<line x1="44.80" y1="784.00" x2="51.00" y2="784.00" stroke="#22272a" stroke-width="0.5" opacity="0.7"/>
<line x1="47.90" y1="785.30" x2="51.00" y2="785.30" stroke="#22272a" stroke-width="0.5" opacity="0.7"/>
<line x1="47.90" y1="786.60" x2="51.00" y2="786.60" stroke="#22272a" stroke-width="0.5" opacity="0.7"/>
<line x1="47.90" y1="787.90" x2="51.00" y2="787.90" stroke="#22272a" stroke-width="0.5" opacity="0.7"/>
<line x1="47.90" y1="789.20" x2="51.00" y2="789.20" stroke="#22272a" stroke-width="0.5" opacity="0.7"/>
<line x1="46.30" y1="790.50" x2="51.00" y2="790.50" stroke="#22272a" stroke-width="0.5" opacity="0.7"/>
<line x1="47.90" y1="791.80" x2="51.00" y2="791.80" stroke="#22272a" stroke-width="0.5" opacity="0.7"/>
<line x1="47.90" y1="793.10" x2="51.00" y2="793.10" stroke="#22272a" stroke-width="0.5" opacity="0.7"/>
<line x1="47.90" y1="794.40" x2="51.00" y2="794.40" stroke="#22272a" stroke-width="0.5" opacity="0.7"/>
<line x1="47.90" y1="795.70" x2="51.00" y2="795.70" stroke="#22272a" stroke-width="0.5" opacity="0.7"/>
<line x1="44.80" y1="797.00" x2="51.00" y2="797.00" stroke="#22272a" stroke-width="0.5" opacity="0.7"/>
<line x1="47.90" y1="798.30" x2="51.00" y2="798.30" stroke="#22272a" stroke-width="0.5" opacity="0.7"/>
<line x1="47.90" y1="799.60" x2="51.00" y2="799.60" stroke="#22272a" stroke-width="0.5" opacity="0.7"/>
<line x1="47.90" y1="800.90" x2="51.00" y2="800.90" stroke="#22272a" stroke-width="0.5" opacity="0.7"/>
<line x1="47.90" y1="802.20" x2="51.00" y2="802.20" stroke="#22272a" stroke-width="0.5" opacity="0.7"/>
<line x1="46.30" y1="803.50" x2="51.00" y2="803.50" stroke="#22272a" stroke-width="0.5" opacity="0.7"/>
<line x1="47.90" y1="804.80" x2="51.00" y2="804.80" stroke="#22272a" stroke-width="0.5" opacity="0.7"/>
<text x="26.80" y="770.20" font-size="10.0" fill="#15191c" text-anchor="middle" transform="rotate(90 26.80 770.20)">1</text>
<text x="25.90" y="797.70" font-size="10.0" fill="#15191c" text-anchor="middle" transform="rotate(90 25.90 797.70)">2</text>
</g>
<rect x="51.30" y="747.00" width="23.70" height="27.00" fill="none" stroke="#0c0c0c" stroke-width="1.3"/>
<clipPath id="pc10"><rect x="22.80" y="810.00" width="53.60" height="37.00"/></clipPath>
<g clip-path="url(#pc10)">
<rect x="22.80" y="810.00" width="53.60" height="37.00" fill="#dccad0"/>
<ellipse cx="63.00" cy="830.00" rx="16.00" ry="24.00" fill="#c8a0b0" opacity="1.0" filter="url(#bl1)" transform="rotate(0 63.00 830.00)"/>
<ellipse cx="62.00" cy="835.00" rx="12.00" ry="11.00" fill="#cca888" opacity="1.0" filter="url(#bl1)" transform="rotate(0 62.00 835.00)"/>
<linearGradient id="rg10" x1="0" y1="0" x2="1" y2="0"><stop offset="0" stop-color="#74828a"/><stop offset="0.55" stop-color="#889499"/><stop offset="1" stop-color="#74828a"/></linearGradient>
<rect x="21.80" y="810.00" width="27.60" height="38.00" fill="url(#rg10)"/>
<line x1="42.90" y1="812.00" x2="49.10" y2="812.00" stroke="#22272a" stroke-width="0.5" opacity="0.7"/>
<line x1="46.00" y1="813.30" x2="49.10" y2="813.30" stroke="#22272a" stroke-width="0.5" opacity="0.7"/>
<line x1="46.00" y1="814.60" x2="49.10" y2="814.60" stroke="#22272a" stroke-width="0.5" opacity="0.7"/>
<line x1="46.00" y1="815.90" x2="49.10" y2="815.90" stroke="#22272a" stroke-width="0.5" opacity="0.7"/>
<line x1="46.00" y1="817.20" x2="49.10" y2="817.20" stroke="#22272a" stroke-width="0.5" opacity="0.7"/>
<line x1="44.40" y1="818.50" x2="49.10" y2="818.50" stroke="#22272a" stroke-width="0.5" opacity="0.7"/>
<line x1="46.00" y1="819.80" x2="49.10" y2="819.80" stroke="#22272a" stroke-width="0.5" opacity="0.7"/>
<line x1="46.00" y1="821.10" x2="49.10" y2="821.10" stroke="#22272a" stroke-width="0.5" opacity="0.7"/>
<line x1="46.00" y1="822.40" x2="49.10" y2="822.40" stroke="#22272a" stroke-width="0.5" opacity="0.7"/>
<line x1="46.00" y1="823.70" x2="49.10" y2="823.70" stroke="#22272a" stroke-width="0.5" opacity="0.7"/>
<line x1="42.90" y1="825.00" x2="49.10" y2="825.00" stroke="#22272a" stroke-width="0.5" opacity="0.7"/>
<line x1="46.00" y1="826.30" x2="49.10" y2="826.30" stroke="#22272a" stroke-width="0.5" opacity="0.7"/>
<line x1="46.00" y1="827.60" x2="49.10" y2="827.60" stroke="#22272a" stroke-width="0.5" opacity="0.7"/>
<line x1="46.00" y1="828.90" x2="49.10" y2="828.90" stroke="#22272a" stroke-width="0.5" opacity="0.7"/>
<line x1="46.00" y1="830.20" x2="49.10" y2="830.20" stroke="#22272a" stroke-width="0.5" opacity="0.7"/>
<line x1="44.40" y1="831.50" x2="49.10" y2="831.50" stroke="#22272a" stroke-width="0.5" opacity="0.7"/>
<line x1="46.00" y1="832.80" x2="49.10" y2="832.80" stroke="#22272a" stroke-width="0.5" opacity="0.7"/>
<line x1="46.00" y1="834.10" x2="49.10" y2="834.10" stroke="#22272a" stroke-width="0.5" opacity="0.7"/>
<line x1="46.00" y1="835.40" x2="49.10" y2="835.40" stroke="#22272a" stroke-width="0.5" opacity="0.7"/>
<line x1="46.00" y1="836.70" x2="49.10" y2="836.70" stroke="#22272a" stroke-width="0.5" opacity="0.7"/>
<line x1="42.90" y1="838.00" x2="49.10" y2="838.00" stroke="#22272a" stroke-width="0.5" opacity="0.7"/>
<line x1="46.00" y1="839.30" x2="49.10" y2="839.30" stroke="#22272a" stroke-width="0.5" opacity="0.7"/>
<line x1="46.00" y1="840.60" x2="49.10" y2="840.60" stroke="#22272a" stroke-width="0.5" opacity="0.7"/>
<line x1="46.00" y1="841.90" x2="49.10" y2="841.90" stroke="#22272a" stroke-width="0.5" opacity="0.7"/>
<line x1="46.00" y1="843.20" x2="49.10" y2="843.20" stroke="#22272a" stroke-width="0.5" opacity="0.7"/>
<line x1="44.40" y1="844.50" x2="49.10" y2="844.50" stroke="#22272a" stroke-width="0.5" opacity="0.7"/>
<line x1="46.00" y1="845.80" x2="49.10" y2="845.80" stroke="#22272a" stroke-width="0.5" opacity="0.7"/>
<text x="24.90" y="845.50" font-size="10.0" fill="#15191c" text-anchor="middle" transform="rotate(90 24.90 845.50)">1</text>
</g>
<ellipse cx="62.10" cy="834.10" rx="14.20" ry="11.40" fill="none" stroke="#0c0c0c" stroke-width="1.3"/>
<line x1="51.30" y1="774.00" x2="48.90" y2="832.10" stroke="#333" stroke-width="0.55"/>
<line x1="75.00" y1="774.00" x2="75.80" y2="832.10" stroke="#333" stroke-width="0.55"/>
<linearGradient id="vg6" x1="0" y1="0" x2="0" y2="1"><stop offset="0" stop-color="#b498aa"/><stop offset="0.4" stop-color="#9a7a8e"/><stop offset="1" stop-color="#886a7e"/></linearGradient>
<clipPath id="pc11"><rect x="94.60" y="721.40" width="52.90" height="83.90"/></clipPath>
<g clip-path="url(#pc11)">
<rect x="94.60" y="721.40" width="52.90" height="83.90" fill="#e6e4e4"/>
<ellipse cx="100.00" cy="726.00" rx="10.00" ry="8.00" fill="#2e6a96" opacity="0.95" filter="url(#bl2)" transform="rotate(0 100.00 726.00)"/>
<ellipse cx="147.00" cy="800.00" rx="4.00" ry="8.00" fill="#3a7aa0" opacity="0.7" filter="url(#bl2)" transform="rotate(0 147.00 800.00)"/>
<path d="M133.00,720.00 C154.00,735.66 150.36,789.60 133.00,807.00 C115.64,789.60 112.00,735.66 133.00,720.00Z" fill="url(#vg6)" opacity="1.0" filter="url(#bl1)"/>
<path d="M133.00,745.00 C145.00,754.90 142.92,789.00 133.00,800.00 C123.08,789.00 121.00,754.90 133.00,745.00Z" fill="#8a6a80" opacity="0.5" filter="url(#bl1)"/>
<ellipse cx="133.00" cy="750.00" rx="9.00" ry="11.00" fill="#d8c0c8" opacity="0.95" filter="url(#bl1)" transform="rotate(0 133.00 750.00)"/>
<ellipse cx="133.00" cy="748.00" rx="3.00" ry="5.00" fill="#f4ecf0" opacity="0.9" filter="url(#bl1)" transform="rotate(0 133.00 748.00)"/>
<ellipse cx="136.00" cy="757.00" rx="2.00" ry="2.00" fill="#d08060" opacity="0.6" filter="url(#bl1)" transform="rotate(0 136.00 757.00)"/>
<linearGradient id="rg11" x1="0" y1="0" x2="1" y2="0"><stop offset="0" stop-color="#485e6c"/><stop offset="0.55" stop-color="#5a707c"/><stop offset="1" stop-color="#485e6c"/></linearGradient>
<rect x="93.60" y="732.80" width="28.90" height="73.50" fill="url(#rg11)"/>
<line x1="116.00" y1="734.80" x2="122.20" y2="734.80" stroke="#22272a" stroke-width="0.5" opacity="0.7"/>
<line x1="119.10" y1="736.10" x2="122.20" y2="736.10" stroke="#22272a" stroke-width="0.5" opacity="0.7"/>
<line x1="119.10" y1="737.40" x2="122.20" y2="737.40" stroke="#22272a" stroke-width="0.5" opacity="0.7"/>
<line x1="119.10" y1="738.70" x2="122.20" y2="738.70" stroke="#22272a" stroke-width="0.5" opacity="0.7"/>
<line x1="119.10" y1="740.00" x2="122.20" y2="740.00" stroke="#22272a" stroke-width="0.5" opacity="0.7"/>
<line x1="117.50" y1="741.30" x2="122.20" y2="741.30" stroke="#22272a" stroke-width="0.5" opacity="0.7"/>
<line x1="119.10" y1="742.60" x2="122.20" y2="742.60" stroke="#22272a" stroke-width="0.5" opacity="0.7"/>
<line x1="119.10" y1="743.90" x2="122.20" y2="743.90" stroke="#22272a" stroke-width="0.5" opacity="0.7"/>
<line x1="119.10" y1="745.20" x2="122.20" y2="745.20" stroke="#22272a" stroke-width="0.5" opacity="0.7"/>
<line x1="119.10" y1="746.50" x2="122.20" y2="746.50" stroke="#22272a" stroke-width="0.5" opacity="0.7"/>
<line x1="116.00" y1="747.80" x2="122.20" y2="747.80" stroke="#22272a" stroke-width="0.5" opacity="0.7"/>
<line x1="119.10" y1="749.10" x2="122.20" y2="749.10" stroke="#22272a" stroke-width="0.5" opacity="0.7"/>
<line x1="119.10" y1="750.40" x2="122.20" y2="750.40" stroke="#22272a" stroke-width="0.5" opacity="0.7"/>
<line x1="119.10" y1="751.70" x2="122.20" y2="751.70" stroke="#22272a" stroke-width="0.5" opacity="0.7"/>
<line x1="119.10" y1="753.00" x2="122.20" y2="753.00" stroke="#22272a" stroke-width="0.5" opacity="0.7"/>
<line x1="117.50" y1="754.30" x2="122.20" y2="754.30" stroke="#22272a" stroke-width="0.5" opacity="0.7"/>
<line x1="119.10" y1="755.60" x2="122.20" y2="755.60" stroke="#22272a" stroke-width="0.5" opacity="0.7"/>
<line x1="119.10" y1="756.90" x2="122.20" y2="756.90" stroke="#22272a" stroke-width="0.5" opacity="0.7"/>
<line x1="119.10" y1="758.20" x2="122.20" y2="758.20" stroke="#22272a" stroke-width="0.5" opacity="0.7"/>
<line x1="119.10" y1="759.50" x2="122.20" y2="759.50" stroke="#22272a" stroke-width="0.5" opacity="0.7"/>
<line x1="116.00" y1="760.80" x2="122.20" y2="760.80" stroke="#22272a" stroke-width="0.5" opacity="0.7"/>
<line x1="119.10" y1="762.10" x2="122.20" y2="762.10" stroke="#22272a" stroke-width="0.5" opacity="0.7"/>
<line x1="119.10" y1="763.40" x2="122.20" y2="763.40" stroke="#22272a" stroke-width="0.5" opacity="0.7"/>
<line x1="119.10" y1="764.70" x2="122.20" y2="764.70" stroke="#22272a" stroke-width="0.5" opacity="0.7"/>
<line x1="119.10" y1="766.00" x2="122.20" y2="766.00" stroke="#22272a" stroke-width="0.5" opacity="0.7"/>
<line x1="117.50" y1="767.30" x2="122.20" y2="767.30" stroke="#22272a" stroke-width="0.5" opacity="0.7"/>
<line x1="119.10" y1="768.60" x2="122.20" y2="768.60" stroke="#22272a" stroke-width="0.5" opacity="0.7"/>
<line x1="119.10" y1="769.90" x2="122.20" y2="769.90" stroke="#22272a" stroke-width="0.5" opacity="0.7"/>
<line x1="119.10" y1="771.20" x2="122.20" y2="771.20" stroke="#22272a" stroke-width="0.5" opacity="0.7"/>
<line x1="119.10" y1="772.50" x2="122.20" y2="772.50" stroke="#22272a" stroke-width="0.5" opacity="0.7"/>
<line x1="116.00" y1="773.80" x2="122.20" y2="773.80" stroke="#22272a" stroke-width="0.5" opacity="0.7"/>
<line x1="119.10" y1="775.10" x2="122.20" y2="775.10" stroke="#22272a" stroke-width="0.5" opacity="0.7"/>
<line x1="119.10" y1="776.40" x2="122.20" y2="776.40" stroke="#22272a" stroke-width="0.5" opacity="0.7"/>
<line x1="119.10" y1="777.70" x2="122.20" y2="777.70" stroke="#22272a" stroke-width="0.5" opacity="0.7"/>
<line x1="119.10" y1="779.00" x2="122.20" y2="779.00" stroke="#22272a" stroke-width="0.5" opacity="0.7"/>
<line x1="117.50" y1="780.30" x2="122.20" y2="780.30" stroke="#22272a" stroke-width="0.5" opacity="0.7"/>
<line x1="119.10" y1="781.60" x2="122.20" y2="781.60" stroke="#22272a" stroke-width="0.5" opacity="0.7"/>
<line x1="119.10" y1="782.90" x2="122.20" y2="782.90" stroke="#22272a" stroke-width="0.5" opacity="0.7"/>
<line x1="119.10" y1="784.20" x2="122.20" y2="784.20" stroke="#22272a" stroke-width="0.5" opacity="0.7"/>
<line x1="119.10" y1="785.50" x2="122.20" y2="785.50" stroke="#22272a" stroke-width="0.5" opacity="0.7"/>
<line x1="116.00" y1="786.80" x2="122.20" y2="786.80" stroke="#22272a" stroke-width="0.5" opacity="0.7"/>
<line x1="119.10" y1="788.10" x2="122.20" y2="788.10" stroke="#22272a" stroke-width="0.5" opacity="0.7"/>
<line x1="119.10" y1="789.40" x2="122.20" y2="789.40" stroke="#22272a" stroke-width="0.5" opacity="0.7"/>
<line x1="119.10" y1="790.70" x2="122.20" y2="790.70" stroke="#22272a" stroke-width="0.5" opacity="0.7"/>
<line x1="119.10" y1="792.00" x2="122.20" y2="792.00" stroke="#22272a" stroke-width="0.5" opacity="0.7"/>
<line x1="117.50" y1="793.30" x2="122.20" y2="793.30" stroke="#22272a" stroke-width="0.5" opacity="0.7"/>
<line x1="119.10" y1="794.60" x2="122.20" y2="794.60" stroke="#22272a" stroke-width="0.5" opacity="0.7"/>
<line x1="119.10" y1="795.90" x2="122.20" y2="795.90" stroke="#22272a" stroke-width="0.5" opacity="0.7"/>
<line x1="119.10" y1="797.20" x2="122.20" y2="797.20" stroke="#22272a" stroke-width="0.5" opacity="0.7"/>
<line x1="119.10" y1="798.50" x2="122.20" y2="798.50" stroke="#22272a" stroke-width="0.5" opacity="0.7"/>
<line x1="116.00" y1="799.80" x2="122.20" y2="799.80" stroke="#22272a" stroke-width="0.5" opacity="0.7"/>
<line x1="119.10" y1="801.10" x2="122.20" y2="801.10" stroke="#22272a" stroke-width="0.5" opacity="0.7"/>
<line x1="119.10" y1="802.40" x2="122.20" y2="802.40" stroke="#22272a" stroke-width="0.5" opacity="0.7"/>
<line x1="119.10" y1="803.70" x2="122.20" y2="803.70" stroke="#22272a" stroke-width="0.5" opacity="0.7"/>
<line x1="119.10" y1="805.00" x2="122.20" y2="805.00" stroke="#22272a" stroke-width="0.5" opacity="0.7"/>
<text x="97.00" y="758.80" font-size="10.0" fill="#15191c" text-anchor="middle" transform="rotate(90 97.00 758.80)">1</text>
<text x="96.10" y="781.60" font-size="10.0" fill="#15191c" text-anchor="middle" transform="rotate(90 96.10 781.60)">2</text>
</g>
<rect x="122.50" y="737.00" width="22.20" height="26.50" fill="none" stroke="#0c0c0c" stroke-width="1.3"/>
<clipPath id="pc12"><rect x="94.60" y="810.00" width="52.90" height="37.00"/></clipPath>
<g clip-path="url(#pc12)">
<rect x="94.60" y="810.00" width="52.90" height="37.00" fill="#d8c8d0"/>
<ellipse cx="134.00" cy="828.00" rx="16.00" ry="24.00" fill="#b890a4" opacity="1.0" filter="url(#bl1)" transform="rotate(0 134.00 828.00)"/>
<ellipse cx="133.00" cy="832.00" rx="11.00" ry="10.00" fill="#d0b0bc" opacity="1.0" filter="url(#bl1)" transform="rotate(0 133.00 832.00)"/>
<ellipse cx="130.00" cy="829.00" rx="3.00" ry="3.00" fill="#f0e4ec" opacity="0.8" filter="url(#bl1)" transform="rotate(0 130.00 829.00)"/>
<linearGradient id="rg12" x1="0" y1="0" x2="1" y2="0"><stop offset="0" stop-color="#465c6a"/><stop offset="0.55" stop-color="#586e7a"/><stop offset="1" stop-color="#465c6a"/></linearGradient>
<rect x="93.60" y="810.00" width="29.40" height="38.00" fill="url(#rg12)"/>
<line x1="116.50" y1="812.00" x2="122.70" y2="812.00" stroke="#22272a" stroke-width="0.5" opacity="0.7"/>
<line x1="119.60" y1="813.30" x2="122.70" y2="813.30" stroke="#22272a" stroke-width="0.5" opacity="0.7"/>
<line x1="119.60" y1="814.60" x2="122.70" y2="814.60" stroke="#22272a" stroke-width="0.5" opacity="0.7"/>
<line x1="119.60" y1="815.90" x2="122.70" y2="815.90" stroke="#22272a" stroke-width="0.5" opacity="0.7"/>
<line x1="119.60" y1="817.20" x2="122.70" y2="817.20" stroke="#22272a" stroke-width="0.5" opacity="0.7"/>
<line x1="118.00" y1="818.50" x2="122.70" y2="818.50" stroke="#22272a" stroke-width="0.5" opacity="0.7"/>
<line x1="119.60" y1="819.80" x2="122.70" y2="819.80" stroke="#22272a" stroke-width="0.5" opacity="0.7"/>
<line x1="119.60" y1="821.10" x2="122.70" y2="821.10" stroke="#22272a" stroke-width="0.5" opacity="0.7"/>
<line x1="119.60" y1="822.40" x2="122.70" y2="822.40" stroke="#22272a" stroke-width="0.5" opacity="0.7"/>
<line x1="119.60" y1="823.70" x2="122.70" y2="823.70" stroke="#22272a" stroke-width="0.5" opacity="0.7"/>
<line x1="116.50" y1="825.00" x2="122.70" y2="825.00" stroke="#22272a" stroke-width="0.5" opacity="0.7"/>
<line x1="119.60" y1="826.30" x2="122.70" y2="826.30" stroke="#22272a" stroke-width="0.5" opacity="0.7"/>
<line x1="119.60" y1="827.60" x2="122.70" y2="827.60" stroke="#22272a" stroke-width="0.5" opacity="0.7"/>
<line x1="119.60" y1="828.90" x2="122.70" y2="828.90" stroke="#22272a" stroke-width="0.5" opacity="0.7"/>
<line x1="119.60" y1="830.20" x2="122.70" y2="830.20" stroke="#22272a" stroke-width="0.5" opacity="0.7"/>
<line x1="118.00" y1="831.50" x2="122.70" y2="831.50" stroke="#22272a" stroke-width="0.5" opacity="0.7"/>
<line x1="119.60" y1="832.80" x2="122.70" y2="832.80" stroke="#22272a" stroke-width="0.5" opacity="0.7"/>
<line x1="119.60" y1="834.10" x2="122.70" y2="834.10" stroke="#22272a" stroke-width="0.5" opacity="0.7"/>
<line x1="119.60" y1="835.40" x2="122.70" y2="835.40" stroke="#22272a" stroke-width="0.5" opacity="0.7"/>
<line x1="119.60" y1="836.70" x2="122.70" y2="836.70" stroke="#22272a" stroke-width="0.5" opacity="0.7"/>
<line x1="116.50" y1="838.00" x2="122.70" y2="838.00" stroke="#22272a" stroke-width="0.5" opacity="0.7"/>
<line x1="119.60" y1="839.30" x2="122.70" y2="839.30" stroke="#22272a" stroke-width="0.5" opacity="0.7"/>
<line x1="119.60" y1="840.60" x2="122.70" y2="840.60" stroke="#22272a" stroke-width="0.5" opacity="0.7"/>
<line x1="119.60" y1="841.90" x2="122.70" y2="841.90" stroke="#22272a" stroke-width="0.5" opacity="0.7"/>
<line x1="119.60" y1="843.20" x2="122.70" y2="843.20" stroke="#22272a" stroke-width="0.5" opacity="0.7"/>
<line x1="118.00" y1="844.50" x2="122.70" y2="844.50" stroke="#22272a" stroke-width="0.5" opacity="0.7"/>
<line x1="119.60" y1="845.80" x2="122.70" y2="845.80" stroke="#22272a" stroke-width="0.5" opacity="0.7"/>
<text x="96.10" y="836.60" font-size="10.0" fill="#15191c" text-anchor="middle" transform="rotate(90 96.10 836.60)">1</text>
</g>
<ellipse cx="132.00" cy="831.90" rx="14.00" ry="11.50" fill="none" stroke="#0c0c0c" stroke-width="1.3"/>
<line x1="122.50" y1="763.50" x2="119.00" y2="829.90" stroke="#333" stroke-width="0.55"/>
<line x1="144.70" y1="763.50" x2="145.50" y2="829.90" stroke="#333" stroke-width="0.55"/>
<linearGradient id="vg7" x1="0" y1="0" x2="0" y2="1"><stop offset="0" stop-color="#a84450"/><stop offset="0.4" stop-color="#92485a"/><stop offset="1" stop-color="#8a4a5a"/></linearGradient>
<clipPath id="pc13"><rect x="165.90" y="721.50" width="52.80" height="83.20"/></clipPath>
<g clip-path="url(#pc13)">
<rect x="165.90" y="721.50" width="52.80" height="83.20" fill="#e4e2e2"/>
<ellipse cx="170.00" cy="726.00" rx="8.00" ry="6.00" fill="#3a70a0" opacity="0.8" filter="url(#bl2)" transform="rotate(0 170.00 726.00)"/>
<ellipse cx="215.00" cy="800.00" rx="6.00" ry="6.00" fill="#2a9a90" opacity="0.8" filter="url(#bl2)" transform="rotate(0 215.00 800.00)"/>
<ellipse cx="210.00" cy="728.00" rx="5.00" ry="6.00" fill="#b02828" opacity="0.7" filter="url(#bl2)" transform="rotate(0 210.00 728.00)"/>
<path d="M200.50,720.00 C222.25,735.84 218.48,790.40 200.50,808.00 C182.52,790.40 178.75,735.84 200.50,720.00Z" fill="url(#vg7)" opacity="1.0" filter="url(#bl1)"/>
<path d="M200.00,740.00 C210.50,749.90 208.68,784.00 200.00,795.00 C191.32,784.00 189.50,749.90 200.00,740.00Z" fill="#9a5a6c" opacity="0.6" filter="url(#bl1)"/>
<ellipse cx="200.00" cy="755.00" rx="7.50" ry="11.00" fill="#b48aa8" opacity="0.85" filter="url(#bl1)" transform="rotate(0 200.00 755.00)"/>
<ellipse cx="201.00" cy="752.00" rx="2.50" ry="6.00" fill="#e8dcea" opacity="0.8" filter="url(#bl1)" transform="rotate(0 201.00 752.00)"/>
<ellipse cx="211.00" cy="727.00" rx="4.00" ry="5.00" fill="#c02a30" opacity="0.6" filter="url(#bl2)" transform="rotate(0 211.00 727.00)"/>
<linearGradient id="rg13" x1="0" y1="0" x2="1" y2="0"><stop offset="0" stop-color="#5a6268"/><stop offset="0.55" stop-color="#6c7479"/><stop offset="1" stop-color="#5a6268"/></linearGradient>
<rect x="164.90" y="734.80" width="24.70" height="70.90" fill="url(#rg13)"/>
<line x1="183.10" y1="736.80" x2="189.30" y2="736.80" stroke="#22272a" stroke-width="0.5" opacity="0.7"/>
<line x1="186.20" y1="738.10" x2="189.30" y2="738.10" stroke="#22272a" stroke-width="0.5" opacity="0.7"/>
<line x1="186.20" y1="739.40" x2="189.30" y2="739.40" stroke="#22272a" stroke-width="0.5" opacity="0.7"/>
<line x1="186.20" y1="740.70" x2="189.30" y2="740.70" stroke="#22272a" stroke-width="0.5" opacity="0.7"/>
<line x1="186.20" y1="742.00" x2="189.30" y2="742.00" stroke="#22272a" stroke-width="0.5" opacity="0.7"/>
<line x1="184.60" y1="743.30" x2="189.30" y2="743.30" stroke="#22272a" stroke-width="0.5" opacity="0.7"/>
<line x1="186.20" y1="744.60" x2="189.30" y2="744.60" stroke="#22272a" stroke-width="0.5" opacity="0.7"/>
<line x1="186.20" y1="745.90" x2="189.30" y2="745.90" stroke="#22272a" stroke-width="0.5" opacity="0.7"/>
<line x1="186.20" y1="747.20" x2="189.30" y2="747.20" stroke="#22272a" stroke-width="0.5" opacity="0.7"/>
<line x1="186.20" y1="748.50" x2="189.30" y2="748.50" stroke="#22272a" stroke-width="0.5" opacity="0.7"/>
<line x1="183.10" y1="749.80" x2="189.30" y2="749.80" stroke="#22272a" stroke-width="0.5" opacity="0.7"/>
<line x1="186.20" y1="751.10" x2="189.30" y2="751.10" stroke="#22272a" stroke-width="0.5" opacity="0.7"/>
<line x1="186.20" y1="752.40" x2="189.30" y2="752.40" stroke="#22272a" stroke-width="0.5" opacity="0.7"/>
<line x1="186.20" y1="753.70" x2="189.30" y2="753.70" stroke="#22272a" stroke-width="0.5" opacity="0.7"/>
<line x1="186.20" y1="755.00" x2="189.30" y2="755.00" stroke="#22272a" stroke-width="0.5" opacity="0.7"/>
<line x1="184.60" y1="756.30" x2="189.30" y2="756.30" stroke="#22272a" stroke-width="0.5" opacity="0.7"/>
<line x1="186.20" y1="757.60" x2="189.30" y2="757.60" stroke="#22272a" stroke-width="0.5" opacity="0.7"/>
<line x1="186.20" y1="758.90" x2="189.30" y2="758.90" stroke="#22272a" stroke-width="0.5" opacity="0.7"/>
<line x1="186.20" y1="760.20" x2="189.30" y2="760.20" stroke="#22272a" stroke-width="0.5" opacity="0.7"/>
<line x1="186.20" y1="761.50" x2="189.30" y2="761.50" stroke="#22272a" stroke-width="0.5" opacity="0.7"/>
<line x1="183.10" y1="762.80" x2="189.30" y2="762.80" stroke="#22272a" stroke-width="0.5" opacity="0.7"/>
<line x1="186.20" y1="764.10" x2="189.30" y2="764.10" stroke="#22272a" stroke-width="0.5" opacity="0.7"/>
<line x1="186.20" y1="765.40" x2="189.30" y2="765.40" stroke="#22272a" stroke-width="0.5" opacity="0.7"/>
<line x1="186.20" y1="766.70" x2="189.30" y2="766.70" stroke="#22272a" stroke-width="0.5" opacity="0.7"/>
<line x1="186.20" y1="768.00" x2="189.30" y2="768.00" stroke="#22272a" stroke-width="0.5" opacity="0.7"/>
<line x1="184.60" y1="769.30" x2="189.30" y2="769.30" stroke="#22272a" stroke-width="0.5" opacity="0.7"/>
<line x1="186.20" y1="770.60" x2="189.30" y2="770.60" stroke="#22272a" stroke-width="0.5" opacity="0.7"/>
<line x1="186.20" y1="771.90" x2="189.30" y2="771.90" stroke="#22272a" stroke-width="0.5" opacity="0.7"/>
<line x1="186.20" y1="773.20" x2="189.30" y2="773.20" stroke="#22272a" stroke-width="0.5" opacity="0.7"/>
<line x1="186.20" y1="774.50" x2="189.30" y2="774.50" stroke="#22272a" stroke-width="0.5" opacity="0.7"/>
<line x1="183.10" y1="775.80" x2="189.30" y2="775.80" stroke="#22272a" stroke-width="0.5" opacity="0.7"/>
<line x1="186.20" y1="777.10" x2="189.30" y2="777.10" stroke="#22272a" stroke-width="0.5" opacity="0.7"/>
<line x1="186.20" y1="778.40" x2="189.30" y2="778.40" stroke="#22272a" stroke-width="0.5" opacity="0.7"/>
<line x1="186.20" y1="779.70" x2="189.30" y2="779.70" stroke="#22272a" stroke-width="0.5" opacity="0.7"/>
<line x1="186.20" y1="781.00" x2="189.30" y2="781.00" stroke="#22272a" stroke-width="0.5" opacity="0.7"/>
<line x1="184.60" y1="782.30" x2="189.30" y2="782.30" stroke="#22272a" stroke-width="0.5" opacity="0.7"/>
<line x1="186.20" y1="783.60" x2="189.30" y2="783.60" stroke="#22272a" stroke-width="0.5" opacity="0.7"/>
<line x1="186.20" y1="784.90" x2="189.30" y2="784.90" stroke="#22272a" stroke-width="0.5" opacity="0.7"/>
<line x1="186.20" y1="786.20" x2="189.30" y2="786.20" stroke="#22272a" stroke-width="0.5" opacity="0.7"/>
<line x1="186.20" y1="787.50" x2="189.30" y2="787.50" stroke="#22272a" stroke-width="0.5" opacity="0.7"/>
<line x1="183.10" y1="788.80" x2="189.30" y2="788.80" stroke="#22272a" stroke-width="0.5" opacity="0.7"/>
<line x1="186.20" y1="790.10" x2="189.30" y2="790.10" stroke="#22272a" stroke-width="0.5" opacity="0.7"/>
<line x1="186.20" y1="791.40" x2="189.30" y2="791.40" stroke="#22272a" stroke-width="0.5" opacity="0.7"/>
<line x1="186.20" y1="792.70" x2="189.30" y2="792.70" stroke="#22272a" stroke-width="0.5" opacity="0.7"/>
<line x1="186.20" y1="794.00" x2="189.30" y2="794.00" stroke="#22272a" stroke-width="0.5" opacity="0.7"/>
<line x1="184.60" y1="795.30" x2="189.30" y2="795.30" stroke="#22272a" stroke-width="0.5" opacity="0.7"/>
<line x1="186.20" y1="796.60" x2="189.30" y2="796.60" stroke="#22272a" stroke-width="0.5" opacity="0.7"/>
<line x1="186.20" y1="797.90" x2="189.30" y2="797.90" stroke="#22272a" stroke-width="0.5" opacity="0.7"/>
<line x1="186.20" y1="799.20" x2="189.30" y2="799.20" stroke="#22272a" stroke-width="0.5" opacity="0.7"/>
<line x1="186.20" y1="800.50" x2="189.30" y2="800.50" stroke="#22272a" stroke-width="0.5" opacity="0.7"/>
<line x1="183.10" y1="801.80" x2="189.30" y2="801.80" stroke="#22272a" stroke-width="0.5" opacity="0.7"/>
<line x1="186.20" y1="803.10" x2="189.30" y2="803.10" stroke="#22272a" stroke-width="0.5" opacity="0.7"/>
<line x1="186.20" y1="804.40" x2="189.30" y2="804.40" stroke="#22272a" stroke-width="0.5" opacity="0.7"/>
<text x="165.30" y="759.40" font-size="10.0" fill="#15191c" text-anchor="middle" transform="rotate(90 165.30 759.40)">1</text>
<text x="165.30" y="784.00" font-size="10.0" fill="#15191c" text-anchor="middle" transform="rotate(90 165.30 784.00)">2</text>
</g>
<rect x="188.60" y="741.30" width="22.20" height="27.00" fill="none" stroke="#0c0c0c" stroke-width="1.3"/>
<clipPath id="pc14"><rect x="165.90" y="809.60" width="52.80" height="37.40"/></clipPath>
<g clip-path="url(#pc14)">
<rect x="165.90" y="809.60" width="52.80" height="37.40" fill="#d8c4c8"/>
<ellipse cx="205.00" cy="828.00" rx="16.00" ry="24.00" fill="#a85060" opacity="1.0" filter="url(#bl1)" transform="rotate(0 205.00 828.00)"/>
<ellipse cx="204.00" cy="831.00" rx="9.00" ry="10.00" fill="#c8a8c8" opacity="0.8" filter="url(#bl1)" transform="rotate(0 204.00 831.00)"/>
<linearGradient id="rg14" x1="0" y1="0" x2="1" y2="0"><stop offset="0" stop-color="#5a6268"/><stop offset="0.55" stop-color="#6c7479"/><stop offset="1" stop-color="#5a6268"/></linearGradient>
<rect x="164.90" y="809.60" width="31.60" height="38.40" fill="url(#rg14)"/>
<line x1="190.00" y1="811.60" x2="196.20" y2="811.60" stroke="#22272a" stroke-width="0.5" opacity="0.7"/>
<line x1="193.10" y1="812.90" x2="196.20" y2="812.90" stroke="#22272a" stroke-width="0.5" opacity="0.7"/>
<line x1="193.10" y1="814.20" x2="196.20" y2="814.20" stroke="#22272a" stroke-width="0.5" opacity="0.7"/>
<line x1="193.10" y1="815.50" x2="196.20" y2="815.50" stroke="#22272a" stroke-width="0.5" opacity="0.7"/>
<line x1="193.10" y1="816.80" x2="196.20" y2="816.80" stroke="#22272a" stroke-width="0.5" opacity="0.7"/>
<line x1="191.50" y1="818.10" x2="196.20" y2="818.10" stroke="#22272a" stroke-width="0.5" opacity="0.7"/>
<line x1="193.10" y1="819.40" x2="196.20" y2="819.40" stroke="#22272a" stroke-width="0.5" opacity="0.7"/>
<line x1="193.10" y1="820.70" x2="196.20" y2="820.70" stroke="#22272a" stroke-width="0.5" opacity="0.7"/>
<line x1="193.10" y1="822.00" x2="196.20" y2="822.00" stroke="#22272a" stroke-width="0.5" opacity="0.7"/>
<line x1="193.10" y1="823.30" x2="196.20" y2="823.30" stroke="#22272a" stroke-width="0.5" opacity="0.7"/>
<line x1="190.00" y1="824.60" x2="196.20" y2="824.60" stroke="#22272a" stroke-width="0.5" opacity="0.7"/>
<line x1="193.10" y1="825.90" x2="196.20" y2="825.90" stroke="#22272a" stroke-width="0.5" opacity="0.7"/>
<line x1="193.10" y1="827.20" x2="196.20" y2="827.20" stroke="#22272a" stroke-width="0.5" opacity="0.7"/>
<line x1="193.10" y1="828.50" x2="196.20" y2="828.50" stroke="#22272a" stroke-width="0.5" opacity="0.7"/>
<line x1="193.10" y1="829.80" x2="196.20" y2="829.80" stroke="#22272a" stroke-width="0.5" opacity="0.7"/>
<line x1="191.50" y1="831.10" x2="196.20" y2="831.10" stroke="#22272a" stroke-width="0.5" opacity="0.7"/>
<line x1="193.10" y1="832.40" x2="196.20" y2="832.40" stroke="#22272a" stroke-width="0.5" opacity="0.7"/>
<line x1="193.10" y1="833.70" x2="196.20" y2="833.70" stroke="#22272a" stroke-width="0.5" opacity="0.7"/>
<line x1="193.10" y1="835.00" x2="196.20" y2="835.00" stroke="#22272a" stroke-width="0.5" opacity="0.7"/>
<line x1="193.10" y1="836.30" x2="196.20" y2="836.30" stroke="#22272a" stroke-width="0.5" opacity="0.7"/>
<line x1="190.00" y1="837.60" x2="196.20" y2="837.60" stroke="#22272a" stroke-width="0.5" opacity="0.7"/>
<line x1="193.10" y1="838.90" x2="196.20" y2="838.90" stroke="#22272a" stroke-width="0.5" opacity="0.7"/>
<line x1="193.10" y1="840.20" x2="196.20" y2="840.20" stroke="#22272a" stroke-width="0.5" opacity="0.7"/>
<line x1="193.10" y1="841.50" x2="196.20" y2="841.50" stroke="#22272a" stroke-width="0.5" opacity="0.7"/>
<line x1="193.10" y1="842.80" x2="196.20" y2="842.80" stroke="#22272a" stroke-width="0.5" opacity="0.7"/>
<line x1="191.50" y1="844.10" x2="196.20" y2="844.10" stroke="#22272a" stroke-width="0.5" opacity="0.7"/>
<line x1="193.10" y1="845.40" x2="196.20" y2="845.40" stroke="#22272a" stroke-width="0.5" opacity="0.7"/>
<line x1="193.10" y1="846.70" x2="196.20" y2="846.70" stroke="#22272a" stroke-width="0.5" opacity="0.7"/>
<text x="167.20" y="836.20" font-size="10.0" fill="#15191c" text-anchor="middle" transform="rotate(90 167.20 836.20)">1</text>
</g>
<ellipse cx="204.30" cy="830.70" rx="14.20" ry="11.40" fill="none" stroke="#0c0c0c" stroke-width="1.3"/>
<line x1="188.60" y1="768.30" x2="191.10" y2="828.70" stroke="#333" stroke-width="0.55"/>
<line x1="210.80" y1="768.30" x2="218.00" y2="828.70" stroke="#333" stroke-width="0.55"/>
<linearGradient id="vg8" x1="0" y1="0" x2="0" y2="1"><stop offset="0" stop-color="#c26272"/><stop offset="0.12" stop-color="#b88c9c"/><stop offset="1" stop-color="#a88c9c"/></linearGradient>
<clipPath id="pc15"><rect x="237.30" y="721.80" width="53.60" height="83.50"/></clipPath>
<g clip-path="url(#pc15)">
<rect x="237.30" y="721.80" width="53.60" height="83.50" fill="#dcdcd6"/>
<ellipse cx="286.00" cy="790.00" rx="8.00" ry="16.00" fill="#22907e" opacity="0.95" filter="url(#bl2)" transform="rotate(0 286.00 790.00)"/>
<ellipse cx="241.00" cy="738.00" rx="6.00" ry="16.00" fill="#5a7a90" opacity="0.8" filter="url(#bl2)" transform="rotate(0 241.00 738.00)"/>
<ellipse cx="250.00" cy="726.00" rx="12.00" ry="5.00" fill="#f0efea" opacity="0.9" filter="url(#bl2)" transform="rotate(0 250.00 726.00)"/>
<path d="M268.50,733.00 C289.50,744.16 285.86,782.60 268.50,795.00 C251.14,782.60 247.50,744.16 268.50,733.00Z" fill="url(#vg8)" opacity="1" filter="url(#bl1)"/>
<path d="M263.0,746.0 L273.0,745.0 L277.0,762.0 L271.0,772.0 L264.0,765.0Z" fill="#e6e0f2" opacity="0.9" filter="url(#bl1)"/>
<ellipse cx="275.00" cy="765.00" rx="4.00" ry="10.00" fill="#a07888" opacity="0.5" filter="url(#bl1)" transform="rotate(0 275.00 765.00)"/>
<ellipse cx="279.00" cy="755.00" rx="1.20" ry="10.00" fill="#c02030" opacity="0.6" filter="url(#bl05)" transform="rotate(0 279.00 755.00)"/>
<linearGradient id="rg15" x1="0" y1="0" x2="1" y2="0"><stop offset="0" stop-color="#667076"/><stop offset="0.55" stop-color="#78828a"/><stop offset="1" stop-color="#667076"/></linearGradient>
<rect x="236.30" y="749.10" width="21.50" height="57.20" fill="url(#rg15)"/>
<line x1="251.30" y1="751.10" x2="257.50" y2="751.10" stroke="#22272a" stroke-width="0.5" opacity="0.7"/>
<line x1="254.40" y1="752.40" x2="257.50" y2="752.40" stroke="#22272a" stroke-width="0.5" opacity="0.7"/>
<line x1="254.40" y1="753.70" x2="257.50" y2="753.70" stroke="#22272a" stroke-width="0.5" opacity="0.7"/>
<line x1="254.40" y1="755.00" x2="257.50" y2="755.00" stroke="#22272a" stroke-width="0.5" opacity="0.7"/>
<line x1="254.40" y1="756.30" x2="257.50" y2="756.30" stroke="#22272a" stroke-width="0.5" opacity="0.7"/>
<line x1="252.80" y1="757.60" x2="257.50" y2="757.60" stroke="#22272a" stroke-width="0.5" opacity="0.7"/>
<line x1="254.40" y1="758.90" x2="257.50" y2="758.90" stroke="#22272a" stroke-width="0.5" opacity="0.7"/>
<line x1="254.40" y1="760.20" x2="257.50" y2="760.20" stroke="#22272a" stroke-width="0.5" opacity="0.7"/>
<line x1="254.40" y1="761.50" x2="257.50" y2="761.50" stroke="#22272a" stroke-width="0.5" opacity="0.7"/>
<line x1="254.40" y1="762.80" x2="257.50" y2="762.80" stroke="#22272a" stroke-width="0.5" opacity="0.7"/>
<line x1="251.30" y1="764.10" x2="257.50" y2="764.10" stroke="#22272a" stroke-width="0.5" opacity="0.7"/>
<line x1="254.40" y1="765.40" x2="257.50" y2="765.40" stroke="#22272a" stroke-width="0.5" opacity="0.7"/>
<line x1="254.40" y1="766.70" x2="257.50" y2="766.70" stroke="#22272a" stroke-width="0.5" opacity="0.7"/>
<line x1="254.40" y1="768.00" x2="257.50" y2="768.00" stroke="#22272a" stroke-width="0.5" opacity="0.7"/>
<line x1="254.40" y1="769.30" x2="257.50" y2="769.30" stroke="#22272a" stroke-width="0.5" opacity="0.7"/>
<line x1="252.80" y1="770.60" x2="257.50" y2="770.60" stroke="#22272a" stroke-width="0.5" opacity="0.7"/>
<line x1="254.40" y1="771.90" x2="257.50" y2="771.90" stroke="#22272a" stroke-width="0.5" opacity="0.7"/>
<line x1="254.40" y1="773.20" x2="257.50" y2="773.20" stroke="#22272a" stroke-width="0.5" opacity="0.7"/>
<line x1="254.40" y1="774.50" x2="257.50" y2="774.50" stroke="#22272a" stroke-width="0.5" opacity="0.7"/>
<line x1="254.40" y1="775.80" x2="257.50" y2="775.80" stroke="#22272a" stroke-width="0.5" opacity="0.7"/>
<line x1="251.30" y1="777.10" x2="257.50" y2="777.10" stroke="#22272a" stroke-width="0.5" opacity="0.7"/>
<line x1="254.40" y1="778.40" x2="257.50" y2="778.40" stroke="#22272a" stroke-width="0.5" opacity="0.7"/>
<line x1="254.40" y1="779.70" x2="257.50" y2="779.70" stroke="#22272a" stroke-width="0.5" opacity="0.7"/>
<line x1="254.40" y1="781.00" x2="257.50" y2="781.00" stroke="#22272a" stroke-width="0.5" opacity="0.7"/>
<line x1="254.40" y1="782.30" x2="257.50" y2="782.30" stroke="#22272a" stroke-width="0.5" opacity="0.7"/>
<line x1="252.80" y1="783.60" x2="257.50" y2="783.60" stroke="#22272a" stroke-width="0.5" opacity="0.7"/>
<line x1="254.40" y1="784.90" x2="257.50" y2="784.90" stroke="#22272a" stroke-width="0.5" opacity="0.7"/>
<line x1="254.40" y1="786.20" x2="257.50" y2="786.20" stroke="#22272a" stroke-width="0.5" opacity="0.7"/>
<line x1="254.40" y1="787.50" x2="257.50" y2="787.50" stroke="#22272a" stroke-width="0.5" opacity="0.7"/>
<line x1="254.40" y1="788.80" x2="257.50" y2="788.80" stroke="#22272a" stroke-width="0.5" opacity="0.7"/>
<line x1="251.30" y1="790.10" x2="257.50" y2="790.10" stroke="#22272a" stroke-width="0.5" opacity="0.7"/>
<line x1="254.40" y1="791.40" x2="257.50" y2="791.40" stroke="#22272a" stroke-width="0.5" opacity="0.7"/>
<line x1="254.40" y1="792.70" x2="257.50" y2="792.70" stroke="#22272a" stroke-width="0.5" opacity="0.7"/>
<line x1="254.40" y1="794.00" x2="257.50" y2="794.00" stroke="#22272a" stroke-width="0.5" opacity="0.7"/>
<line x1="254.40" y1="795.30" x2="257.50" y2="795.30" stroke="#22272a" stroke-width="0.5" opacity="0.7"/>
<line x1="252.80" y1="796.60" x2="257.50" y2="796.60" stroke="#22272a" stroke-width="0.5" opacity="0.7"/>
<line x1="254.40" y1="797.90" x2="257.50" y2="797.90" stroke="#22272a" stroke-width="0.5" opacity="0.7"/>
<line x1="254.40" y1="799.20" x2="257.50" y2="799.20" stroke="#22272a" stroke-width="0.5" opacity="0.7"/>
<line x1="254.40" y1="800.50" x2="257.50" y2="800.50" stroke="#22272a" stroke-width="0.5" opacity="0.7"/>
<line x1="254.40" y1="801.80" x2="257.50" y2="801.80" stroke="#22272a" stroke-width="0.5" opacity="0.7"/>
<line x1="251.30" y1="803.10" x2="257.50" y2="803.10" stroke="#22272a" stroke-width="0.5" opacity="0.7"/>
<line x1="254.40" y1="804.40" x2="257.50" y2="804.40" stroke="#22272a" stroke-width="0.5" opacity="0.7"/>
<text x="238.20" y="766.30" font-size="10.0" fill="#15191c" text-anchor="middle" transform="rotate(90 238.20 766.30)">1</text>
<text x="238.20" y="787.00" font-size="10.0" fill="#15191c" text-anchor="middle" transform="rotate(90 238.20 787.00)">2</text>
<text x="238.20" y="806.50" font-size="10.0" fill="#15191c" text-anchor="middle" transform="rotate(90 238.20 806.50)">3</text>
</g>
<rect x="257.80" y="743.80" width="22.80" height="26.60" fill="none" stroke="#0c0c0c" stroke-width="1.3"/>
<clipPath id="pc16"><rect x="237.30" y="809.10" width="53.60" height="37.30"/></clipPath>
<g clip-path="url(#pc16)">
<rect x="237.30" y="809.10" width="53.60" height="37.30" fill="#d0c4cc"/>
<ellipse cx="245.00" cy="812.00" rx="14.00" ry="5.00" fill="#3a70a0" opacity="0.85" filter="url(#bl2)" transform="rotate(0 245.00 812.00)"/>
<ellipse cx="276.00" cy="828.00" rx="17.00" ry="26.00" fill="#b88494" opacity="1.0" filter="url(#bl1)" transform="rotate(0 276.00 828.00)"/>
<ellipse cx="274.00" cy="833.00" rx="7.00" ry="10.00" fill="#ece8f4" opacity="0.85" filter="url(#bl1)" transform="rotate(0 274.00 833.00)"/>
</g>
<rect x="237.30" y="819.00" width="27.70" height="27.40" fill="#66727a"/>
<line x1="261.50" y1="820.50" x2="264.50" y2="820.50" stroke="#2a2f33" stroke-width="0.45"/>
<line x1="261.50" y1="821.80" x2="264.50" y2="821.80" stroke="#2a2f33" stroke-width="0.45"/>
<line x1="261.50" y1="823.10" x2="264.50" y2="823.10" stroke="#2a2f33" stroke-width="0.45"/>
<line x1="261.50" y1="824.40" x2="264.50" y2="824.40" stroke="#2a2f33" stroke-width="0.45"/>
<line x1="261.50" y1="825.70" x2="264.50" y2="825.70" stroke="#2a2f33" stroke-width="0.45"/>
<line x1="261.50" y1="827.00" x2="264.50" y2="827.00" stroke="#2a2f33" stroke-width="0.45"/>
<line x1="261.50" y1="828.30" x2="264.50" y2="828.30" stroke="#2a2f33" stroke-width="0.45"/>
<line x1="261.50" y1="829.60" x2="264.50" y2="829.60" stroke="#2a2f33" stroke-width="0.45"/>
<line x1="261.50" y1="830.90" x2="264.50" y2="830.90" stroke="#2a2f33" stroke-width="0.45"/>
<line x1="261.50" y1="832.20" x2="264.50" y2="832.20" stroke="#2a2f33" stroke-width="0.45"/>
<line x1="261.50" y1="833.50" x2="264.50" y2="833.50" stroke="#2a2f33" stroke-width="0.45"/>
<line x1="261.50" y1="834.80" x2="264.50" y2="834.80" stroke="#2a2f33" stroke-width="0.45"/>
<line x1="261.50" y1="836.10" x2="264.50" y2="836.10" stroke="#2a2f33" stroke-width="0.45"/>
<line x1="261.50" y1="837.40" x2="264.50" y2="837.40" stroke="#2a2f33" stroke-width="0.45"/>
<line x1="261.50" y1="838.70" x2="264.50" y2="838.70" stroke="#2a2f33" stroke-width="0.45"/>
<line x1="261.50" y1="840.00" x2="264.50" y2="840.00" stroke="#2a2f33" stroke-width="0.45"/>
<line x1="261.50" y1="841.30" x2="264.50" y2="841.30" stroke="#2a2f33" stroke-width="0.45"/>
<line x1="261.50" y1="842.60" x2="264.50" y2="842.60" stroke="#2a2f33" stroke-width="0.45"/>
<line x1="261.50" y1="843.90" x2="264.50" y2="843.90" stroke="#2a2f33" stroke-width="0.45"/>
<line x1="261.50" y1="845.20" x2="264.50" y2="845.20" stroke="#2a2f33" stroke-width="0.45"/>
<rect x="238" y="843" width="5" height="1.4" fill="#111"/>
<ellipse cx="275.30" cy="831.90" rx="14.00" ry="11.20" fill="none" stroke="#0c0c0c" stroke-width="1.3"/>
<line x1="257.80" y1="770.40" x2="262.30" y2="829.90" stroke="#333" stroke-width="0.55"/>
<line x1="280.60" y1="770.40" x2="288.80" y2="829.90" stroke="#333" stroke-width="0.55"/>
<text x="48.00" y="537.00" font-size="13.0" fill="#111" text-anchor="middle">Injury</text>
<text x="117.70" y="537.00" font-size="13.0" fill="#111" text-anchor="middle">GelMA</text>
<text x="194.5" y="537.0" font-size="12.9" fill="#111" text-anchor="middle">GelMA-<tspan font-style="italic">c</tspan>-<tspan font-style="italic">r</tspan>FGF7</text>
<text x="270.80" y="537.00" font-size="13.0" fill="#111" text-anchor="middle">Sham</text>
<text x="48.00" y="717.00" font-size="13.0" fill="#111" text-anchor="middle">Injury</text>
<text x="117.70" y="717.00" font-size="13.0" fill="#111" text-anchor="middle">GelMA</text>
<text x="194.5" y="717.0" font-size="12.9" fill="#111" text-anchor="middle">GelMA-<tspan font-style="italic">c</tspan>-<tspan font-style="italic">r</tspan>FGF7</text>
<text x="270.80" y="717.00" font-size="13.0" fill="#111" text-anchor="middle">Sham</text>
<text x="5.00" y="603.00" font-size="12.6" fill="#111">2w</text>
<text x="4.50" y="780.50" font-size="12.6" fill="#111">4w</text>
<defs>
<linearGradient id="arrg" x1="0" y1="0" x2="1" y2="0"><stop offset="0" stop-color="#5a5a5a" stop-opacity="0"/><stop offset="0.08" stop-color="#bdbdbd"/><stop offset="0.55" stop-color="#5c5c5c"/><stop offset="1" stop-color="#545454"/></linearGradient>
<radialGradient id="gelg" cx="0.5" cy="0.4" r="0.6"><stop offset="0" stop-color="#bfe6f2"/><stop offset="1" stop-color="#7cc3dc"/></radialGradient>
<linearGradient id="uvg" x1="1" y1="0" x2="0" y2="0.3"><stop offset="0" stop-color="#7a10ff"/><stop offset="0.6" stop-color="#8a00ff"/><stop offset="1" stop-color="#b070ff" stop-opacity="0.6"/></linearGradient>
<filter id="geltex" x="0" y="0" width="100%" height="100%"><feTurbulence type="fractalNoise" baseFrequency="0.9" numOctaves="2" seed="3" result="n"/>
<feColorMatrix in="n" type="matrix" values="0 0 0 0 0.55  0 0 0 0 0.82  0 0 0 0 0.9  0 0 0 -2.2 1.45" result="c"/>
<feComposite in="c" in2="SourceGraphic" operator="in" result="t"/><feMerge><feMergeNode in="SourceGraphic"/><feMergeNode in="t"/></feMerge></filter>
</defs>
<g transform="translate(0,0) scale(1.0,1.0)">
<path d="M42,58.5 C30,59.5 16,58.5 9,60.5 C5,62 3,65 2.6,67.8" stroke="#d7a58e" stroke-width="1.7" fill="none" stroke-linecap="round"/>
<path d="M58,61 C61,64.5 68,65.5 73,63" stroke="#d9a38d" stroke-width="2.6" fill="none" stroke-linecap="round"/>
<path d="M41.5,58.5 C42,52 43,49 44.4,47.4 C47,41 50,37 54.2,35.3 C59,33.5 63,33 67.4,33.1 C72,33.3 76,34.3 79.5,34 C81,30.5 83,28.5 86,27.7 C88.5,27.7 90,29 91.5,30.4 C95,31 98.5,31.5 101.3,32 C105,32.6 108,33 110,33.7 C109,35.5 107.5,37 105.7,38 C102.5,40 99.5,42.5 97,45.2 C94,48 90.5,50 87,51.8 C84,54 80,56.5 76.1,57.2 C72,58.5 66,59 60,58.8 C54,58.8 48,58.5 41.5,58.5Z" fill="#fdfcfb" stroke="#cfc7c3" stroke-width="0.55"/>
<path d="M44.4,47.4 C47,41 50,37 54.2,35.3 C53,42 54,51 57,58.8 C52,58.8 47,58.6 42,58.4 C42.3,53 43,50 44.4,47.4Z" fill="#f1e8e4"/>
<ellipse cx="85" cy="35" rx="3.6" ry="4.1" fill="#d99f89" transform="rotate(-15 85 35)"/>
<circle cx="95.6" cy="35.3" r="1.3" fill="#a8261e"/>
<path d="M99,40 L96.5,46 M100,40 L99,47 M101,40 L103,46.5 M102,37 L106,27 M103,37.5 L109,26 M104,37.5 L111,29" stroke="#8a8a8a" stroke-width="0.35" fill="none"/>
<path d="M88,42 C90,41 92,41.5 94,42.5" stroke="#e2c2b5" stroke-width="0.5" fill="none"/>
<path d="M84,54 C84,58 86,61.5 89,63.5 M87.5,54 C88,58 90.5,60.5 92.5,62 M85,57 L82.5,61" stroke="#d9a38d" stroke-width="1.7" fill="none" stroke-linecap="round"/>
</g>
<rect x="56.60" y="47.60" width="18.00" height="13.60" fill="#f5ede8"/>
<path d="M57.5,56.5 L60,54.5 L62,56 L64.5,53.5 L67,55.5 L70,54 L72.5,56.5 L73.8,58 L73.8,60.8 L57.5,60.8Z" fill="#e9cfc2"/>
<path d="M68,59.5 L73.8,57.5 L73.8,60.8 L66,60.8Z" fill="#d9a08a"/>
<rect x="56.6" y="47.6" width="18.0" height="13.6" fill="none" stroke="#0c0c0c" stroke-width="1.9"/>
<rect x="75.50" y="53.70" width="64.50" height="4.20" fill="url(#arrg)"/>
<path d="M139.00,50.60 L154.50,55.80 L139.00,61.00Z" fill="#555"/>
<text x="42.00" y="83.00" font-size="10.2" fill="#111">Full defect injury model</text>
<text x="42.00" y="94.00" font-size="10.2" fill="#111">of rat patellar tendon</text>
<g transform="translate(0,0) scale(1.0)">
<path d="M159.8,44 C160.5,40 166,38.4 173,38.2 C181,38.2 187,41 187.8,46 C188.5,54 187.8,64 185.5,70 C183.5,75 181,78 178,78.5 L169,78.5 C166,76 164,72 161,69 C159.3,62 159.2,52 159.8,44Z" fill="#d9d9d9"/>
<path d="M166.1,16.4 L174.3,16.4 L179.6,38.6 L167.1,38.6Z" fill="#f4e7a8"/>
<path d="M168.6,16.6 L173.5,16.6 L176.9,36.4 L169.6,36.4Z" fill="#e2907b"/>
<path d="M158.8,44.5 C160,40.5 163.5,38 167.2,36.8 L167.8,40.2 C164.2,41.3 162,43 160.8,45.3Z" fill="#e2907b"/>
<path d="M179.6,36.8 C182.8,39.5 185.8,44 190,46.5 L188.2,49.2 C184.5,47 181.5,43.5 179,41Z" fill="#e2907b"/>
<path d="M160.3,67.7 L164.7,70.7 L164.7,88 L160.9,88Z" fill="#f4e7a8"/>
<path d="M169.6,76.4 L179.9,76.4 L179,88 L170.5,88Z" fill="#f4e7a8"/>
<rect x="169.60" y="53.00" width="6.80" height="9.80" fill="#f4e7a8"/>
<path d="M170.8,56.2 C171.8,53.8 174.4,53.8 175.2,56.2" stroke="#fff" stroke-width="1.1" fill="none"/>
</g>
<text x="192.30" y="47.00" font-size="10.2" fill="#111">Scaffold preparation</text>
<rect x="202.00" y="53.70" width="53.50" height="4.20" fill="url(#arrg)"/>
<path d="M254.50,50.60 L270.00,55.80 L254.50,61.00Z" fill="#555"/>
<text x="285.30" y="8.50" font-size="10.2" fill="#111">rFGF7</text>
<circle cx="287.7" cy="15.7" r="2.55" fill="#d9ca8c" stroke="#bda866" stroke-width="0.5"/>
<circle cx="296.1" cy="13.3" r="2.55" fill="#d9ca8c" stroke="#bda866" stroke-width="0.5"/>
<circle cx="304.3" cy="16.7" r="2.55" fill="#d9ca8c" stroke="#bda866" stroke-width="0.5"/>
<circle cx="299.2" cy="19.6" r="2.55" fill="#d9ca8c" stroke="#bda866" stroke-width="0.5"/>
<circle cx="292.5" cy="22.3" r="2.55" fill="#d9ca8c" stroke="#bda866" stroke-width="0.5"/>
<circle cx="309.2" cy="25.6" r="2.55" fill="#d9ca8c" stroke="#bda866" stroke-width="0.5"/>
<text x="296.70" y="35.50" font-size="10.2" fill="#333" text-anchor="middle">+</text>
<path d="M286,46 L289,42.5 L291,46.5 L294,41.5 L296,46 L299,41 L301,46.5 L304,41.5 L306,46 L309,41.5 L311,46.5 L315,43 M287,43.5 L290,46.5 L293,42.5 L295.5,46.5 L298,42 L300.5,46 L303,41.8 L305.5,46.3 L308,42.2 L311,46 L314,44.5 M288,44.5 C292,40.5 296,48 300,43.5 C304,40 308,47.5 313,43.5 M289,46.8 C293,44 297,45 301,46.5 C305,47.5 309,44 314,46.5" stroke="#3e3ef2" stroke-width="0.5" fill="none"/>
<text x="286.50" y="59.20" font-size="10.2" fill="#111">NHS-</text>
<text x="296.70" y="72.30" font-size="10.2" fill="#333" text-anchor="middle">+</text>
<g filter="url(#geltex)"><path d="M283,80.5 L297,77.3 L311.8,80 L298,83.5Z" fill="#bfe4f0"/><path d="M283,80.5 L298,83.5 L298,93.6 C292,93 287,91.5 283,89.5Z" fill="#8fcbe0"/><path d="M298,83.5 L311.8,80 L311.8,89.5 C307,92 303,93.2 298,93.6Z" fill="#7fc1d9"/></g>
<text x="282.20" y="104.50" font-size="10.2" fill="#111">GelMA</text>
<text x="315.00" y="36.00" font-size="10.2" fill="#111">GelMA solution with</text>
<text x="320.30" y="47.00" font-size="10.2" fill="#111">rFGF7 and NHS</text>
<rect x="320.00" y="53.70" width="51.50" height="4.20" fill="url(#arrg)"/>
<path d="M370.50,50.60 L386.00,55.80 L370.50,61.00Z" fill="#555"/>
<g filter="url(#geltex)"><path d="M395.5,47.5 L418,41 L447,45.5 L424,53Z" fill="#bfe4f0"/><path d="M395.5,47.5 L424,53 L424,70.5 C413,69.5 403,67 396,62.5Z" fill="#8ccae0"/><path d="M424,53 L447,45.5 L446.8,62 C441,66.5 433,69.5 424,70.5Z" fill="#7cc0da"/></g>
<path d="M409,54 C413,47 419,49 422,55 C425,61 428,52 431,48 C434,46 436,52 432,56 C429,60 420,62 418,59" stroke="#4a4ab0" stroke-width="0.6" fill="none" opacity="0.9"/>
<path d="M420,46 C424,44 427,48 430,45 M412,57 C415,60 418,57 421,60" stroke="#b04060" stroke-width="0.5" fill="none" opacity="0.8"/>
<text x="486.50" y="36.00" font-size="10.2" fill="#111" text-anchor="middle">GelMA hydrogel</text>
<text x="486.50" y="47.00" font-size="10.2" fill="#111" text-anchor="middle">instillation</text>
<rect x="455.00" y="53.70" width="51.50" height="4.20" fill="url(#arrg)"/>
<path d="M505.50,50.60 L521.00,55.80 L505.50,61.00Z" fill="#555"/>
<g>
<path d="M523.8,43 C525,39 531,35.5 541,35 C550,35 556.5,38 558.8,44 C560,56 559,70 556,80 C554,86 551,90 548,90.5 L538.5,90.5 C535,86 530,82 526.5,78 C523.5,68 523,55 523.8,43Z" fill="#d9d9d9"/>
<path d="M532.5,6.6 L545.7,6.6 L550.8,35.5 L534,35.5Z" fill="#f4e7a8"/>
<path d="M536.2,6.6 L544.2,6.6 L547.8,33.6 L536.9,33.6Z" fill="#e2907b"/>
<path d="M522.8,43.5 C524.5,39 529,35.5 534,33.8 L534.8,37.5 C530,39 527,41.5 525.2,44.5Z" fill="#e2907b"/>
<path d="M550.3,33.8 C553.5,37 556.5,40.5 560,42.8 L558.5,46 C554.5,43.5 552,40.5 549.8,38Z" fill="#e2907b"/>
<path d="M526,76 L530.3,79 L530.3,105 L526.5,105Z" fill="#f4e7a8"/>
<path d="M538.4,87.6 L550.8,87.6 L550.3,105 L539,105Z" fill="#f4e7a8"/>
<ellipse cx="542.5" cy="64.5" rx="8" ry="13.2" fill="#9fd6e8" filter="url(#geltex)" transform="rotate(-8 542.5 64.5)"/>
<path d="M544,46.5 L571,40.5 L573,46 L556,66Z" fill="#9a40ff" opacity="0.45" filter="url(#bl1)"/>
<path d="M545,47.4 L571,41.5 L572.5,45.5 L555.5,65Z" fill="url(#uvg)" opacity="0.95"/>
<g transform="rotate(-16 586 40)"><rect x="571" y="35.8" width="31" height="5.8" rx="1.5" fill="#161616"/><rect x="569.5" y="34.6" width="6" height="8.2" rx="1.2" fill="#222"/><ellipse cx="570" cy="38.7" rx="1.6" ry="3.6" fill="#9a6ad8"/><rect x="577" y="36.2" width="22" height="1" fill="#555"/></g>
</g>
<text x="575.00" y="24.00" font-size="10.2" fill="#111">UV irradiation</text>
<text x="563.00" y="73.00" font-size="10.2" fill="#111">In situ photocrosslinking of</text>
<text x="567.0" y="83.5" font-size="10.2" fill="#111">GelMA-<tspan font-style="italic">c</tspan>-rFGF7 hydrogel</text>
<path d="M10.3,138.1 L33.2,138.1 L33.2,133 L119.3,133 L119.3,158.2 L10.3,158.2Z" fill="#edf3f3"/>
<path d="M104.1,133 L131.6,133 L146.4,138.8 L119.3,138.8Z" fill="#5a6680"/>
<rect x="119.30" y="138.80" width="27.10" height="19.20" fill="#1f2528"/>
<path d="M59,147.3 C55,148 52.5,150 53,152.5 C53.8,155 57,155 61,154.3 C63.5,153.9 65,153.6 66.5,153.4" stroke="#a87068" stroke-width="1.1" fill="none" stroke-linecap="round"/>
<path d="M62,150.6 L69,152.2 M64,150.2 L70.5,153.8 M78.5,151.2 L84.5,152.4 M80,150.5 L85,151.3" stroke="#a87068" stroke-width="1.0" fill="none" stroke-linecap="round"/>
<path d="M58.5,146 C58,141 62,138.2 68,138.2 C72,138 75,138.5 77,139 C79,137.3 82,137.3 84,139 C86,140.5 87.5,142.5 88,144.3 C86,145.5 84,146.5 82,147 C80,149 77,150.2 73,150.3 C68,150.6 63,150.2 60.5,149 C59,148.3 58.6,147.2 58.5,146Z" fill="#e9e9ec" stroke="#dadade" stroke-width="0.4"/>
<path d="M60,148.8 C64,150.3 70,150.6 74,150 C70,148.5 64,148.2 60,148.8Z" fill="#dcdcde"/>
<ellipse cx="77.1" cy="142.6" rx="1.6" ry="1.9" fill="#b98a88"/><circle cx="81.5" cy="142.6" r="0.75" fill="#4a2a2a"/><circle cx="87.6" cy="144.2" r="0.6" fill="#c09090"/>
<text x="87.00" y="176.00" font-size="12.8" fill="#111" text-anchor="middle">Gait Analysis</text>
<rect x="4.00" y="190.40" width="7.00" height="3.20" fill="#3a5069"/>
<text x="15.50" y="194.60" font-size="7.6" fill="#222">Injury</text>
<rect x="4.00" y="198.40" width="7.00" height="3.20" fill="#e0a62d"/>
<text x="15.50" y="202.60" font-size="7.6" fill="#222">GelMA</text>
<rect x="4.00" y="206.10" width="7.00" height="3.20" fill="#9d6a58"/>
<text x="15.50" y="210.30" font-size="7.6" fill="#222">GelMA-<tspan font-style="italic">c</tspan>-FGF7</text>
<rect x="4.00" y="214.20" width="7.00" height="3.20" fill="#a32413"/>
<text x="15.50" y="218.40" font-size="7.6" fill="#222">Sham</text>
<text x="582.30" y="119.80" font-size="12.0" fill="#111" text-anchor="middle">4W</text>
<text x="492.30" y="141.80" font-size="12.3" fill="#111" text-anchor="middle">Injury</text>
<text x="549.70" y="141.80" font-size="12.6" fill="#111" text-anchor="middle">GelMA</text>
<text x="584" y="133" font-size="12.3" fill="#111">GelMA-<tspan font-style="italic">c</tspan>-</text>
<text x="584.00" y="146.00" font-size="12.3" fill="#111">FGF7</text>
<text x="661.40" y="141.80" font-size="12.3" fill="#111" text-anchor="middle">Sham</text>
<defs><linearGradient id="hbg" x1="0" y1="0" x2="0" y2="1"><stop offset="0" stop-color="#fdfdfd"/><stop offset="0.45" stop-color="#f3f3f3"/><stop offset="1" stop-color="#fafafa"/></linearGradient></defs>
<rect x="473.10" y="149.60" width="48.70" height="175.50" fill="url(#hbg)" stroke="#222" stroke-width="1.2" rx="0.8"/>
<rect x="527.30" y="149.60" width="48.30" height="175.50" fill="url(#hbg)" stroke="#222" stroke-width="1.2" rx="0.8"/>
<rect x="580.90" y="149.60" width="48.90" height="175.50" fill="url(#hbg)" stroke="#222" stroke-width="1.2" rx="0.8"/>
<rect x="634.80" y="149.60" width="49.20" height="175.50" fill="url(#hbg)" stroke="#222" stroke-width="1.2" rx="0.8"/>
<path d="M482.53,172.87 L482.16,173.88 L481.10,174.26 L480.52,173.87 L479.49,173.02 L480.06,172.37 L480.37,171.97 L481.23,171.61 L481.66,172.06Z" fill="#15172a" opacity="1.0"/>
<path d="M486.36,173.28 L485.61,173.99 L485.09,174.21 L484.61,174.08 L483.93,174.08 L484.20,173.20 L484.62,172.17 L485.16,172.05 L485.95,172.66Z" fill="#2a3050" opacity="1.0"/>
<circle cx="478.20" cy="180.60" r="0.72" fill="#202540"/>
<circle cx="488.16" cy="182.40" r="0.60" fill="#202540"/>
<path d="M487.06,182.54 L486.12,185.75 L483.64,185.66 L482.63,185.15 L481.85,184.04 L480.80,182.14 L481.59,180.46 L483.86,180.33 L485.87,181.37Z" fill="#0e1022" opacity="1.0"/>
<path d="M488.28,193.56 L487.18,195.51 L485.97,196.15 L484.36,197.12 L483.66,195.85 L483.68,192.77 L484.91,191.99 L486.14,189.48 L487.83,190.95Z" fill="#0e1022" opacity="1.0"/>
<path d="M487.52,200.49 L486.63,201.50 L485.72,203.45 L484.70,203.20 L483.39,200.68 L483.28,199.14 L484.44,197.61 L485.86,195.92 L486.94,197.05Z" fill="#4a5a90" opacity="0.7"/>
<path d="M480.00,184.20 C478.80,189.00 482.40,192.60 484.80,197.40" stroke="#3a4a80" stroke-width="0.5" fill="none" opacity="0.8"/>
<path d="M477.83,241.41 L477.06,242.79 L475.94,243.13 L475.30,242.86 L474.25,242.17 L474.32,241.10 L475.05,240.33 L476.43,239.91 L477.16,240.46Z" fill="#15172a" opacity="1.0"/>
<path d="M481.51,242.37 L481.43,242.81 L480.50,243.40 L479.90,243.43 L479.08,242.80 L479.20,241.93 L479.59,240.90 L480.46,240.74 L481.23,241.47Z" fill="#2a3050" opacity="1.0"/>
<circle cx="472.73" cy="250.30" r="0.81" fill="#202540"/>
<circle cx="483.93" cy="252.32" r="0.68" fill="#202540"/>
<path d="M481.84,252.60 L481.40,256.44 L478.80,256.67 L477.55,256.14 L476.23,253.85 L476.86,251.69 L477.33,250.75 L478.89,250.52 L480.77,250.73Z" fill="#0e1022" opacity="1.0"/>
<path d="M484.13,265.83 L483.22,267.48 L482.32,268.90 L480.39,267.43 L479.46,266.03 L479.35,263.73 L480.26,262.85 L482.27,261.44 L483.62,261.54Z" fill="#0e1022" opacity="1.0"/>
<path d="M482.45,271.63 L482.28,273.38 L481.18,276.28 L480.02,275.10 L478.99,273.86 L479.15,271.03 L479.52,268.43 L481.35,269.34 L481.90,270.15Z" fill="#4a5a90" opacity="0.7"/>
<path d="M474.75,254.35 C473.40,259.75 477.45,263.80 480.15,269.20" stroke="#3a4a80" stroke-width="0.5" fill="none" opacity="0.8"/>
<path d="M489.84,293.70 L489.02,294.87 L488.14,295.15 L487.13,295.28 L487.20,294.35 L487.12,293.76 L487.55,293.13 L488.16,292.85 L489.50,292.91Z" fill="#15172a" opacity="1.0"/>
<path d="M493.78,294.36 L493.41,295.59 L492.83,295.45 L492.20,295.30 L491.25,294.81 L491.45,294.03 L492.22,293.60 L492.55,293.56 L493.58,293.70Z" fill="#2a3050" opacity="1.0"/>
<circle cx="485.15" cy="302.40" r="0.78" fill="#202540"/>
<circle cx="495.94" cy="304.35" r="0.65" fill="#202540"/>
<path d="M494.55,304.20 L492.67,306.38 L491.48,309.04 L489.18,308.19 L488.43,306.12 L487.40,304.36 L489.92,302.76 L491.15,301.63 L494.09,302.54Z" fill="#0e1022" opacity="1.0"/>
<path d="M496.18,316.59 L494.89,318.55 L493.58,320.07 L491.57,320.09 L491.71,317.30 L491.25,315.53 L492.21,313.73 L493.85,312.88 L495.88,314.37Z" fill="#0e1022" opacity="1.0"/>
<path d="M495.09,323.69 L494.54,325.44 L493.04,325.69 L491.96,325.96 L491.56,324.60 L491.15,321.54 L491.84,319.47 L493.22,320.88 L494.42,321.15Z" fill="#4a5a90" opacity="0.7"/>
<path d="M487.10,306.30 C485.80,311.50 489.70,315.40 492.30,320.60" stroke="#3a4a80" stroke-width="0.5" fill="none" opacity="0.8"/>
<path d="M537.14,153.05 L536.57,153.43 L536.23,153.97 L535.67,153.56 L535.35,153.31 L534.87,152.94 L535.69,152.46 L536.34,152.23 L536.57,152.54Z" fill="#15172a" opacity="1.0"/>
<path d="M539.26,153.46 L539.36,154.12 L538.91,154.33 L538.42,154.06 L537.97,153.76 L538.08,153.32 L538.31,152.94 L538.92,152.86 L539.33,152.84Z" fill="#2a3050" opacity="1.0"/>
<circle cx="534.20" cy="158.30" r="0.48" fill="#202540"/>
<circle cx="540.84" cy="159.50" r="0.40" fill="#202540"/>
<path d="M539.98,160.17 L539.82,161.32 L538.06,161.49 L537.23,161.25 L535.53,160.48 L536.00,158.77 L536.98,158.27 L538.10,158.53 L538.99,158.31Z" fill="#0e1022" opacity="1.0"/>
<path d="M539.65,163.34 L538.82,164.41 L538.38,164.78 L537.51,165.05 L537.35,163.89 L537.09,163.16 L537.87,162.03 L538.35,161.27 L539.13,162.09Z" fill="#5a5890" opacity="0.75"/>
<path d="M537.11,208.43 L536.97,208.95 L536.06,209.39 L535.60,208.98 L535.37,208.53 L535.38,208.19 L535.66,207.66 L536.24,207.83 L536.93,207.88Z" fill="#15172a" opacity="1.0"/>
<path d="M539.28,208.72 L539.27,209.10 L538.80,209.32 L538.33,209.31 L538.26,209.04 L538.08,208.67 L538.27,208.23 L538.82,208.26 L539.33,208.31Z" fill="#2a3050" opacity="1.0"/>
<circle cx="534.20" cy="213.60" r="0.48" fill="#202540"/>
<circle cx="540.84" cy="214.80" r="0.40" fill="#202540"/>
<path d="M539.15,215.41 L538.88,216.22 L537.81,216.79 L536.85,217.13 L536.21,215.65 L536.34,214.30 L537.23,213.51 L538.03,212.97 L539.10,214.00Z" fill="#0e1022" opacity="1.0"/>
<path d="M539.49,218.95 L539.00,219.49 L538.63,221.02 L537.88,219.95 L537.49,219.22 L536.98,218.28 L537.82,217.59 L538.32,216.97 L539.04,217.76Z" fill="#5a5890" opacity="0.75"/>
<path d="M536.85,272.10 L536.85,272.64 L536.12,272.98 L535.48,272.99 L535.18,272.39 L535.37,272.05 L535.62,271.78 L536.17,271.43 L536.87,271.59Z" fill="#15172a" opacity="1.0"/>
<path d="M539.65,272.71 L539.26,273.20 L539.03,273.30 L538.40,273.03 L538.01,272.79 L538.22,272.50 L538.43,272.08 L538.88,272.13 L539.27,272.20Z" fill="#2a3050" opacity="1.0"/>
<circle cx="534.20" cy="277.40" r="0.48" fill="#202540"/>
<circle cx="540.84" cy="278.60" r="0.40" fill="#202540"/>
<path d="M539.64,279.38 L539.30,280.74 L538.01,280.65 L537.14,281.06 L536.42,279.53 L535.99,278.24 L536.57,277.28 L537.83,277.57 L539.17,278.12Z" fill="#0e1022" opacity="1.0"/>
<path d="M539.50,282.29 L539.01,283.31 L538.62,284.52 L537.85,283.75 L537.19,283.72 L537.27,282.26 L537.57,281.18 L538.32,281.31 L539.17,281.72Z" fill="#5a5890" opacity="0.75"/>
<path d="M534.91,308.49 L534.45,308.98 L534.11,309.09 L533.35,309.04 L532.75,308.69 L533.05,308.18 L533.27,307.66 L534.09,307.49 L534.42,307.80Z" fill="#15172a" opacity="1.0"/>
<path d="M537.42,308.90 L537.08,309.17 L536.58,309.29 L536.07,309.47 L535.73,309.04 L535.82,308.62 L536.34,308.14 L536.61,308.15 L537.07,308.34Z" fill="#2a3050" opacity="1.0"/>
<circle cx="532.00" cy="313.60" r="0.48" fill="#202540"/>
<circle cx="538.64" cy="314.80" r="0.40" fill="#202540"/>
<path d="M536.90,315.38 L536.90,316.05 L536.06,316.89 L535.05,316.68 L533.35,315.93 L533.75,314.28 L534.74,313.04 L536.08,312.62 L536.75,314.27Z" fill="#0e1022" opacity="1.0"/>
<path d="M536.86,318.98 L537.02,320.36 L536.30,320.54 L535.57,319.84 L535.28,319.35 L535.24,318.36 L535.62,317.28 L536.34,316.76 L536.94,317.98Z" fill="#5a5890" opacity="0.75"/>
<path d="M592.62,200.81 L592.42,201.03 L592.22,201.49 L591.68,201.18 L591.09,201.19 L591.18,200.63 L591.60,200.21 L592.01,200.15 L592.54,200.32Z" fill="#15172a" opacity="1.0"/>
<path d="M595.10,201.22 L594.80,201.36 L594.56,201.68 L594.00,201.61 L593.87,201.37 L593.65,200.95 L594.08,200.49 L594.48,200.35 L594.74,200.80Z" fill="#2a3050" opacity="1.0"/>
<circle cx="590.35" cy="205.30" r="0.42" fill="#202540"/>
<circle cx="596.16" cy="206.35" r="0.35" fill="#202540"/>
<path d="M595.19,207.01 L594.46,207.93 L593.77,208.61 L592.90,207.82 L592.21,207.43 L592.39,206.50 L592.66,204.75 L593.90,205.09 L594.78,205.82Z" fill="#0e1022" opacity="1.0"/>
<path d="M594.71,209.61 L594.67,211.34 L593.96,211.33 L593.59,211.24 L593.14,210.33 L593.24,209.62 L593.63,208.85 L593.97,208.52 L594.42,208.92Z" fill="#5a5890" opacity="0.75"/>
<path d="M592.70,279.46 L592.54,280.00 L591.95,280.01 L591.60,279.83 L591.32,279.70 L591.44,279.28 L591.63,279.06 L592.07,278.82 L592.41,279.13Z" fill="#15172a" opacity="1.0"/>
<path d="M595.04,279.84 L594.88,280.38 L594.48,280.52 L594.06,280.19 L593.81,279.99 L593.79,279.68 L594.09,279.18 L594.50,279.06 L594.83,279.52Z" fill="#2a3050" opacity="1.0"/>
<circle cx="590.35" cy="284.00" r="0.42" fill="#202540"/>
<circle cx="596.16" cy="285.05" r="0.35" fill="#202540"/>
<path d="M594.74,285.59 L594.94,286.78 L593.57,287.03 L592.78,286.63 L592.17,286.15 L592.07,285.01 L592.43,283.59 L593.71,283.51 L594.73,284.13Z" fill="#0e1022" opacity="1.0"/>
<path d="M594.60,288.51 L594.74,289.95 L594.06,290.36 L593.58,290.15 L593.37,289.09 L593.14,288.08 L593.36,287.40 L594.14,287.07 L594.61,287.82Z" fill="#5a5890" opacity="0.75"/>
<path d="M647.82,181.28 L647.81,181.88 L646.97,182.53 L646.49,182.06 L645.72,181.87 L645.76,181.26 L646.20,180.61 L647.08,180.64 L648.03,180.82Z" fill="#15172a" opacity="1.0"/>
<path d="M651.08,181.85 L650.72,182.47 L650.17,182.96 L649.81,182.56 L649.59,182.07 L649.13,181.53 L649.81,181.23 L650.20,181.23 L650.58,181.53Z" fill="#2a3050" opacity="1.0"/>
<circle cx="644.73" cy="187.60" r="0.57" fill="#202540"/>
<circle cx="652.61" cy="189.03" r="0.47" fill="#202540"/>
<path d="M651.20,189.78 L650.47,190.68 L649.90,192.44 L647.76,191.52 L647.04,190.10 L646.85,188.24 L647.69,187.55 L649.21,187.11 L650.91,187.65Z" fill="#0e1022" opacity="1.0"/>
<path d="M650.99,193.57 L650.57,195.49 L649.95,195.79 L649.29,195.18 L648.16,194.28 L648.47,193.48 L648.94,191.18 L649.56,191.57 L650.33,192.30Z" fill="#5a5890" opacity="0.75"/>
<path d="M647.93,258.39 L647.91,258.89 L647.20,259.10 L646.42,259.35 L646.25,258.74 L646.05,258.29 L646.23,257.43 L646.93,257.42 L647.75,257.96Z" fill="#15172a" opacity="1.0"/>
<path d="M650.73,258.88 L650.84,259.47 L650.19,259.49 L649.61,259.58 L649.54,259.23 L649.43,258.79 L649.76,258.41 L650.28,258.34 L650.93,258.15Z" fill="#2a3050" opacity="1.0"/>
<circle cx="644.73" cy="264.60" r="0.57" fill="#202540"/>
<circle cx="652.61" cy="266.02" r="0.47" fill="#202540"/>
<path d="M650.85,266.77 L651.24,267.87 L649.12,269.00 L647.75,268.41 L646.95,267.08 L646.53,266.00 L647.64,264.77 L649.09,264.61 L651.06,264.81Z" fill="#0e1022" opacity="1.0"/>
<path d="M650.69,270.66 L650.20,271.97 L649.90,273.36 L648.71,273.13 L648.76,271.47 L648.22,269.45 L648.56,268.79 L649.73,268.33 L650.55,269.47Z" fill="#5a5890" opacity="0.75"/>
<path d="M649.61,313.37 L649.02,313.85 L648.57,314.23 L647.88,313.99 L647.84,313.66 L647.68,312.94 L647.94,312.75 L648.51,312.56 L649.43,312.65Z" fill="#15172a" opacity="1.0"/>
<path d="M652.37,313.83 L652.20,314.23 L651.78,314.57 L651.15,314.43 L650.79,314.24 L650.90,313.44 L651.32,313.15 L651.66,313.18 L652.31,313.38Z" fill="#2a3050" opacity="1.0"/>
<circle cx="646.45" cy="319.20" r="0.54" fill="#202540"/>
<circle cx="653.92" cy="320.55" r="0.45" fill="#202540"/>
<path d="M652.32,320.75 L651.66,322.03 L650.88,323.25 L649.27,322.56 L648.30,322.34 L648.41,320.48 L649.61,319.18 L651.01,319.00 L652.04,318.93Z" fill="#0e1022" opacity="1.0"/>
<path d="M652.03,325.12 L652.14,326.67 L651.49,327.41 L650.21,327.03 L649.76,326.15 L650.03,324.58 L650.55,323.60 L651.22,322.77 L651.78,323.62Z" fill="#5a5890" opacity="0.75"/>
<path d="M502.58,152.20 L501.90,153.19 L501.01,153.27 L501.02,152.36 L501.24,151.00 L501.94,151.53Z" fill="#ff3a5a" opacity="0.9"/>
<path d="M506.49,150.28 L506.02,151.29 L505.50,151.28 L504.92,150.40 L505.29,149.07 L506.20,149.57Z" fill="#ff3a5a" opacity="0.9"/>
<path d="M510.31,151.15 L509.67,152.14 L508.94,152.29 L508.56,151.15 L508.99,150.35 L509.93,150.38Z" fill="#ff3a5a" opacity="0.9"/>
<path d="M512.91,154.72 L512.50,155.57 L511.83,155.96 L511.70,154.79 L511.95,153.62 L512.46,154.12Z" fill="#ff3a5a" opacity="0.9"/>
<circle cx="498.74" cy="160.05" r="0.78" fill="#ff2a30"/>
<circle cx="512.78" cy="162.65" r="0.72" fill="#ff3a8a"/>
<path d="M508.34,162.07 L507.54,163.18 L506.09,165.49 L504.00,165.61 L503.12,163.02 L501.53,161.35 L503.07,159.44 L506.40,158.82 L507.36,160.29Z" fill="#ff1414" opacity="1.0"/>
<path d="M506.29,164.99 L505.48,166.60 L504.72,167.04 L503.46,166.36 L501.90,165.77 L502.47,164.58 L503.63,164.08 L504.31,163.30 L505.42,164.19Z" fill="#f41a20" opacity="1.0"/>
<circle cx="504.12" cy="167.46" r="0.98" fill="#ff80c8" opacity="0.55"/>
<circle cx="502.46" cy="170.06" r="0.98" fill="#ff80c8" opacity="0.55"/>
<circle cx="501.41" cy="172.66" r="0.98" fill="#ff80c8" opacity="0.55"/>
<path d="M507.02,240.98 L506.70,242.20 L505.74,241.87 L505.15,240.82 L505.69,240.13 L506.81,239.77Z" fill="#ff3a5a" opacity="0.9"/>
<path d="M511.64,238.73 L511.07,240.51 L510.20,239.97 L509.83,239.19 L510.21,238.09 L511.19,237.60Z" fill="#ff3a5a" opacity="0.9"/>
<path d="M515.24,240.17 L515.07,241.25 L514.10,241.48 L513.97,239.98 L514.27,238.94 L515.20,238.84Z" fill="#ff3a5a" opacity="0.9"/>
<path d="M518.51,243.70 L517.99,244.88 L517.06,244.96 L516.97,243.80 L517.11,242.61 L517.89,243.09Z" fill="#ff3a5a" opacity="0.9"/>
<circle cx="503.12" cy="249.50" r="0.84" fill="#ff2a30"/>
<circle cx="518.24" cy="252.30" r="0.77" fill="#ff3a8a"/>
<path d="M513.66,251.81 L513.46,253.39 L511.63,254.73 L508.44,254.73 L507.72,252.51 L507.18,249.97 L508.42,249.33 L511.06,248.23 L513.20,249.12Z" fill="#ff1414" opacity="1.0"/>
<path d="M510.66,254.78 L510.47,256.57 L509.22,257.17 L507.66,256.66 L507.18,256.18 L506.98,254.23 L507.54,253.09 L509.28,253.26 L510.34,253.81Z" fill="#f41a20" opacity="1.0"/>
<circle cx="508.54" cy="257.48" r="1.05" fill="#ff80c8" opacity="0.55"/>
<circle cx="507.30" cy="260.28" r="1.05" fill="#ff80c8" opacity="0.55"/>
<circle cx="505.70" cy="263.08" r="1.05" fill="#ff80c8" opacity="0.55"/>
<path d="M511.49,281.25 L511.33,282.44 L510.27,282.07 L510.10,281.18 L510.43,280.16 L511.29,280.28Z" fill="#ff3a5a" opacity="0.9"/>
<path d="M515.57,279.39 L515.23,280.64 L514.49,279.93 L514.00,279.43 L514.39,278.42 L515.19,278.18Z" fill="#ff3a5a" opacity="0.9"/>
<path d="M519.24,280.17 L518.95,281.29 L518.07,281.45 L517.55,280.47 L518.11,279.62 L518.82,279.03Z" fill="#ff3a5a" opacity="0.9"/>
<path d="M522.04,283.95 L521.67,285.15 L521.04,284.91 L520.65,283.80 L521.04,282.55 L521.89,282.68Z" fill="#ff3a5a" opacity="0.9"/>
<circle cx="507.84" cy="289.05" r="0.78" fill="#ff2a30"/>
<circle cx="521.88" cy="291.65" r="0.72" fill="#ff3a8a"/>
<path d="M518.01,290.61 L517.32,293.51 L514.86,293.72 L512.29,293.72 L510.30,292.24 L511.70,289.82 L512.81,287.97 L514.70,287.17 L516.63,289.07Z" fill="#ff1414" opacity="1.0"/>
<path d="M515.45,294.13 L514.64,295.58 L513.24,296.58 L511.90,295.92 L511.72,294.73 L511.40,293.93 L512.68,292.48 L513.37,292.92 L514.33,293.11Z" fill="#f41a20" opacity="1.0"/>
<circle cx="512.51" cy="296.46" r="0.98" fill="#ff80c8" opacity="0.55"/>
<circle cx="512.92" cy="299.06" r="0.98" fill="#ff80c8" opacity="0.55"/>
<circle cx="510.25" cy="301.66" r="0.98" fill="#ff80c8" opacity="0.55"/>
<path d="M563.05,184.02 L562.59,184.63 L561.72,184.86 L561.79,183.84 L561.83,182.89 L562.57,183.14Z" fill="#ff3a5a" opacity="0.9"/>
<path d="M566.24,182.31 L566.03,183.23 L565.36,182.96 L565.07,182.23 L565.20,181.57 L565.90,181.82Z" fill="#ff3a5a" opacity="0.9"/>
<path d="M569.25,183.32 L568.89,183.76 L568.39,183.78 L567.88,183.16 L568.22,182.52 L568.74,182.61Z" fill="#ff3a5a" opacity="0.9"/>
<path d="M571.55,185.93 L571.08,186.83 L570.57,186.85 L570.28,186.04 L570.48,185.08 L571.13,185.23Z" fill="#ff3a5a" opacity="0.9"/>
<circle cx="559.94" cy="190.23" r="0.63" fill="#ff2a30"/>
<circle cx="571.28" cy="192.33" r="0.58" fill="#ff3a8a"/>
<path d="M568.80,192.40 L568.28,193.53 L566.24,194.73 L564.19,194.26 L563.46,192.76 L562.42,191.01 L563.74,190.13 L565.38,189.58 L567.38,190.54Z" fill="#ff1414" opacity="1.0"/>
<path d="M565.56,194.27 L565.87,195.37 L564.35,195.54 L563.30,195.85 L562.80,195.08 L563.03,193.99 L563.89,193.16 L564.91,192.89 L565.74,193.21Z" fill="#f41a20" opacity="1.0"/>
<circle cx="563.41" cy="196.21" r="0.79" fill="#ff80c8" opacity="0.55"/>
<circle cx="563.96" cy="198.31" r="0.79" fill="#ff80c8" opacity="0.55"/>
<circle cx="563.43" cy="200.41" r="0.79" fill="#ff80c8" opacity="0.55"/>
<path d="M563.92,241.58 L563.71,242.25 L563.12,242.38 L562.65,241.32 L562.90,240.67 L563.62,240.53Z" fill="#ff3a5a" opacity="0.9"/>
<path d="M567.44,239.78 L566.96,240.65 L566.39,240.70 L566.07,240.00 L566.50,239.13 L567.08,239.07Z" fill="#ff3a5a" opacity="0.9"/>
<path d="M570.35,240.81 L570.04,241.53 L569.20,241.65 L568.98,240.76 L569.35,239.81 L569.82,240.07Z" fill="#ff3a5a" opacity="0.9"/>
<path d="M572.47,243.63 L572.29,244.25 L571.45,244.43 L571.18,243.39 L571.75,242.71 L572.26,242.95Z" fill="#ff3a5a" opacity="0.9"/>
<circle cx="561.04" cy="247.73" r="0.63" fill="#ff2a30"/>
<circle cx="572.38" cy="249.83" r="0.58" fill="#ff3a8a"/>
<path d="M568.98,248.88 L568.85,251.28 L566.67,251.04 L565.56,250.82 L563.90,250.58 L563.75,248.35 L564.73,247.30 L566.62,247.27 L568.24,248.36Z" fill="#ff1414" opacity="1.0"/>
<path d="M567.25,251.81 L566.39,252.72 L565.69,253.15 L564.60,253.50 L563.59,252.21 L564.08,251.65 L564.62,250.60 L565.82,250.89 L566.32,251.00Z" fill="#f41a20" opacity="1.0"/>
<circle cx="565.01" cy="253.71" r="0.79" fill="#ff80c8" opacity="0.55"/>
<circle cx="565.37" cy="255.81" r="0.79" fill="#ff80c8" opacity="0.55"/>
<circle cx="564.10" cy="257.91" r="0.79" fill="#ff80c8" opacity="0.55"/>
<path d="M566.04,300.91 L565.75,301.82 L564.93,301.80 L564.64,301.00 L565.27,300.27 L565.99,300.04Z" fill="#ff3a5a" opacity="0.9"/>
<path d="M569.38,299.50 L569.21,300.20 L568.64,299.97 L568.31,299.36 L568.40,298.60 L569.13,298.82Z" fill="#ff3a5a" opacity="0.9"/>
<path d="M572.40,300.23 L572.04,300.96 L571.40,301.28 L570.96,300.10 L571.50,299.53 L571.96,299.54Z" fill="#ff3a5a" opacity="0.9"/>
<path d="M574.51,303.02 L574.35,303.97 L573.71,304.11 L573.33,303.03 L573.60,302.03 L574.30,302.01Z" fill="#ff3a5a" opacity="0.9"/>
<circle cx="563.14" cy="307.23" r="0.63" fill="#ff2a30"/>
<circle cx="574.48" cy="309.32" r="0.58" fill="#ff3a8a"/>
<path d="M570.62,308.72 L570.77,310.91 L568.73,310.56 L567.22,310.20 L565.29,309.80 L566.55,308.32 L567.34,306.39 L568.84,305.78 L570.68,306.59Z" fill="#ff1414" opacity="1.0"/>
<path d="M568.65,311.39 L568.69,312.65 L567.93,312.65 L566.98,312.73 L566.13,312.07 L566.10,310.86 L567.05,310.42 L567.64,310.28 L568.74,310.27Z" fill="#f41a20" opacity="1.0"/>
<circle cx="566.63" cy="313.21" r="0.79" fill="#ff80c8" opacity="0.55"/>
<circle cx="566.93" cy="315.31" r="0.79" fill="#ff80c8" opacity="0.55"/>
<circle cx="564.86" cy="317.41" r="0.79" fill="#ff80c8" opacity="0.55"/>
<path d="M605.71,152.93 L605.36,153.45 L604.69,153.73 L604.57,153.04 L604.96,152.35 L605.33,152.22Z" fill="#ff3a5a" opacity="0.9"/>
<path d="M608.68,151.54 L608.44,152.31 L607.91,152.07 L607.76,151.44 L607.92,150.64 L608.42,150.65Z" fill="#ff3a5a" opacity="0.9"/>
<path d="M611.26,152.24 L611.21,152.84 L610.63,152.84 L610.43,152.30 L610.65,151.60 L611.10,151.42Z" fill="#ff3a5a" opacity="0.9"/>
<path d="M613.59,154.65 L613.11,155.36 L612.71,155.52 L612.43,154.70 L612.70,154.27 L613.18,154.29Z" fill="#ff3a5a" opacity="0.9"/>
<circle cx="603.06" cy="158.57" r="0.57" fill="#ff2a30"/>
<circle cx="613.32" cy="160.47" r="0.52" fill="#ff3a8a"/>
<path d="M609.88,159.79 L609.34,161.36 L608.33,161.68 L607.27,161.60 L605.52,160.92 L606.04,159.46 L606.60,158.56 L607.97,157.48 L610.31,157.93Z" fill="#ff1414" opacity="1.0"/>
<path d="M608.60,162.30 L607.94,163.36 L607.08,164.00 L606.52,163.32 L606.10,162.81 L605.88,162.11 L606.59,161.05 L607.32,161.50 L608.54,161.55Z" fill="#f41a20" opacity="1.0"/>
<circle cx="607.27" cy="163.99" r="0.71" fill="#ff80c8" opacity="0.55"/>
<circle cx="605.27" cy="165.89" r="0.71" fill="#ff80c8" opacity="0.55"/>
<circle cx="605.02" cy="167.79" r="0.71" fill="#ff80c8" opacity="0.55"/>
<path d="M608.94,235.85 L608.77,236.58 L608.03,236.32 L607.75,235.86 L608.08,235.29 L608.61,235.33Z" fill="#ff3a5a" opacity="0.9"/>
<path d="M612.05,234.30 L611.65,235.33 L611.21,234.91 L610.78,234.36 L611.09,233.77 L611.66,233.85Z" fill="#ff3a5a" opacity="0.9"/>
<path d="M614.79,234.96 L614.25,235.75 L613.69,235.72 L613.50,235.12 L613.81,234.34 L614.35,234.25Z" fill="#ff3a5a" opacity="0.9"/>
<path d="M616.69,237.74 L616.38,238.26 L615.91,238.53 L615.66,237.69 L615.79,236.75 L616.29,237.13Z" fill="#ff3a5a" opacity="0.9"/>
<circle cx="606.26" cy="241.47" r="0.57" fill="#ff2a30"/>
<circle cx="616.52" cy="243.38" r="0.52" fill="#ff3a8a"/>
<path d="M614.16,243.15 L613.45,244.35 L611.94,245.52 L609.50,245.24 L608.58,244.04 L609.05,242.47 L609.78,240.79 L611.41,240.74 L613.58,241.73Z" fill="#ff1414" opacity="1.0"/>
<path d="M611.75,245.53 L611.43,246.37 L610.27,246.39 L609.66,246.53 L609.07,245.57 L609.20,244.94 L609.48,244.07 L610.48,244.02 L611.18,244.41Z" fill="#f41a20" opacity="1.0"/>
<circle cx="609.51" cy="246.89" r="0.71" fill="#ff80c8" opacity="0.55"/>
<circle cx="608.64" cy="248.79" r="0.71" fill="#ff80c8" opacity="0.55"/>
<circle cx="609.06" cy="250.69" r="0.71" fill="#ff80c8" opacity="0.55"/>
<path d="M611.13,297.62 L610.82,298.24 L610.15,298.28 L609.74,297.39 L610.28,296.91 L610.69,296.75Z" fill="#ff3a5a" opacity="0.9"/>
<path d="M614.20,296.13 L613.83,296.79 L613.27,296.78 L613.00,295.92 L613.30,295.38 L613.94,295.31Z" fill="#ff3a5a" opacity="0.9"/>
<path d="M616.74,296.73 L616.51,297.57 L615.85,297.65 L615.64,296.89 L615.91,296.18 L616.40,296.34Z" fill="#ff3a5a" opacity="0.9"/>
<path d="M618.82,299.25 L618.54,299.94 L617.96,300.26 L617.79,299.29 L617.92,298.56 L618.51,298.53Z" fill="#ff3a5a" opacity="0.9"/>
<circle cx="608.36" cy="303.18" r="0.57" fill="#ff2a30"/>
<circle cx="618.62" cy="305.08" r="0.52" fill="#ff3a8a"/>
<path d="M615.98,305.03 L615.10,305.49 L613.87,306.95 L612.49,306.10 L610.81,305.92 L610.47,303.98 L611.33,302.57 L613.85,302.97 L615.52,302.65Z" fill="#ff1414" opacity="1.0"/>
<path d="M613.98,307.14 L613.58,307.77 L612.89,308.55 L611.85,308.01 L611.15,307.52 L611.09,306.53 L611.91,305.74 L612.41,305.62 L613.26,306.39Z" fill="#f41a20" opacity="1.0"/>
<circle cx="612.08" cy="308.59" r="0.71" fill="#ff80c8" opacity="0.55"/>
<circle cx="611.67" cy="310.49" r="0.71" fill="#ff80c8" opacity="0.55"/>
<circle cx="610.67" cy="312.39" r="0.71" fill="#ff80c8" opacity="0.55"/>
<path d="M670.76,151.70 L670.76,152.67 L670.00,152.34 L669.52,151.86 L669.96,150.98 L670.38,151.10Z" fill="#ff3a5a" opacity="0.9"/>
<path d="M674.31,150.23 L674.23,151.13 L673.26,151.02 L673.24,150.04 L673.37,148.95 L674.05,149.56Z" fill="#ff3a5a" opacity="0.9"/>
<path d="M677.64,151.04 L677.04,151.80 L676.52,151.79 L676.16,150.97 L676.47,150.04 L677.18,150.21Z" fill="#ff3a5a" opacity="0.9"/>
<path d="M679.90,154.13 L679.66,155.05 L678.78,154.76 L678.34,153.94 L678.93,153.31 L679.44,153.32Z" fill="#ff3a5a" opacity="0.9"/>
<circle cx="667.78" cy="158.35" r="0.66" fill="#ff2a30"/>
<circle cx="679.66" cy="160.55" r="0.61" fill="#ff3a8a"/>
<path d="M677.31,160.45 L675.36,160.96 L674.12,162.96 L672.29,161.72 L670.77,160.45 L670.64,159.58 L672.36,158.37 L673.81,157.83 L675.51,158.29Z" fill="#ff1414" opacity="1.0"/>
<path d="M673.82,162.56 L673.28,163.66 L672.57,163.86 L671.56,164.21 L671.42,163.17 L670.88,162.35 L671.86,161.70 L672.49,161.62 L673.42,162.05Z" fill="#f41a20" opacity="1.0"/>
<circle cx="673.08" cy="164.62" r="0.83" fill="#ff80c8" opacity="0.55"/>
<circle cx="672.03" cy="166.82" r="0.83" fill="#ff80c8" opacity="0.55"/>
<circle cx="669.98" cy="169.02" r="0.83" fill="#ff80c8" opacity="0.55"/>
<path d="M669.35,215.75 L668.90,216.62 L668.43,216.92 L667.90,215.79 L668.35,214.99 L669.00,214.56Z" fill="#ff3a5a" opacity="0.9"/>
<path d="M673.08,213.98 L672.61,215.18 L671.93,215.09 L671.65,214.23 L671.93,213.05 L672.61,213.33Z" fill="#ff3a5a" opacity="0.9"/>
<path d="M675.95,214.99 L675.82,215.90 L674.84,215.75 L674.69,214.98 L675.00,214.18 L675.63,214.03Z" fill="#ff3a5a" opacity="0.9"/>
<path d="M678.55,218.11 L678.04,219.13 L677.45,218.50 L677.04,217.77 L677.35,217.23 L678.03,217.19Z" fill="#ff3a5a" opacity="0.9"/>
<circle cx="666.28" cy="222.35" r="0.66" fill="#ff2a30"/>
<circle cx="678.16" cy="224.55" r="0.61" fill="#ff3a8a"/>
<path d="M674.53,224.25 L674.36,226.24 L671.97,226.00 L670.50,226.42 L668.94,225.14 L669.57,223.63 L669.99,221.10 L672.39,221.76 L674.58,221.86Z" fill="#ff1414" opacity="1.0"/>
<path d="M672.33,226.48 L671.88,227.31 L671.45,228.35 L670.29,227.71 L669.34,227.22 L669.60,226.10 L670.19,225.32 L671.47,225.28 L671.89,226.09Z" fill="#f41a20" opacity="1.0"/>
<circle cx="670.43" cy="228.62" r="0.83" fill="#ff80c8" opacity="0.55"/>
<circle cx="669.87" cy="230.82" r="0.83" fill="#ff80c8" opacity="0.55"/>
<circle cx="668.40" cy="233.02" r="0.83" fill="#ff80c8" opacity="0.55"/>
<path d="M667.28,287.29 L666.93,288.12 L666.18,288.05 L665.80,287.25 L666.05,286.33 L667.00,286.51Z" fill="#ff3a5a" opacity="0.9"/>
<path d="M670.88,285.71 L670.62,286.39 L669.86,286.35 L669.72,285.56 L669.88,284.45 L670.57,284.71Z" fill="#ff3a5a" opacity="0.9"/>
<path d="M674.11,286.62 L673.74,287.32 L673.04,287.50 L672.54,286.46 L673.13,285.76 L673.69,285.82Z" fill="#ff3a5a" opacity="0.9"/>
<path d="M676.63,289.62 L676.30,290.64 L675.69,290.49 L675.19,289.67 L675.51,288.87 L676.27,288.84Z" fill="#ff3a5a" opacity="0.9"/>
<circle cx="664.02" cy="294.27" r="0.69" fill="#ff2a30"/>
<circle cx="676.44" cy="296.57" r="0.63" fill="#ff3a8a"/>
<path d="M673.15,295.90 L672.53,298.27 L670.06,298.53 L668.85,298.84 L667.20,297.18 L667.51,295.32 L668.81,294.21 L670.29,292.51 L671.98,294.48Z" fill="#ff1414" opacity="1.0"/>
<path d="M670.56,298.74 L670.10,299.90 L669.29,300.63 L668.14,299.99 L666.90,299.20 L667.30,297.99 L668.05,297.41 L669.05,297.43 L670.23,298.00Z" fill="#f41a20" opacity="1.0"/>
<circle cx="669.22" cy="300.83" r="0.86" fill="#ff80c8" opacity="0.55"/>
<circle cx="667.48" cy="303.13" r="0.86" fill="#ff80c8" opacity="0.55"/>
<circle cx="666.40" cy="305.43" r="0.86" fill="#ff80c8" opacity="0.55"/>
<circle cx="557" cy="152.5" r="1.3" fill="#ff60b0"/>
<rect x="674.00" y="320.00" width="6.00" height="1.80" fill="#111"/>
<text x="677.00" y="318.20" font-size="3.2" fill="#333" text-anchor="middle">5mm</text>
<rect x="521.80" y="149.30" width="0.00" height="0.00" fill="none"/>
<text x="4.20" y="400.90" font-size="11.7" fill="#111">Run-to-exhaustion Test</text>
<path d="M34,444.6 C55,447 75,447 93,444.6" stroke="#1a1a1a" stroke-width="3.0" fill="none"/>
<path d="M34,444.6 C55,447 75,447 93,444.6" stroke="#c8302f" stroke-width="1.6" fill="none" stroke-dasharray="3.2,1.3"/>
<path d="M34,447.3 C55,449.7 75,449.7 93,447.3" stroke="#1a1a1a" stroke-width="1.3" fill="none" stroke-dasharray="0.9,1.1"/>
<path d="M34,461.0 C55,458.6 75,458.6 93,461.0" stroke="#1a1a1a" stroke-width="3.0" fill="none"/>
<path d="M34,461.0 C55,458.6 75,458.6 93,461.0" stroke="#c8302f" stroke-width="1.6" fill="none" stroke-dasharray="3.2,1.3"/>
<path d="M34,458.3 C55,455.9 75,455.9 93,458.3" stroke="#1a1a1a" stroke-width="1.3" fill="none" stroke-dasharray="0.9,1.1"/>
<circle cx="26.3" cy="450.9" r="12.6" fill="#fff" stroke="#111" stroke-width="1.5"/>
<circle cx="26.3" cy="450.9" r="10.4" fill="none" stroke="#222" stroke-width="0.45"/>
<circle cx="26.3" cy="450.9" r="4.3" fill="none" stroke="#111" stroke-width="1.3"/>
<circle cx="26.3" cy="450.9" r="2.2" fill="none" stroke="#111" stroke-width="0.8"/>
<path d="M17.3,447 l2,-2 M16.8,449 l2.5,-2.5 M33.3,455 l2,-2 M32.8,457 l2.5,-2.5" stroke="#333" stroke-width="0.5"/>
<circle cx="101.3" cy="450.9" r="12.6" fill="#fff" stroke="#111" stroke-width="1.5"/>
<circle cx="101.3" cy="450.9" r="10.4" fill="none" stroke="#222" stroke-width="0.45"/>
<circle cx="101.3" cy="450.9" r="4.3" fill="none" stroke="#111" stroke-width="1.3"/>
<circle cx="101.3" cy="450.9" r="2.2" fill="none" stroke="#111" stroke-width="0.8"/>
<path d="M92.3,447 l2,-2 M91.8,449 l2.5,-2.5 M108.3,455 l2,-2 M107.8,457 l2.5,-2.5" stroke="#333" stroke-width="0.5"/>
<path d="M72.6,430.4 C76,427 79,423 83,421 C88,419 94,420.5 100,419.3" stroke="#d49580" stroke-width="1.5" fill="none" stroke-linecap="round"/>
<path d="M47.5,440.5 L45.5,442 M50,440 L48.5,442.3 M56.9,439 L57.2,442.5 M62,439 L64,442.8 M76,437 L80.8,442" stroke="#d49580" stroke-width="1.5" fill="none" stroke-linecap="round"/>
<path d="M41.1,428.1 C42,425.5 44,424 46.4,424 C49,423 52,424.5 55,424.8 C60,424 65,424.5 69,427 C73,429.5 75.5,432.5 75.5,436 C75,438.5 72.5,439 69,438.5 C64,439.5 58,439.5 53,438.5 C50,438.5 48,437.5 47,436 C45,433 43,431 41.1,429Z" fill="#fdfcfb" stroke="#d8d0cc" stroke-width="0.5"/>
<path d="M60,438.8 C64,436 70,435 75.5,435.5 C75,438.5 72.5,439 69,438.5 C66,439.2 63,439.2 60,438.8Z" fill="#ebe5e2"/>
<path d="M47,436 C50,434 54,434 57,436.5 C54,438.5 50,438.5 47,436Z" fill="#efe9e6"/>
<ellipse cx="50.8" cy="426.1" rx="2.2" ry="2" fill="#d8907a"/><circle cx="45" cy="427.4" r="0.7" fill="#555"/><circle cx="41.3" cy="428.3" r="0.6" fill="#e8a0a0"/>
<path d="M29.5,431.5 C26,429.5 22,429.5 19,431.8" stroke="#222" stroke-width="0.7" fill="none"/><path d="M18.5,432.5 L21.5,429.8 L21.8,432.8Z" fill="#222"/>
<path d="M112.5,431 C116,432.5 118.5,435 119.5,438.5" stroke="#222" stroke-width="0.7" fill="none"/><path d="M111.5,430.5 L115,430.8 L113.2,433.3Z" fill="#222"/>
<text x="263.50" y="353.00" font-size="12.0" fill="#111" text-anchor="middle">2W</text>
<text x="539.40" y="352.80" font-size="12.0" fill="#111" text-anchor="middle">4W</text>
<text x="381.30" y="536.00" font-size="12.9" fill="#111" text-anchor="middle">Mechanical Test (4w)</text>
<g transform="translate(447,533.8) scale(-1.0,1.0)">
<path d="M42,58.5 C30,59.5 16,58.5 9,60.5 C5,62 3,65 2.6,67.8" stroke="#d7a58e" stroke-width="1.7" fill="none" stroke-linecap="round"/>
<path d="M58,61 C61,64.5 68,65.5 73,63" stroke="#d9a38d" stroke-width="2.6" fill="none" stroke-linecap="round"/>
<path d="M41.5,58.5 C42,52 43,49 44.4,47.4 C47,41 50,37 54.2,35.3 C59,33.5 63,33 67.4,33.1 C72,33.3 76,34.3 79.5,34 C81,30.5 83,28.5 86,27.7 C88.5,27.7 90,29 91.5,30.4 C95,31 98.5,31.5 101.3,32 C105,32.6 108,33 110,33.7 C109,35.5 107.5,37 105.7,38 C102.5,40 99.5,42.5 97,45.2 C94,48 90.5,50 87,51.8 C84,54 80,56.5 76.1,57.2 C72,58.5 66,59 60,58.8 C54,58.8 48,58.5 41.5,58.5Z" fill="#fdfcfb" stroke="#cfc7c3" stroke-width="0.55"/>
<path d="M44.4,47.4 C47,41 50,37 54.2,35.3 C53,42 54,51 57,58.8 C52,58.8 47,58.6 42,58.4 C42.3,53 43,50 44.4,47.4Z" fill="#f1e8e4"/>
<ellipse cx="85" cy="35" rx="3.6" ry="4.1" fill="#d99f89" transform="rotate(-15 85 35)"/>
<circle cx="95.6" cy="35.3" r="1.3" fill="#a8261e"/>
<path d="M99,40 L96.5,46 M100,40 L99,47 M101,40 L103,46.5 M102,37 L106,27 M103,37.5 L109,26 M104,37.5 L111,29" stroke="#8a8a8a" stroke-width="0.35" fill="none"/>
<path d="M88,42 C90,41 92,41.5 94,42.5" stroke="#e2c2b5" stroke-width="0.5" fill="none"/>
<path d="M84,54 C84,58 86,61.5 89,63.5 M87.5,54 C88,58 90.5,60.5 92.5,62 M85,57 L82.5,61" stroke="#d9a38d" stroke-width="1.7" fill="none" stroke-linecap="round"/>
</g>
<rect x="379" y="583.8" width="13.5" height="10" fill="#f3efec" stroke="#0c0c0c" stroke-width="1.8"/>
<line x1="379.50" y1="594.50" x2="363.30" y2="611.70" stroke="#333" stroke-width="0.8"/>
<line x1="392.00" y1="594.50" x2="408.80" y2="611.70" stroke="#333" stroke-width="0.8"/>
<defs><clipPath id="mell"><ellipse cx="386" cy="622.7" rx="31.2" ry="12.8"/></clipPath>
<radialGradient id="mellg" cx="0.45" cy="0.5" r="0.6"><stop offset="0" stop-color="#4a9ccc"/><stop offset="1" stop-color="#2f7fb8"/></radialGradient></defs>
<g clip-path="url(#mell)">
<ellipse cx="386" cy="622.7" rx="31.2" ry="12.8" fill="url(#mellg)"/>
<path d="M368,621 C372,614 384,615 392,620 C398,623 408,618 416,616.5 L418,624 C410,626 400,629.5 390,629.5 C380,631 370,630 368,621Z" fill="#cfc494" filter="url(#bl05)"/>
<ellipse cx="378.5" cy="622.5" rx="8.5" ry="5.5" fill="#b3293a" filter="url(#bl05)"/>
<ellipse cx="414" cy="622" rx="4" ry="8" fill="#2fa070"/>
<rect x="377.5" y="608" width="1.2" height="16" fill="#ddd"/>
</g>
<text x="316.30" y="671.30" font-size="10.0" fill="#111">4 weeks</text>
<text x="316.30" y="682.00" font-size="10.0" fill="#111">after surgery</text>
<text x="401.30" y="671.30" font-size="10.0" fill="#111">Tendon</text>
<text x="401.30" y="682.00" font-size="10.0" fill="#111">samples</text>
<rect x="384.3" y="659.4" width="4.2" height="44" fill="#5a5a5a"/>
<path d="M381.2,700 L386.4,714.6 L391.6,700Z" fill="#555"/>
<defs><linearGradient id="gripg" x1="0" y1="0" x2="1" y2="0"><stop offset="0" stop-color="#c9e2ea"/><stop offset="0.6" stop-color="#c0dbe5"/><stop offset="1" stop-color="#aacfdc"/></linearGradient></defs>
<path d="M337.3,747 L346.5,747 C344,754 343.2,758 343.2,761.5 C343.2,765 344,769 346.5,776 L337.3,776 C339.8,769 340.6,765 340.6,761.5 C340.6,758 339.8,754 337.3,747Z" fill="#c9c4c4"/>
<rect x="331.30" y="725.50" width="21" height="19.00" rx="3" fill="url(#gripg)"/>
<ellipse cx="341.80" cy="727.30" rx="10.3" ry="2" fill="#d6eaf0"/>
<rect x="336.80" y="744.00" width="10" height="4" fill="#b8d6e0"/>
<rect x="331.30" y="778.50" width="21" height="19.50" rx="3" fill="url(#gripg)"/>
<ellipse cx="341.80" cy="780.30" rx="10.3" ry="2" fill="#d6eaf0"/>
<rect x="336.80" y="775.00" width="10" height="4" fill="#b8d6e0"/>
<rect x="340.90" y="712.00" width="2.2" height="10.00" fill="#8ec8e0"/>
<path d="M338.40,713.00 L342.00,708.00 L345.60,713.00Z" fill="#8ec8e0"/>
<rect x="340.90" y="801.00" width="2.2" height="10.50" fill="#8ec8e0"/>
<path d="M338.40,810.50 L342.00,815.50 L345.60,810.50Z" fill="#8ec8e0"/>
<path d="M429,747 L436,747 C435,752 434.5,756 435,759 L430,760 C430.5,756 430,752 429,747Z" fill="#cdc8c8"/>
<path d="M430,763 L435.5,762 C435,768 435.5,772 436,776 L429,776 C430,772 430.5,768 430,763Z" fill="#cdc8c8"/>
<rect x="421.90" y="725.50" width="21" height="19.00" rx="3" fill="url(#gripg)"/>
<ellipse cx="432.40" cy="727.30" rx="10.3" ry="2" fill="#d6eaf0"/>
<rect x="427.40" y="744.00" width="10" height="4" fill="#b8d6e0"/>
<rect x="421.90" y="778.50" width="21" height="19.50" rx="3" fill="url(#gripg)"/>
<ellipse cx="432.40" cy="780.30" rx="10.3" ry="2" fill="#d6eaf0"/>
<rect x="427.40" y="775.00" width="10" height="4" fill="#b8d6e0"/>
<rect x="425.20" y="712.00" width="2.2" height="10.00" fill="#8ec8e0"/>
<path d="M422.70,713.00 L426.30,708.00 L429.90,713.00Z" fill="#8ec8e0"/>
<rect x="437.00" y="712.00" width="2.2" height="10.00" fill="#8ec8e0"/>
<path d="M434.50,713.00 L438.10,708.00 L441.70,713.00Z" fill="#8ec8e0"/>
<rect x="425.20" y="801.00" width="2.2" height="10.50" fill="#8ec8e0"/>
<path d="M422.70,810.50 L426.30,815.50 L429.90,810.50Z" fill="#8ec8e0"/>
<rect x="437.00" y="801.00" width="2.2" height="10.50" fill="#8ec8e0"/>
<path d="M434.50,810.50 L438.10,815.50 L441.70,810.50Z" fill="#8ec8e0"/>
<text x="361.90" y="741.90" font-size="10.0" fill="#111">Increasing</text>
<text x="359.20" y="752.10" font-size="10.0" fill="#111">Tensile Force</text>
<rect x="361.90" y="758.80" width="42.60" height="3.80" fill="url(#arrg)"/>
<path d="M403.50,756.10 L416.00,760.70 L403.50,765.30Z" fill="#555"/>
</svg>
</body></html>
